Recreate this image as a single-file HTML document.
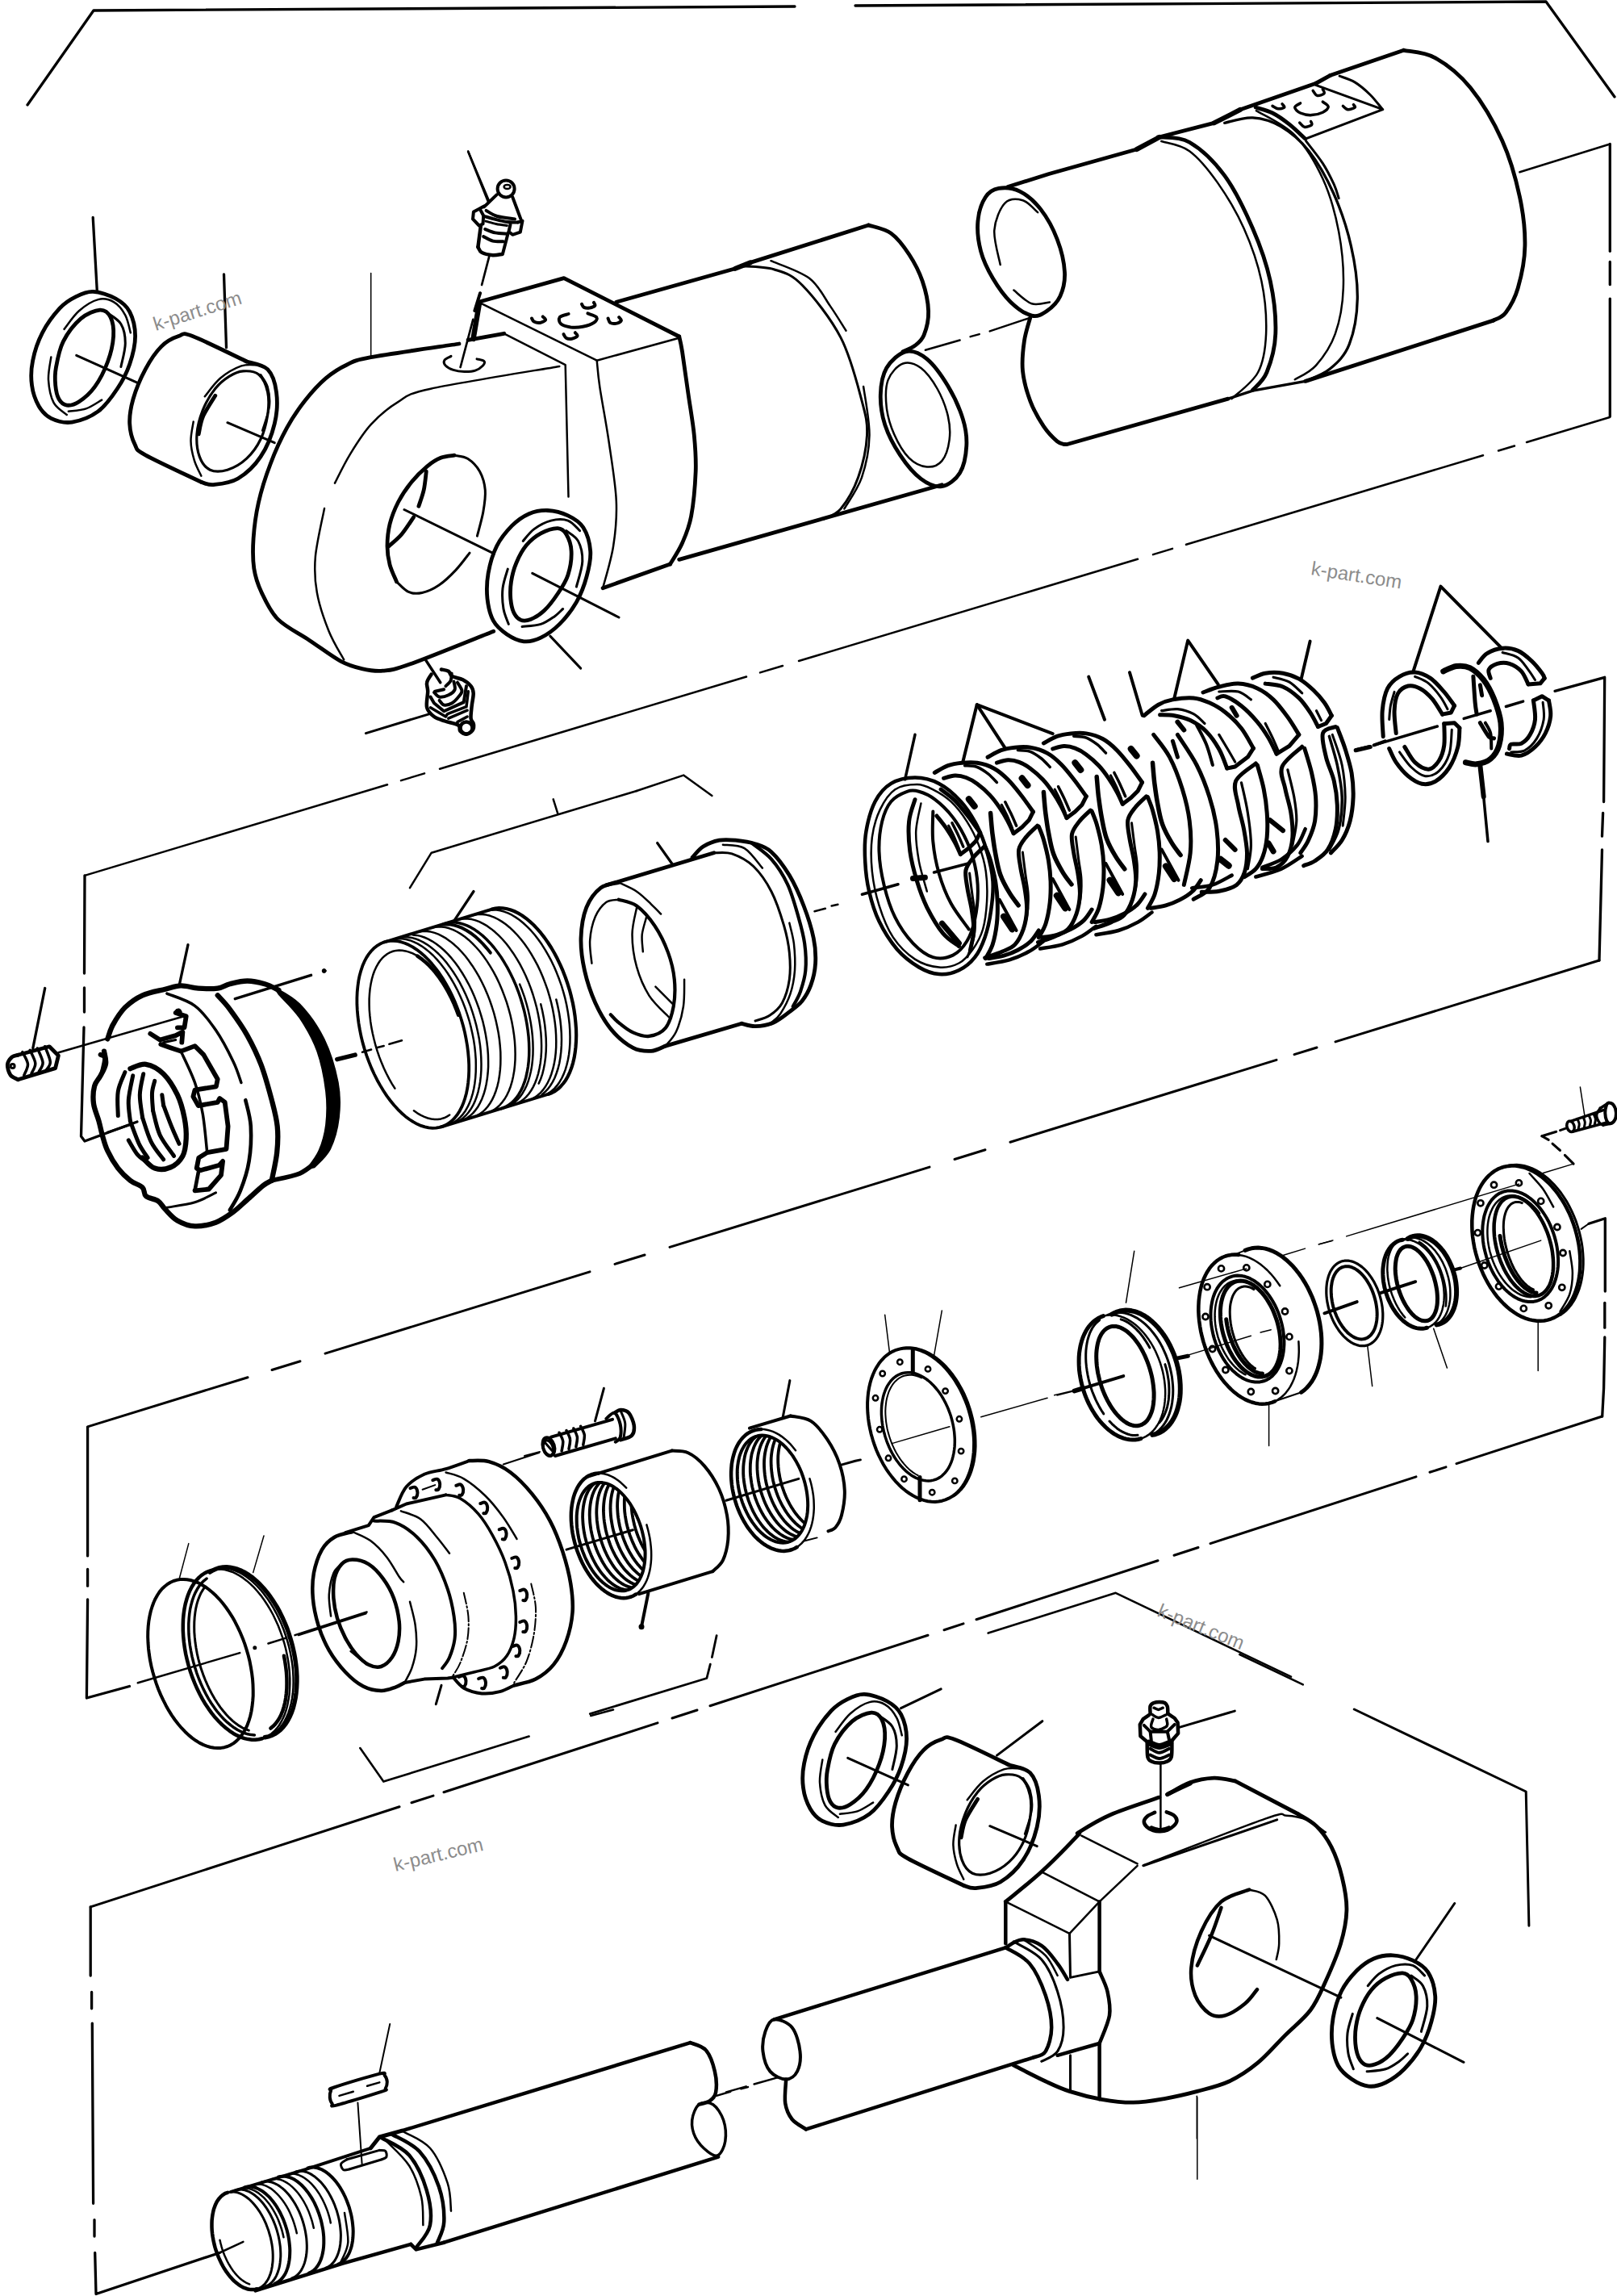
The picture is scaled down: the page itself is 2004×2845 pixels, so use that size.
<!DOCTYPE html>
<html><head><meta charset="utf-8"><title>diagram</title>
<style>html,body{margin:0;padding:0;background:#fff}svg{display:block}text{font-family:"Liberation Sans",sans-serif}</style></head>
<body><svg width="2004" height="2845" viewBox="0 0 2004 2845" fill="none" stroke="#000" stroke-linecap="round" stroke-linejoin="round">
<rect x="0" y="0" width="2004" height="2845" fill="#fff" stroke="none"/>
<path d="M34.0,130.0 L116.0,13.0 L985.0,8.0" stroke-width="3.3" />
<path d="M1060.0,7.0 L1916.0,2.0 L2001.0,120.0" stroke-width="3.3" />
<path d="M1995.3,178.5 L1995.3,311.3" stroke-width="3.3" />
<path d="M1995.3,324.4 L1995.3,352.7" stroke-width="3.3" />
<path d="M1995.3,370.1 L1995.3,515.9" stroke-width="3.3" />
<path d="M1995.3,178.5 L1883.4,213.3" stroke-width="2.5" />
<path d="M115.2,269.3 L120.3,360.6" stroke-width="3.3" />
<path d="M277.5,339.8 L280.5,430.7" stroke-width="3.3" />
<path d="M459.7,338.5 L459.7,443.7" stroke-width="1.5" />
<path d="M580.1,187.4 L606.1,248.9" stroke-width="2.5" />
<text x="193" y="410" transform="rotate(-17.5 193 410)" font-size="24" fill="#8c8c8c" stroke="none">k-part.com</text>
<path d="M580.5,188.4 L604.6,248.9" stroke-width="2.7" />
<circle cx="627.1" cy="233.9" r="10.5" stroke-width="4"/>
<ellipse cx="628.6" cy="231.4" rx="4" ry="2.5" stroke-width="2.5"/>
<path d="M615.5,241.4 L599.9,256.4" stroke-width="4" />
<path d="M635.2,244.1 L645.4,271.4" stroke-width="4" />
<path d="M599.9,255.4 L594.4,258.4 L586.9,262.5 L586.0,271.4 L593.7,279.5 L598.5,277.5 L599.2,267.3 L594.4,258.4" stroke-width="4" />
<path d="M602.6,260.9 C604.9,262.1 610.3,266.2 616.2,268.0 C622.1,269.7 634.3,270.8 638.0,271.4" stroke-width="4" />
<path d="M599.2,267.7 C601.1,268.2 605.9,269.7 610.7,271.0 C615.6,272.2 623.2,274.3 628.4,275.0 C633.7,275.8 639.8,275.4 642.0,275.4" stroke-width="4" />
<path d="M642.0,275.4 L647.5,273.7 L644.8,287.7 L635.2,290.8 L630.5,287.0 L632.5,278.2" stroke-width="4" />
<path d="M595.8,280.2 L592.4,306.1" stroke-width="4.5" />
<path d="M592.4,306.1 C593.2,307.2 594.1,311.2 597.1,312.9 C600.2,314.6 606.6,315.9 610.7,316.3 C614.9,316.6 620.4,315.1 622.3,314.9" stroke-width="4.5" />
<path d="M629.8,288.4 L623.0,314.5" stroke-width="4" />
<path d="M601.2,284.0 C603.3,284.7 609.0,287.4 613.5,288.4 C617.9,289.3 625.4,289.5 627.8,289.7" stroke-width="4" />
<path d="M599.2,293.1 C601.1,294.0 606.7,297.6 610.7,298.6 C614.8,299.6 621.5,299.1 623.7,299.3" stroke-width="4" />
<path d="M601.9,274.1 C604.1,274.6 610.4,276.6 614.8,277.5 C619.3,278.4 626.2,279.2 628.4,279.5" stroke-width="3" />
<path d="M606.3,317.6 L597.1,353.0" stroke-width="2.7" />
<path d="M595.1,363.2 L588.3,385.0" stroke-width="4" />
<path d="M586.3,395.9 L570.6,455.0" stroke-width="2.7" />
<path d="M593.7,374.1 L590.3,385.0" stroke-width="2" />
<path d="M559.0,441.4 C557.7,442.2 552.0,444.3 550.9,446.2 C549.8,448.1 550.4,451.0 552.2,453.0 C554.1,455.0 557.9,457.2 561.8,458.4 C565.6,459.7 570.8,460.4 575.4,460.5 C579.9,460.6 585.1,460.4 589.0,459.1 C592.8,457.9 596.7,454.9 598.5,453.0 C600.3,451.1 601.1,448.9 599.9,447.6 C598.6,446.2 592.5,445.3 591.0,444.8" stroke-width="3" />
<path d="M704.6,389.0 C702.8,389.7 695.3,391.1 693.7,393.1 C692.2,395.2 692.8,399.3 695.1,401.3 C697.4,403.3 702.8,404.8 707.3,405.4 C711.9,405.9 717.6,405.6 722.3,404.7 C727.1,403.8 733.1,401.9 735.9,399.9 C738.8,398.0 740.6,395.1 739.3,393.1 C738.1,391.2 730.2,389.2 728.4,388.4" stroke-width="4" />
<path d="M721.0,376.8 C721.4,377.5 722.1,380.1 723.7,380.9 C725.3,381.7 728.2,381.9 730.5,381.6 C732.7,381.2 736.4,380.0 737.3,378.8 C738.2,377.7 736.1,375.4 735.9,374.8" stroke-width="4" />
<path d="M659.0,394.5 C659.5,395.2 660.1,397.7 661.8,398.6 C663.5,399.5 666.9,400.3 669.3,399.9 C671.6,399.6 675.5,397.8 676.1,396.5 C676.6,395.3 673.2,393.1 672.7,392.4" stroke-width="4" />
<path d="M698.5,414.2 C699.1,415.0 700.2,418.1 701.9,419.0 C703.6,419.9 706.4,420.1 708.7,419.7 C711.0,419.2 714.8,417.5 715.5,416.3 C716.2,415.0 713.2,412.9 712.8,412.2" stroke-width="4" />
<path d="M753.6,394.5 C754.1,395.4 754.5,398.9 756.3,399.9 C758.1,401.0 762.2,401.1 764.5,400.6 C766.8,400.2 769.5,398.5 769.9,397.2 C770.4,396.0 767.7,393.8 767.2,393.1" stroke-width="4" />
<path d="M115.2,361.4 C123.5,361.7 135.8,365.9 143.4,370.0 C151.0,374.2 156.7,378.5 160.7,386.3 C164.7,394.0 167.6,405.8 167.6,416.6 C167.6,427.4 164.4,440.4 160.7,451.2 C157.0,462.0 152.0,471.8 145.5,481.5 C139.0,491.3 131.1,502.7 121.7,509.7 C112.4,516.6 99.0,521.6 89.3,523.1 C79.5,524.5 70.1,521.6 63.3,518.3 C56.4,515.0 52.1,510.0 48.1,503.2 C44.2,496.3 40.7,486.6 39.5,477.2 C38.2,467.8 38.4,457.7 40.6,446.9 C42.7,436.1 46.9,423.1 52.5,412.3 C58.1,401.4 67.3,389.3 74.1,381.9 C81.0,374.6 86.7,371.3 93.6,367.9 C100.4,364.5 106.9,361.0 115.2,361.4Z" stroke-width="4.8" />
<path d="M79.5,407.9 C82.6,404.1 90.9,391.3 97.9,385.2 C105.0,379.1 114.5,372.9 121.7,371.1 C128.9,369.3 135.6,371.1 141.2,374.4 C146.8,377.6 151.9,384.3 155.3,390.6 C158.7,396.9 160.7,408.6 161.8,412.3" stroke-width="2.5" />
<path d="M63.3,442.6 C62.7,447.2 59.5,461.3 60.0,470.7 C60.6,480.1 62.7,491.6 66.5,498.8 C70.3,506.0 80.1,511.5 82.8,514.0" stroke-width="2.5" />
<path d="M84.9,509.7 C88.5,509.1 99.7,508.8 106.6,506.4 C113.4,504.1 122.8,497.4 126.1,495.6" stroke-width="2.5" />
<path d="M123.9,384.1 C130.0,383.8 134.1,387.4 136.9,392.8 C139.7,398.2 141.1,407.4 140.6,416.6 C140.0,425.8 137.5,437.5 133.6,448.0 C129.8,458.4 123.4,471.1 117.4,479.4 C111.5,487.6 103.7,494.0 97.9,497.7 C92.2,501.5 86.9,502.6 82.8,502.1 C78.6,501.5 75.4,498.7 73.0,494.5 C70.7,490.4 69.3,483.7 68.7,477.2 C68.1,470.7 67.7,464.6 69.4,455.5 C71.0,446.5 73.3,433.2 78.4,423.1 C83.6,413.0 92.5,401.4 100.1,394.9 C107.7,388.4 117.8,384.5 123.9,384.1Z" stroke-width="4.8" />
<path d="M132.6,387.4 C135.4,389.7 146.1,395.1 149.9,401.4 C153.7,407.7 155.3,416.4 155.3,425.2 C155.3,434.1 150.8,449.6 149.9,454.5" stroke-width="3" />
<path d="M94.7,440.4 L169.4,473.9" stroke-width="3" />
<path d="M305.7,448.0 C294.5,442.7 252.7,421.8 238.6,416.6 C224.5,411.3 227.8,414.4 221.3,416.6 C214.8,418.7 206.5,422.7 199.7,429.6 C192.8,436.4 185.9,446.9 180.2,457.7 C174.4,468.5 168.3,483.3 165.0,494.5 C161.8,505.7 160.3,515.4 160.7,524.8 C161.1,534.2 163.9,544.3 167.2,550.8 C170.4,557.3 166.5,556.0 180.2,563.8 C193.9,571.5 237.9,591.7 249.4,597.3" stroke-width="4.8" />
<path d="M305.7,448.0 C310.0,449.6 325.6,451.4 331.7,457.7 C337.8,464.0 341.1,474.7 342.5,485.8 C344.0,497.0 343.6,511.5 340.3,524.8 C337.1,538.2 330.6,554.6 323.0,565.9 C315.5,577.3 304.6,587.2 294.9,593.0 C285.2,598.8 272.2,599.8 264.6,600.6 C257.0,601.3 252.0,597.9 249.4,597.3" stroke-width="4.8" />
<path d="M253.8,491.3 C257.0,487.5 265.7,474.8 273.2,468.5 C280.8,462.2 291.6,456.1 299.2,453.4 C306.8,450.7 315.5,452.5 318.7,452.3" stroke-width="2.5" />
<path d="M239.7,522.6 C239.2,526.6 236.3,538.5 236.5,546.5 C236.6,554.4 238.6,563.0 240.8,570.3 C242.9,577.5 248.0,586.5 249.4,589.7" stroke-width="2.5" />
<path d="M301.4,459.9 C307.5,459.5 315.8,459.9 320.9,464.2 C325.9,468.5 329.9,477.5 331.7,485.8 C333.5,494.1 333.1,504.2 331.7,514.0 C330.2,523.7 327.4,535.3 323.0,544.3 C318.7,553.3 312.6,561.8 305.7,568.1 C298.9,574.4 289.5,579.8 281.9,582.2 C274.3,584.5 266.0,584.9 260.3,582.2 C254.5,579.5 250.0,573.3 247.3,565.9 C244.6,558.5 243.3,547.5 244.0,537.8 C244.7,528.1 247.8,516.9 251.6,507.5 C255.4,498.1 261.3,488.4 266.8,481.5 C272.2,474.7 278.3,470.0 284.1,466.4 C289.8,462.8 295.3,460.2 301.4,459.9Z" stroke-width="3.2" />
<path d="M266.8,490.2 C264.2,494.5 255.0,508.2 251.6,516.1 C248.2,524.1 247.1,534.2 246.2,537.8" stroke-width="4.8" />
<path d="M325.2,533.5 C326.6,528.4 332.8,512.2 333.9,503.2 C334.9,494.1 333.5,485.8 331.7,479.4 C329.9,472.9 324.5,466.7 323.0,464.2" stroke-width="2.5" />
<path d="M281.9,523.7 L340.3,548.6" stroke-width="3" />
<path d="M569.0,426.0 C550.8,428.8 482.7,438.4 459.6,442.7 C436.4,447.1 439.1,447.7 429.9,452.0 C420.6,456.3 412.6,461.3 403.9,468.7 C395.2,476.1 386.0,486.3 377.9,496.5 C369.9,506.7 362.8,516.9 355.7,529.9 C348.5,542.9 341.1,559.0 335.3,574.5 C329.4,589.9 323.9,607.2 320.4,622.7 C316.9,638.2 315.0,653.6 314.1,667.2 C313.2,680.8 313.2,693.2 314.8,704.3 C316.5,715.5 319.2,723.5 324.1,734.0 C329.1,744.5 334.6,757.5 344.5,767.4 C354.4,777.3 370.5,784.7 383.5,793.4 C396.5,802.0 411.6,813.5 422.4,819.4 C433.3,825.2 439.8,826.6 448.4,828.6 C457.1,830.6 464.5,832.2 474.4,831.2 C484.3,830.3 484.9,831.2 507.8,823.1 C530.7,814.9 594.4,789.0 611.7,782.2" stroke-width="4.8" />
<path d="M693.3,453.9 C666.7,458.5 567.2,474.3 533.8,481.7 C500.4,489.1 505.3,491.0 492.9,498.4 C480.6,505.8 469.4,515.4 459.6,526.2 C449.7,537.0 441.0,551.3 433.6,563.3 C426.2,575.4 418.1,592.7 415.0,598.6" stroke-width="2.5" />
<path d="M402.0,630.1 C400.2,640.0 392.5,672.2 390.9,689.5 C389.4,706.8 390.0,718.5 392.8,734.0 C395.5,749.5 402.0,768.3 407.6,782.2 C413.2,796.2 423.1,811.6 426.2,817.5" stroke-width="2.5" />
<path d="M563.0,564.2 C565.8,564.9 574.6,565.1 579.9,568.4 C585.1,571.7 591.0,577.7 594.6,584.2 C598.1,590.6 600.6,598.9 601.3,607.3 C602.0,615.7 600.4,625.2 598.8,634.6 C597.1,644.1 592.6,659.2 591.4,664.1" stroke-width="3" />
<path d="M582.0,685.1 C579.2,688.6 571.4,699.5 565.1,706.1 C558.8,712.8 551.1,720.3 544.1,725.0 C537.1,729.8 529.4,733.1 523.1,734.5 C516.8,735.9 511.5,735.7 506.3,733.4 C501.0,731.2 494.0,722.9 491.5,720.8" stroke-width="3" />
<path d="M491.5,720.8 C490.1,717.3 485.1,707.2 483.1,699.8 C481.2,692.4 480.0,685.1 480.0,676.7 C480.0,668.3 480.9,658.4 483.1,649.3 C485.4,640.2 489.1,630.8 493.6,622.0 C498.2,613.2 504.5,604.1 510.5,596.8 C516.4,589.4 523.4,582.8 529.4,577.8 C535.3,572.9 540.6,569.6 546.2,567.3 C551.8,565.1 560.2,564.7 563.0,564.2" stroke-width="4.8" />
<path d="M528.3,584.2 C527.8,588.0 526.8,600.1 525.2,607.3 C523.6,614.5 519.9,623.9 518.9,627.3" stroke-width="4.8" />
<path d="M482.1,676.7 C484.7,674.2 492.8,667.9 497.8,662.0 C502.9,656.0 510.1,644.4 512.6,640.9" stroke-width="4.8" />
<path d="M501.0,631.5 L612.4,686.1" stroke-width="3" />
<path d="M678.7,632.5 C686.7,632.9 696.5,635.3 703.9,638.8 C711.3,642.3 718.2,646.2 722.8,653.5 C727.5,660.9 731.0,672.8 731.7,683.0 C732.4,693.1 729.9,704.0 727.0,714.5 C724.2,725.0 720.0,736.2 714.4,746.1 C708.8,755.9 700.8,766.0 693.4,773.4 C686.0,780.8 677.6,786.6 670.3,790.2 C662.9,793.8 656.2,795.5 649.2,794.8 C642.2,794.1 634.5,790.3 628.2,786.0 C621.9,781.7 615.4,776.5 611.4,769.2 C607.4,761.8 605.1,751.7 604.0,741.9 C603.0,732.0 603.2,721.2 605.1,710.3 C607.0,699.5 610.7,686.5 615.6,676.7 C620.5,666.9 627.9,658.1 634.5,651.4 C641.2,644.8 648.2,639.9 655.5,636.7 C662.9,633.6 670.6,632.2 678.7,632.5Z" stroke-width="4.8" />
<path d="M648.2,670.4 C650.5,667.9 656.1,659.9 661.9,655.6 C667.6,651.4 675.9,646.9 682.9,645.1 C689.9,643.4 698.0,643.0 703.9,645.1 C709.9,647.2 716.2,655.6 718.6,657.7" stroke-width="3" />
<path d="M629.3,705.1 C628.2,709.1 623.8,721.0 623.0,729.2 C622.1,737.5 622.8,747.1 624.0,754.5 C625.2,761.8 629.3,770.2 630.3,773.4" stroke-width="3" />
<path d="M647.1,776.5 C651.0,776.0 663.6,775.5 670.3,773.4 C676.9,771.3 682.5,767.1 687.1,763.9 C691.6,760.8 695.8,756.0 697.6,754.5" stroke-width="3" />
<path d="M691.3,654.6 C696.5,654.8 699.0,657.2 701.8,662.0 C704.6,666.7 707.8,674.6 708.1,683.0 C708.5,691.4 706.7,703.7 703.9,712.4 C701.1,721.2 696.2,728.2 691.3,735.5 C686.4,742.9 680.1,751.2 674.5,756.6 C668.9,761.9 662.6,765.6 657.6,767.5 C652.7,769.4 648.5,769.6 645.0,768.1 C641.5,766.7 638.7,763.1 636.6,758.7 C634.6,754.3 633.4,748.2 632.8,741.9 C632.3,735.5 632.3,728.2 633.5,720.8 C634.6,713.5 636.6,705.2 639.8,697.7 C642.9,690.2 647.3,681.8 652.4,675.6 C657.5,669.5 663.8,664.4 670.3,660.9 C676.7,657.4 686.0,654.4 691.3,654.6Z" stroke-width="4.8" />
<path d="M701.8,657.7 C704.3,659.9 713.2,664.1 716.5,670.4 C719.9,676.7 722.1,686.1 721.8,695.6 C721.4,705.1 715.6,721.9 714.4,727.1" stroke-width="3" />
<path d="M659.8,710.3 L767.0,765.0" stroke-width="3" />
<path d="M681.8,788.1 L719.7,828.1" stroke-width="3" />
<path d="M593.1,374.3 L698.9,344.6 L841.7,417.0" stroke-width="4.8" />
<path d="M593.9,376.2 L586.5,419.9" stroke-width="6.5" />
<path d="M593.1,374.3 L739.7,446.7 L841.7,418.8" stroke-width="2.5" />
<path d="M580.1,421.4 L624.7,413.3" stroke-width="4.8" />
<path d="M624.7,413.3 L700.7,452.2 L704.5,615.5" stroke-width="2.5" />
<path d="M841.7,417.0 C842.4,420.1 843.6,423.8 845.5,435.5 C847.3,447.3 850.4,470.2 852.9,487.5 C855.3,504.8 858.8,523.3 860.3,539.4 C861.8,555.5 862.8,567.3 862.2,584.0 C861.5,600.6 859.4,624.8 856.6,639.6 C853.8,654.5 849.8,663.1 845.5,673.0 C841.1,682.9 833.1,694.7 830.6,699.0" stroke-width="4.8" />
<path d="M830.6,699.0 L747.1,728.7" stroke-width="4.8" />
<path d="M739.7,446.7 C740.3,452.2 740.9,463.4 743.4,480.1 C745.9,496.8 751.1,523.3 754.5,546.8 C757.9,570.3 762.9,599.4 763.8,621.1 C764.7,642.7 762.9,658.8 760.1,676.7 C757.3,694.7 749.3,720.0 747.1,728.7" stroke-width="2.5" />
<path d="M763.8,374.3 L911.3,332.8" stroke-width="4.8" />
<path d="M911.3,332.8 L929.9,325.4" stroke-width="6" />
<path d="M929.9,325.4 L1076.4,279.0" stroke-width="4.8" />
<path d="M1076.4,279.0 C1081.1,280.7 1095.9,283.1 1104.3,289.1 C1112.6,295.1 1120.0,305.1 1126.5,315.0 C1133.0,324.9 1139.2,336.7 1143.2,348.4 C1147.2,360.2 1150.3,374.4 1150.6,385.5 C1151.0,396.7 1147.9,408.1 1145.1,415.2 C1142.3,422.3 1138.3,424.8 1134.0,428.2 C1129.6,431.6 1121.6,434.4 1119.1,435.6" stroke-width="4.8" />
<path d="M916.5,329.7 C923.7,330.4 946.8,330.0 959.7,334.0 C972.7,338.0 980.7,339.4 994.4,353.5 C1008.1,367.5 1029.7,394.6 1042.0,418.4 C1054.3,442.2 1062.6,476.1 1068.0,496.3 C1073.4,516.5 1075.2,523.7 1074.5,539.6 C1073.7,555.5 1069.0,576.4 1063.6,591.6 C1058.2,606.7 1049.2,621.9 1042.0,630.5 C1034.8,639.2 1024.0,641.3 1020.3,643.5" stroke-width="3" />
<path d="M955.4,323.2 C963.3,326.8 990.8,335.4 1003.0,344.8 C1015.3,354.2 1021.4,368.6 1029.0,379.4 C1036.6,390.3 1045.2,404.7 1048.5,409.7" stroke-width="2.5" />
<path d="M1070.1,479.0 C1071.4,489.1 1077.8,520.9 1077.5,539.6 C1077.1,558.4 1073.2,576.4 1068.0,591.6 C1062.8,606.7 1049.9,624.0 1046.3,630.5" stroke-width="2.5" />
<path d="M841.7,693.4 L1167.3,600.7" stroke-width="4.8" />
<path d="M1122.8,435.6 C1131.2,433.8 1140.1,437.8 1148.8,444.9 C1157.5,452.0 1167.3,465.9 1174.8,478.3 C1182.2,490.7 1189.5,506.7 1193.3,519.1 C1197.2,531.5 1198.4,541.4 1197.8,552.5 C1197.2,563.6 1194.7,577.6 1189.6,585.9 C1184.5,594.2 1175.4,601.4 1167.3,602.6 C1159.3,603.8 1150.0,599.8 1141.4,593.3 C1132.7,586.8 1122.8,574.8 1115.4,563.6 C1108.0,552.5 1100.9,538.9 1096.8,526.5 C1092.8,514.2 1091.0,501.2 1091.3,489.4 C1091.6,477.7 1093.4,465.0 1098.7,456.0 C1104.0,447.1 1114.5,437.5 1122.8,435.6Z" stroke-width="4.8" />
<path d="M1119.1,450.5 C1125.9,448.0 1134.3,450.8 1141.4,456.0 C1148.5,461.3 1156.2,472.1 1161.8,482.0 C1167.3,491.9 1172.3,504.9 1174.8,515.4 C1177.2,525.9 1177.9,535.8 1176.6,545.1 C1175.4,554.4 1172.0,565.5 1167.3,571.1 C1162.7,576.6 1155.6,579.1 1148.8,578.5 C1142.0,577.9 1133.3,574.1 1126.5,567.3 C1119.7,560.5 1112.6,548.2 1108.0,537.7 C1103.3,527.1 1099.9,515.4 1098.7,504.3 C1097.5,493.1 1097.2,479.8 1100.6,470.9 C1104.0,461.9 1112.3,452.9 1119.1,450.5Z" stroke-width="2.5" />
<path d="M1146.9,433.8 L1189.6,421.5" stroke-width="2.5" />
<path d="M1202.6,417.1 L1213.7,414.1" stroke-width="2.5" />
<path d="M1226.7,410.4 L1276.8,393.7" stroke-width="2.5" />
<path d="M1237.8,233.4 C1245.0,232.2 1255.2,232.8 1263.8,237.1 C1272.5,241.4 1282.1,249.5 1289.8,259.4 C1297.5,269.3 1305.3,283.5 1310.2,296.5 C1315.2,309.5 1318.9,325.5 1319.5,337.3 C1320.1,349.0 1317.6,358.9 1313.9,367.0 C1310.2,375.0 1303.1,381.5 1297.2,385.5 C1291.3,389.5 1286.1,392.9 1278.7,391.1 C1271.2,389.2 1260.7,382.1 1252.7,374.4 C1244.7,366.7 1236.6,355.2 1230.4,344.7 C1224.2,334.2 1218.7,323.1 1215.6,311.3 C1212.5,299.6 1210.9,285.3 1211.9,274.2 C1212.8,263.1 1216.8,251.3 1221.2,244.5 C1225.5,237.7 1230.7,234.6 1237.8,233.4Z" stroke-width="4.8" />
<path d="M1239.7,328.0 C1238.5,320.9 1231.4,298.0 1232.3,285.3 C1233.2,272.7 1239.4,258.1 1245.3,251.9 C1251.1,245.8 1260.7,246.4 1267.5,248.2 C1274.3,250.1 1283.0,260.6 1286.1,263.1" stroke-width="2.5" />
<path d="M1256.4,359.6 C1260.1,362.3 1271.2,373.8 1278.7,376.3 C1286.1,378.7 1297.2,374.7 1300.9,374.4" stroke-width="2.5" />
<path d="M1276.8,393.7 C1275.6,398.5 1270.9,411.6 1269.4,422.6 C1267.8,433.6 1266.3,447.4 1267.5,459.7 C1268.8,472.1 1272.5,485.4 1276.8,496.8 C1281.1,508.3 1287.9,520.0 1293.5,528.4 C1299.1,536.7 1305.9,543.2 1310.2,546.9 C1314.5,550.6 1317.9,550.0 1319.5,550.6" stroke-width="4.8" />
<path d="M1249.0,231.5 L1300.0,215.5 L1408.8,185.0" stroke-width="4.8" />
<path d="M1408.8,185.0 L1437.1,169.8" stroke-width="6" />
<path d="M1437.1,169.8 L1504.6,152.4" stroke-width="4.8" />
<path d="M1504.6,152.4 L1537.3,135.8" stroke-width="6" />
<path d="M1537.3,135.8 L1630.9,103.2" stroke-width="4.8" />
<path d="M1630.9,103.2 L1648.3,93.6" stroke-width="5" />
<path d="M1648.3,93.6 L1739.7,62.3" stroke-width="4.8" />
<path d="M1739.7,62.3 C1746.3,63.9 1765.1,64.1 1778.9,71.8 C1792.7,79.6 1808.7,91.8 1822.4,108.8 C1836.2,125.9 1851.5,151.7 1861.6,174.1 C1871.8,196.6 1878.7,222.0 1883.4,243.8 C1888.1,265.6 1890.3,285.9 1889.9,304.8 C1889.6,323.6 1885.2,343.2 1881.2,357.0 C1877.2,370.8 1871.1,380.8 1866.0,387.5 C1860.9,394.2 1853.3,395.5 1850.7,397.1" stroke-width="4.8" />
<path d="M1850.7,397.1 L1617.8,472.4" stroke-width="4.8" />
<path d="M1617.8,472.4 L1552.5,484.1 L1522.0,494.1" stroke-width="3.3" />
<path d="M1522.0,494.1 L1321.8,550.7 L1319.5,550.6" stroke-width="4.8" />
<path d="M1435.0,169.8 C1441.5,170.9 1460.4,168.3 1474.1,176.3 C1487.9,184.3 1504.6,199.9 1517.7,217.7 C1530.7,235.5 1543.1,261.2 1552.5,283.0 C1562.0,304.8 1569.6,326.5 1574.3,348.3 C1579.0,370.1 1581.5,394.7 1580.8,413.6 C1580.1,432.5 1574.6,449.9 1569.9,461.5 C1565.2,473.1 1555.4,479.6 1552.5,483.3" stroke-width="4.8" />
<path d="M1439.3,175.0 C1445.1,177.1 1462.5,178.6 1474.1,187.2 C1485.8,195.8 1497.7,210.4 1509.0,226.4 C1520.2,242.4 1532.6,262.7 1541.6,283.0 C1550.7,303.3 1558.8,326.5 1563.4,348.3 C1568.0,370.1 1569.8,394.7 1569.1,413.6 C1568.3,432.5 1566.2,448.1 1559.0,461.5 C1551.9,474.9 1531.8,488.7 1526.4,494.1" stroke-width="2.5" />
<path d="M1517.7,152.4 C1523.5,151.3 1540.9,145.1 1552.5,145.9 C1564.1,146.6 1575.7,149.8 1587.3,156.7 C1599.0,163.6 1611.3,173.4 1622.2,187.2 C1633.1,201.0 1643.9,219.9 1652.7,239.5 C1661.4,259.0 1669.5,283.0 1674.4,304.8 C1679.4,326.5 1682.6,349.8 1682.3,370.1 C1681.9,390.4 1677.9,412.2 1672.2,426.7 C1666.6,441.2 1657.4,449.5 1648.3,457.1 C1639.2,464.8 1622.9,469.8 1617.8,472.4" stroke-width="3.3" />
<path d="M1556.9,137.1 C1564.9,142.2 1591.0,153.5 1604.8,167.6 C1618.5,181.8 1630.5,202.1 1639.6,222.0 C1648.7,242.0 1655.0,264.9 1659.2,287.3 C1663.4,309.8 1665.6,336.0 1664.8,357.0 C1664.1,378.0 1660.5,397.6 1654.8,413.6 C1649.2,429.6 1639.2,443.4 1630.9,452.8 C1622.5,462.2 1609.1,467.3 1604.8,470.2" stroke-width="2.5" />
<path d="M527.9,818.4 L545.8,845.7" stroke-width="3.5" />
<path d="M546.9,829.5 C548.3,829.9 553.5,830.4 555.8,831.7 C558.0,833.1 557.3,836.1 560.2,837.9 C563.2,839.6 569.7,840.3 573.6,842.3 C577.5,844.4 581.4,847.3 583.6,850.1 C585.8,852.9 586.5,854.9 586.7,859.0 C586.9,863.1 585.2,869.4 584.7,874.6 C584.2,879.8 583.2,886.5 583.6,890.2 C584.0,893.9 586.6,894.5 586.9,896.9 C587.3,899.3 587.3,902.5 585.8,904.7 C584.3,906.8 580.6,909.5 578.0,909.7 C575.4,909.9 571.9,907.6 570.2,905.8 C568.6,903.9 571.2,900.6 568.0,898.5 C564.9,896.5 556.3,895.3 551.3,893.5 C546.3,891.8 541.7,890.7 538.0,888.0 C534.2,885.2 530.4,882.0 529.1,876.8 C527.8,871.6 530.2,862.0 530.2,856.8 C530.2,851.6 528.3,849.2 529.1,845.7 C529.8,842.1 533.7,837.3 534.6,835.6" stroke-width="4.5" />
<path d="M539.1,856.8 L550.2,854.3" stroke-width="4" />
<path d="M552.4,850.1 C553.5,849.0 557.3,846.0 558.6,843.4 C559.8,840.8 559.5,836.0 559.7,834.5" stroke-width="4" />
<path d="M538.0,857.9 C539.1,858.8 541.7,862.9 544.6,863.5 C547.6,864.0 552.6,862.7 555.8,861.2 C558.9,859.8 562.4,857.3 563.6,854.6 C564.7,851.8 562.6,846.2 562.4,844.5" stroke-width="4" />
<path d="M544.6,867.9 C545.6,868.8 547.6,872.9 550.2,873.5 C552.8,874.0 557.1,873.1 560.2,871.3 C563.4,869.4 567.1,865.0 569.1,862.4 C571.2,859.8 572.8,858.5 572.5,855.7 C572.1,852.9 567.8,847.3 566.9,845.7" stroke-width="4" />
<path d="M533.5,863.5 L538.0,871.3 L550.2,881.3 L574.7,870.1 L578.0,850.1" stroke-width="4" />
<path d="M533.5,876.8 L552.4,888.0 L554.7,884.6 L578.0,875.7 L580.3,856.8" stroke-width="3.5" />
<path d="M555.8,890.2 L579.1,880.2" stroke-width="3.5" />
<path d="M566.9,894.6 L579.1,888.0" stroke-width="3.5" />
<circle cx="578.0" cy="901.9" r="7.5" stroke-width="4.5"/>
<path d="M453.4,908.6 L532.4,884.6" stroke-width="3" />
<path d="M1995.0,517.0 L1892.0,548.0" stroke-width="2.5" />
<path d="M1877.0,552.5 L1857.0,558.5" stroke-width="2.5" />
<path d="M1838.0,564.2 L1470.0,674.8" stroke-width="2.5" />
<path d="M1453.0,679.9 L1429.0,687.1" stroke-width="2.5" />
<path d="M1410.0,692.8 L990.0,819.0" stroke-width="2.5" />
<path d="M970.0,825.0 L942.0,833.4" stroke-width="2.5" />
<path d="M925.0,838.5 L545.0,952.7" stroke-width="2.5" />
<path d="M526.0,958.4 L497.0,967.1" stroke-width="2.5" />
<path d="M480.0,972.3 L105.0,1084.9" stroke-width="2.5" />
<path d="M1630.6,105.4 L1713.8,135.7 L1617.7,172.1" stroke-width="3" />
<path d="M1660.1,94.2 C1663.3,95.5 1672.8,98.1 1679.1,101.9 C1685.5,105.8 1692.6,112.0 1698.2,117.5 C1703.8,123.0 1710.4,132.0 1712.9,134.8" stroke-width="3" />
<path d="M1556.2,133.1 C1559.7,134.3 1570.0,136.6 1577.0,140.0 C1583.9,143.5 1591.0,148.6 1597.7,153.9 C1604.5,159.2 1614.3,169.0 1617.7,172.1" stroke-width="4.8" />
<path d="M1611.6,127.9 C1610.4,128.8 1604.7,131.1 1604.7,133.1 C1604.7,135.1 1608.1,138.5 1611.6,140.0 C1615.1,141.6 1620.8,142.8 1625.5,142.6 C1630.1,142.5 1635.8,140.9 1639.3,139.2 C1642.8,137.4 1646.2,134.4 1646.2,132.3 C1646.2,130.1 1640.5,127.2 1639.3,126.2" stroke-width="3.5" />
<path d="M1577.0,131.4 C1578.1,132.0 1581.4,134.6 1583.9,134.8 C1586.3,135.1 1590.8,134.1 1591.7,133.1 C1592.6,132.1 1589.5,129.5 1589.1,128.8" stroke-width="3.5" />
<path d="M1627.2,112.3 C1628.1,113.3 1630.1,117.8 1632.4,118.4 C1634.7,119.0 1639.9,117.1 1641.0,115.8 C1642.2,114.5 1639.6,111.5 1639.3,110.6" stroke-width="3.5" />
<path d="M1664.4,131.4 C1665.4,132.1 1668.0,135.4 1670.5,135.7 C1672.9,136.0 1678.0,134.1 1679.1,133.1 C1680.3,132.1 1677.7,130.2 1677.4,129.7" stroke-width="3.5" />
<path d="M1610.7,152.2 C1611.7,153.0 1614.3,156.9 1616.8,157.4 C1619.2,157.8 1624.2,155.9 1625.5,154.8 C1626.8,153.6 1624.7,151.2 1624.6,150.4" stroke-width="3.5" />
<path d="M1618.5,174.7 C1622.0,179.3 1633.5,193.4 1639.3,202.4 C1645.1,211.3 1649.8,221.1 1653.2,228.4 C1656.5,235.6 1658.2,242.8 1659.2,245.7" stroke-width="3" />
<path d="M105.0,1085.0 L104.5,1206.0" stroke-width="3.3" />
<path d="M104.5,1224.0 L104.5,1254.0" stroke-width="3.3" />
<path d="M104.0,1273.0 L100.5,1408.0 L105.0,1414.0 L170.0,1390.0" stroke-width="3.3" />
<path d="M55.7,1224.5 L40.8,1298.7" stroke-width="3.3" />
<path d="M233.0,1170.7 L222.6,1218.9" stroke-width="3.3" />
<path d="M22.3,1307.2 C21.0,1307.7 17.0,1307.9 14.8,1309.8 C12.7,1311.8 9.6,1315.4 9.3,1319.1 C9.0,1322.8 10.8,1329.0 13.0,1332.1 C15.2,1335.2 20.7,1336.7 22.3,1337.7" stroke-width="4.8" />
<path d="M22.3,1307.2 L61.2,1296.8 L72.4,1308.0 L68.6,1323.6 L22.3,1337.7" stroke-width="4.8" />
<circle cx="15.6" cy="1321.0" r="2.5" stroke-width="3"/>
<path d="M27.8,1303.6 C28.9,1306.1 34.2,1313.7 34.5,1318.6 C34.8,1323.4 30.5,1330.2 29.7,1332.6" stroke-width="3.5" />
<path d="M37.1,1301.3 C38.2,1304.0 43.5,1312.8 43.8,1317.6 C44.1,1322.4 39.8,1328.1 39.0,1330.2" stroke-width="3.5" />
<path d="M46.4,1299.0 C47.5,1301.9 52.8,1311.9 53.1,1316.7 C53.4,1321.5 49.0,1326.1 48.2,1327.9" stroke-width="3.5" />
<path d="M55.7,1296.7 C56.8,1299.8 62.0,1310.9 62.3,1315.8 C62.6,1320.6 58.3,1324.0 57.5,1325.6" stroke-width="3.5" />
<path d="M72.4,1304.3 L226.3,1259.7" stroke-width="2.5" />
<path d="M133.3,1287.4 C134.4,1284.5 136.2,1276.6 139.8,1270.1 C143.4,1263.6 148.8,1254.6 154.9,1248.4 C161.1,1242.3 168.3,1237.1 176.6,1233.3 C184.9,1229.5 196.8,1227.7 204.7,1225.7 C212.7,1223.7 217.3,1221.6 224.2,1221.4 C231.1,1221.2 238.3,1224.1 245.8,1224.6 C253.4,1225.2 263.2,1225.5 269.7,1224.6 C276.1,1223.7 278.7,1220.7 284.8,1219.2 C290.9,1217.7 299.2,1215.5 306.5,1215.5 C313.7,1215.5 321.6,1217.3 328.1,1219.2 C334.6,1221.1 342.5,1225.5 345.4,1226.8" stroke-width="6.3" />
<path d="M129.0,1302.6 C129.3,1305.1 131.8,1312.7 131.1,1317.7 C130.4,1322.8 127.0,1328.2 124.6,1332.9 C122.3,1337.5 118.5,1340.1 117.1,1345.8 C115.6,1351.6 115.1,1360.3 116.0,1367.5 C116.9,1374.7 120.7,1382.6 122.5,1389.1 C124.3,1395.6 125.0,1400.3 126.8,1406.5 C128.6,1412.6 130.0,1419.1 133.3,1425.9 C136.5,1432.8 141.6,1441.4 146.3,1447.6 C151.0,1453.7 156.4,1458.8 161.4,1462.7 C166.5,1466.7 173.3,1468.1 176.6,1471.4 C179.8,1474.6 177.7,1479.4 180.9,1482.2 C184.2,1485.0 192.1,1485.6 196.1,1488.3 C200.0,1491.0 200.8,1494.4 204.7,1498.4 C208.7,1502.5 213.7,1509.0 219.9,1512.5 C226.0,1516.0 233.6,1519.1 241.5,1519.4 C249.5,1519.8 259.6,1517.6 267.5,1514.7 C275.4,1511.7 282.6,1506.4 289.1,1501.7 C295.6,1497.0 300.3,1491.9 306.5,1486.5 C312.6,1481.1 320.9,1473.2 325.9,1469.2 C331.0,1465.3 334.9,1463.8 336.8,1462.7" stroke-width="6.3" />
<path d="M269.7,1233.3 C272.2,1236.2 278.7,1242.3 284.8,1250.6 C290.9,1258.9 300.0,1271.5 306.5,1283.1 C312.9,1294.6 318.7,1306.5 323.8,1319.9 C328.8,1333.2 333.4,1350.5 336.8,1363.2 C340.1,1375.8 342.6,1384.8 343.7,1395.6 C344.8,1406.5 344.4,1416.9 343.2,1428.1 C342.1,1439.3 337.8,1457.0 336.8,1462.7" stroke-width="6.3" />
<path d="M206.9,1231.1 C212.7,1233.7 231.4,1238.7 241.5,1246.3 C251.6,1253.9 259.6,1265.0 267.5,1276.6 C275.4,1288.1 283.9,1304.7 289.1,1315.5 C294.4,1326.4 297.3,1337.2 298.9,1341.5" stroke-width="3.5" />
<path d="M304.3,1363.2 C305.4,1368.6 310.1,1383.0 310.8,1395.6 C311.5,1408.3 310.8,1425.6 308.6,1438.9 C306.5,1452.3 301.8,1465.6 297.8,1475.7 C293.8,1485.8 287.0,1495.6 284.8,1499.5" stroke-width="4.6" />
<path d="M336.8,1462.7 C342.5,1461.3 362.0,1458.0 371.4,1454.1 C380.8,1450.1 389.4,1441.4 393.0,1438.9" stroke-width="5.8" />
<path d="M206.9,1496.3 C212.7,1495.2 231.4,1492.8 241.5,1489.8 C251.6,1486.7 263.2,1479.9 267.5,1477.9" stroke-width="3" />
<path d="M338.9,1222.5 C344.3,1226.1 360.9,1233.3 371.4,1244.1 C381.8,1254.9 393.8,1271.2 401.7,1287.4 C409.6,1303.6 415.9,1325.3 419.0,1341.5 C422.1,1357.7 421.7,1371.1 420.1,1384.8 C418.5,1398.5 414.3,1413.5 409.3,1423.8 C404.2,1434.0 393.0,1442.7 389.8,1446.5 L380.0,1448.7 C382.6,1444.9 391.2,1435.1 395.2,1425.9 C399.2,1416.7 402.4,1405.7 403.9,1393.5 C405.3,1381.2 405.7,1367.5 403.9,1352.3 C402.0,1337.2 398.4,1317.7 393.0,1302.6 C387.6,1287.4 379.3,1273.2 371.4,1261.4 C363.4,1249.7 349.7,1237.1 345.4,1232.2Z" stroke-width="1.5" fill="#000"/>
<path d="M217.7,1254.9 L230.7,1259.3 L228.5,1273.3 L219.9,1273.3" stroke-width="5.8" />
<circle cx="221.0" cy="1253.9" r="4" fill="#000"/>
<path d="M186.3,1280.9 L198.2,1288.5 L217.7,1283.1 L226.4,1278.7 L225.3,1291.7" stroke-width="5.8" />
<path d="M199.3,1293.9 L211.2,1298.2 L224.2,1302.6 L241.5,1296.1 L252.3,1306.9 L269.7,1337.2 L267.9,1346.3 L241.5,1350.6 L239.4,1358.8 L245.8,1370.1 L269.7,1365.8 L272.3,1361.0 L278.7,1365.8 L282.6,1395.6 L280.5,1423.8 L256.7,1428.1 L246.3,1434.6 L243.7,1447.6 L248.4,1450.2 L271.8,1443.7 L276.1,1438.9 L274.0,1456.2 L258.8,1473.5 L241.5,1475.3" stroke-width="5.8" />
<path d="M224.2,1302.6 C227.1,1309.0 237.0,1328.5 241.5,1341.5 C246.0,1354.5 248.7,1366.0 251.3,1380.5 C253.8,1394.9 255.8,1420.2 256.7,1428.1" stroke-width="3.5" />
<path d="M246.3,1450.2 L241.5,1475.3" stroke-width="4.6" />
<path d="M202.6,1291.7 L217.7,1288.5" stroke-width="3" />
<path d="M124.6,1306.9 C125.5,1307.6 129.7,1307.6 130.0,1311.2 C130.4,1314.8 127.3,1325.6 126.8,1328.5" stroke-width="5.8" />
<path d="M161.4,1324.2 C164.7,1323.3 174.1,1317.7 180.9,1318.8 C187.8,1319.9 196.1,1324.4 202.6,1330.7 C209.0,1337.0 215.5,1347.6 219.9,1356.7 C224.2,1365.7 226.7,1375.8 228.5,1384.8 C230.3,1393.8 231.1,1402.8 230.7,1410.8 C230.3,1418.7 229.6,1426.5 226.4,1432.4 C223.1,1438.4 217.0,1444.0 211.2,1446.5 C205.4,1449.0 197.5,1449.6 191.7,1447.6 C186.0,1445.6 179.1,1436.8 176.6,1434.6" stroke-width="6.3" />
<path d="M146.3,1382.6 C146.3,1377.6 144.8,1361.4 146.3,1352.3 C147.7,1343.3 153.5,1332.5 154.9,1328.5" stroke-width="5" />
<path d="M161.4,1389.1 C161.1,1384.8 158.7,1372.5 159.3,1363.2 C159.8,1353.8 163.8,1337.9 164.7,1332.9" stroke-width="5" />
<path d="M176.6,1384.8 C176.0,1380.1 173.2,1365.7 173.3,1356.7 C173.5,1347.6 176.9,1335.0 177.7,1330.7" stroke-width="5" />
<path d="M161.4,1389.1 C163.2,1393.8 168.6,1409.7 172.3,1417.3 C175.9,1424.8 181.3,1431.7 183.1,1434.6" stroke-width="5" />
<path d="M176.6,1384.8 C178.4,1389.9 183.1,1406.5 187.4,1415.1 C191.7,1423.8 200.0,1433.1 202.6,1436.8" stroke-width="5" />
<path d="M189.6,1376.1 C189.4,1372.5 188.1,1360.6 188.5,1354.5 C188.8,1348.4 191.2,1341.9 191.7,1339.4" stroke-width="5" />
<path d="M189.6,1376.1 C191.0,1381.2 193.9,1397.1 198.2,1406.5 C202.6,1415.8 212.7,1428.1 215.5,1432.4" stroke-width="5" />
<path d="M202.6,1369.7 L200.8,1356.7" stroke-width="5" />
<path d="M202.6,1369.7 C204.4,1374.3 210.1,1389.9 213.4,1397.8 C216.6,1405.7 220.6,1414.0 222.0,1417.3" stroke-width="5" />
<path d="M159.3,1412.9 C161.1,1415.8 166.5,1425.9 170.1,1430.3 C173.7,1434.6 179.1,1437.5 180.9,1438.9" stroke-width="5" />
<path d="M133.3,1403.2 L161.4,1393.5" stroke-width="3" />
<path d="M291.3,1237.6 L385.5,1208.4" stroke-width="3.5" />
<circle cx="401.7" cy="1203.0" r="2.5" fill="#000"/>
<path d="M417.8,1312.7 L440.1,1307.1" stroke-width="5.5" />
<path d="M449.0,1303.8 L460.1,1300.5" stroke-width="2.5" />
<path d="M466.8,1298.2 L475.7,1296.0" stroke-width="2.5" />
<path d="M482.4,1293.8 L498.0,1289.3" stroke-width="2.5" />
<path d="M571.8,1263.5 L574.1,1271.5 L576.1,1279.6 L577.7,1287.7 L579.1,1295.8 L580.1,1303.8 L580.8,1311.7 L581.2,1319.4 L581.2,1327.0 L580.9,1334.3 L580.2,1341.4 L579.3,1348.2 L578.0,1354.7 L576.3,1360.8 L574.4,1366.5 L572.1,1371.9 L569.6,1376.7 L566.7,1381.2 L563.6,1385.1 L560.3,1388.5 L556.7,1391.4 L552.9,1393.8 L548.9,1395.7 L544.7,1396.9 L540.4,1397.7 L535.9,1397.8 L531.3,1397.4 L526.6,1396.4 L521.8,1394.9 L517.0,1392.8 L512.2,1390.2 L507.3,1387.0 L502.5,1383.4 L497.7,1379.2 L493.0,1374.6 L488.4,1369.5 L483.9,1364.0 L479.5,1358.1 L475.3,1351.8 L471.3,1345.1 L467.4,1338.2 L463.8,1331.0 L460.4,1323.6 L457.3,1315.9 L454.4,1308.1 L451.8,1300.1 L449.5,1292.1 L447.5,1284.0 L445.9,1275.9 L444.5,1267.8 L443.5,1259.8 L442.8,1251.9 L442.4,1244.2 L442.4,1236.6 L442.7,1229.3 L443.4,1222.2 L444.3,1215.4 L445.6,1208.9 L447.3,1202.8 L449.2,1197.1 L451.5,1191.7 L454.0,1186.9 L456.9,1182.4 L460.0,1178.5 L463.3,1175.1 L466.9,1172.2 L470.7,1169.8 L474.7,1167.9 L478.9,1166.7 L483.2,1165.9 L487.7,1165.8 L492.3,1166.2 L497.0,1167.2 L501.8,1168.7 L506.6,1170.8 L511.4,1173.4 L516.3,1176.6 L521.1,1180.2 L525.9,1184.4 L530.6,1189.0 L535.2,1194.1 L539.7,1199.6 L544.1,1205.5 L548.3,1211.8 L552.3,1218.5 L556.2,1225.4 L559.8,1232.6 L563.2,1240.0 L566.3,1247.7 L569.2,1255.5 L571.8,1263.5Z" stroke-width="3.8" />
<path d="M489.4,1348.7 L485.7,1342.8 L482.2,1336.6 L478.9,1330.2 L475.7,1323.5 L472.8,1316.6 L470.1,1309.6 L467.6,1302.4 L465.4,1295.2 L463.5,1287.8 L461.8,1280.5 L460.3,1273.1 L459.2,1265.9 L458.4,1258.7 L457.8,1251.6 L457.6,1244.6 L457.6,1237.9 L458.0,1231.3 L458.6,1225.1 L459.6,1219.1 L460.8,1213.4 L462.3,1208.0 L464.1,1203.0 L466.2,1198.4 L468.5,1194.3 L471.0,1190.5 L473.8,1187.2 L476.8,1184.4 L480.0,1182.0 L483.4,1180.1 L487.0,1178.8 L490.7,1177.9 L494.6,1177.5 L498.6,1177.7 L502.6,1178.4 L506.8,1179.6 L511.0,1181.2 L515.3,1183.4 L519.5,1186.1 L523.8,1189.2 L528.1,1192.8 L532.3,1196.8 L536.4,1201.3 L540.4,1206.1 L544.4,1211.4 L548.2,1216.9" stroke-width="2.5" />
<path d="M517.4,1184.7 L521.9,1187.8 L526.4,1191.4 L530.9,1195.5 L535.3,1200.1 L539.6,1205.1 L543.8,1210.5 L547.8,1216.4 L551.7,1222.6 L555.5,1229.1 L559.0,1235.9 L562.3,1243.0 L565.3,1250.3 L568.1,1257.8" stroke-width="4.5" />
<path d="M557.2,1381.5 L553.8,1383.6 L550.3,1385.3 L546.5,1386.4 L542.6,1387.0 L538.6,1387.0 L534.5,1386.5 L530.2,1385.5 L525.9,1383.9 L521.6,1381.9 L517.2,1379.3 L512.9,1376.2" stroke-width="2.5" />
<path d="M485.4,1164.6 L489.6,1163.6 L494.1,1163.2 L498.6,1163.3 L503.3,1164.0 L508.0,1165.2 L512.8,1167.1 L517.6,1169.4 L522.5,1172.3 L527.3,1175.7 L532.1,1179.6 L536.9,1184.0 L541.5,1188.9 L546.1,1194.2 L550.5,1199.9 L554.8,1206.0 L558.9,1212.5 L562.9,1219.3 L566.6,1226.3 L570.1,1233.7 L573.4,1241.2 L576.4,1249.0 L579.1,1256.8 L581.6,1264.8 L583.7,1272.9 L585.5,1281.0 L587.1,1289.1 L588.3,1297.1 L589.1,1305.1 L589.7,1312.9 L589.8,1320.6 L589.7,1328.0 L589.2,1335.3 L588.4,1342.2 L587.3,1348.8 L585.8,1355.1 L584.0,1361.1 L581.9,1366.6 L579.5,1371.7 L576.8,1376.4 L573.8,1380.6 L570.6,1384.2 L567.1,1387.4 L563.4,1390.1 L559.5,1392.2 L555.4,1393.7" stroke-width="2.5" />
<path d="M492.1,1162.6 L496.3,1161.6 L500.8,1161.1 L505.3,1161.2 L510.0,1161.9 L514.7,1163.2 L519.5,1165.0 L524.3,1167.4 L529.2,1170.3 L534.0,1173.7 L538.8,1177.6 L543.6,1182.0 L548.2,1186.8 L552.8,1192.1 L557.2,1197.9 L561.5,1204.0 L565.6,1210.4 L569.6,1217.2 L573.3,1224.3 L576.8,1231.6 L580.1,1239.2 L583.1,1246.9 L585.8,1254.8 L588.2,1262.8 L590.4,1270.9 L592.2,1279.0 L593.8,1287.1 L595.0,1295.1 L595.8,1303.0 L596.3,1310.9 L596.5,1318.5 L596.4,1326.0 L595.9,1333.2 L595.1,1340.2 L593.9,1346.8 L592.5,1353.1 L590.7,1359.0 L588.6,1364.6 L586.2,1369.7 L583.5,1374.3 L580.5,1378.5 L577.3,1382.2 L573.8,1385.4 L570.1,1388.0 L566.2,1390.1 L562.1,1391.7" stroke-width="2.5" />
<path d="M511.6,1158.5 L516.3,1158.9 L521.0,1159.9 L525.9,1161.5 L530.7,1163.6 L535.6,1166.3 L540.5,1169.5 L545.4,1173.3 L550.3,1177.5 L555.0,1182.2 L559.7,1187.4 L564.2,1193.1 L568.6,1199.1 L572.8,1205.5 L576.9,1212.3 L580.7,1219.3 L584.4,1226.7 L587.7,1234.3 L590.8,1242.1 L593.7,1250.0 L596.2,1258.1 L598.5,1266.2 L600.4,1274.4 L602.0,1282.6 L603.3,1290.7 L604.3,1298.8 L604.9,1306.8 L605.1,1314.5 L605.1,1322.1 L604.6,1329.5 L603.8,1336.6 L602.7,1343.3 L601.3,1349.7 L599.5,1355.8 L597.4,1361.4 L595.0,1366.6 L592.3,1371.4 L589.3,1375.6 L586.1,1379.4 L582.6,1382.6 L578.8,1385.3 L574.9,1387.5 L570.7,1389.1" stroke-width="2.5" />
<path d="M516.0,1155.2 L520.3,1154.2 L524.7,1153.8 L529.2,1153.9 L533.9,1154.6 L538.6,1155.9 L543.4,1157.7 L548.2,1160.1 L553.1,1162.9 L557.9,1166.4 L562.7,1170.3 L567.5,1174.7 L572.1,1179.5 L576.7,1184.8 L581.1,1190.6 L585.4,1196.7 L589.5,1203.1 L593.5,1209.9 L597.2,1217.0 L600.7,1224.3 L604.0,1231.9 L607.0,1239.6 L609.7,1247.5 L612.2,1255.5 L614.3,1263.6 L616.1,1271.7 L617.7,1279.7 L618.9,1287.8 L619.7,1295.7 L620.3,1303.6 L620.4,1311.2 L620.3,1318.7 L619.8,1325.9 L619.0,1332.8 L617.9,1339.5 L616.4,1345.8 L614.6,1351.7 L612.5,1357.3 L610.1,1362.4 L607.4,1367.0 L604.4,1371.2 L601.2,1374.9 L597.7,1378.1 L594.0,1380.7 L590.1,1382.8 L586.0,1384.4" stroke-width="2.5" />
<path d="M534.2,1149.7 L538.4,1148.7 L542.8,1148.3 L547.4,1148.4 L552.0,1149.1 L556.8,1150.3 L561.6,1152.1 L566.4,1154.5 L571.2,1157.4 L576.1,1160.8 L580.9,1164.7 L585.6,1169.1 L590.3,1174.0 L594.9,1179.3 L599.3,1185.0 L603.6,1191.1 L607.7,1197.6 L611.7,1204.3 L615.4,1211.4 L618.9,1218.8 L622.1,1226.3 L625.1,1234.1 L627.9,1241.9 L630.3,1249.9 L632.5,1258.0 L634.3,1266.1 L635.8,1274.2 L637.0,1282.2 L637.9,1290.2 L638.4,1298.0 L638.6,1305.7 L638.5,1313.1 L638.0,1320.3 L637.2,1327.3 L636.0,1333.9 L634.6,1340.2 L632.8,1346.2 L630.7,1351.7 L628.3,1356.8 L625.6,1361.5 L622.6,1365.6 L619.4,1369.3 L615.9,1372.5 L612.2,1375.2 L608.3,1377.3 L604.2,1378.8" stroke-width="2.5" />
<path d="M551.4,1144.4 L555.6,1143.4 L560.1,1143.0 L564.6,1143.1 L569.2,1143.8 L574.0,1145.1 L578.8,1146.9 L583.6,1149.2 L588.5,1152.1 L593.3,1155.5 L598.1,1159.4 L602.8,1163.8 L607.5,1168.7 L612.1,1174.0 L616.5,1179.7 L620.8,1185.8 L624.9,1192.3 L628.9,1199.1 L632.6,1206.2 L636.1,1213.5 L639.4,1221.0 L642.4,1228.8 L645.1,1236.7 L647.5,1244.7 L649.7,1252.7 L651.5,1260.8 L653.0,1268.9 L654.2,1277.0 L655.1,1284.9 L655.6,1292.7 L655.8,1300.4 L655.7,1307.9 L655.2,1315.1 L654.4,1322.0 L653.2,1328.7 L651.8,1335.0 L650.0,1340.9 L647.9,1346.4 L645.5,1351.5 L642.8,1356.2 L639.8,1360.4 L636.6,1364.1 L633.1,1367.2 L629.4,1369.9 L625.5,1372.0 L621.4,1373.6" stroke-width="3.5" />
<path d="M644.1,1219.6 L647.1,1227.3 L649.9,1235.2 L652.3,1243.2 L654.5,1251.3 L656.3,1259.4 L657.8,1267.5 L659.0,1275.5 L659.9,1283.5 L660.4,1291.3 L660.6,1298.9 L660.5,1306.4 L660.0,1313.6 L659.2,1320.6 L658.0,1327.2 L656.5,1333.5 L654.8,1339.4 L652.7,1345.0 L650.2,1350.1 L647.6,1354.7 L644.6,1358.9 L641.4,1362.6 L637.9,1365.8 L634.2,1368.4 L630.3,1370.5 L626.2,1372.1" stroke-width="2.5" />
<path d="M566.7,1139.8 L570.9,1138.8 L575.4,1138.3 L579.9,1138.4 L584.6,1139.1 L589.3,1140.4 L594.1,1142.2 L598.9,1144.6 L603.8,1147.4 L608.6,1150.9 L613.4,1154.8 L618.1,1159.2 L622.8,1164.0 L627.4,1169.3 L631.8,1175.1 L636.1,1181.2 L640.2,1187.6 L644.2,1194.4 L647.9,1201.5 L651.4,1208.8 L654.7,1216.4 L657.7,1224.1 L660.4,1232.0 L662.8,1240.0 L665.0,1248.1 L666.8,1256.2 L668.3,1264.2 L669.5,1272.3 L670.4,1280.2 L670.9,1288.1 L671.1,1295.7 L671.0,1303.2 L670.5,1310.4 L669.7,1317.4 L668.5,1324.0 L667.1,1330.3 L665.3,1336.2 L663.2,1341.8 L660.8,1346.9 L658.1,1351.5 L655.1,1355.7 L651.9,1359.4 L648.4,1362.6 L644.7,1365.2 L640.8,1367.3 L636.7,1368.9" stroke-width="2.5" />
<path d="M584.8,1134.2 L589.1,1133.2 L593.5,1132.8 L598.1,1132.9 L602.7,1133.6 L607.5,1134.8 L612.3,1136.6 L617.1,1139.0 L621.9,1141.9 L626.8,1145.3 L631.6,1149.2 L636.3,1153.6 L641.0,1158.5 L645.5,1163.8 L650.0,1169.5 L654.3,1175.6 L658.4,1182.1 L662.3,1188.8 L666.1,1195.9 L669.6,1203.3 L672.8,1210.8 L675.8,1218.6 L678.6,1226.4 L681.0,1234.4 L683.2,1242.5 L685.0,1250.6 L686.5,1258.7 L687.7,1266.7 L688.6,1274.7 L689.1,1282.5 L689.3,1290.2 L689.2,1297.6 L688.7,1304.8 L687.9,1311.8 L686.7,1318.4 L685.2,1324.7 L683.4,1330.7 L681.3,1336.2 L678.9,1341.3 L676.2,1346.0 L673.3,1350.1 L670.1,1353.8 L666.6,1357.0 L662.9,1359.7 L659.0,1361.8 L654.9,1363.3" stroke-width="2.5" />
<path d="M602.0,1128.9 L606.3,1127.9 L610.7,1127.5 L615.3,1127.6 L619.9,1128.3 L624.7,1129.6 L629.5,1131.4 L634.3,1133.7 L639.1,1136.6 L644.0,1140.0 L648.8,1144.0 L653.5,1148.4 L658.2,1153.2 L662.8,1158.5 L667.2,1164.2 L671.5,1170.3 L675.6,1176.8 L679.5,1183.6 L683.3,1190.7 L686.8,1198.0 L690.0,1205.6 L693.0,1213.3 L695.8,1221.2 L698.2,1229.2 L700.4,1237.2 L702.2,1245.3 L703.7,1253.4 L704.9,1261.5 L705.8,1269.4 L706.3,1277.2 L706.5,1284.9 L706.4,1292.4 L705.9,1299.6 L705.1,1306.5 L703.9,1313.2 L702.4,1319.5 L700.7,1325.4 L698.6,1330.9 L696.2,1336.0 L693.5,1340.7 L690.5,1344.9 L687.3,1348.6 L683.8,1351.7 L680.1,1354.4 L676.2,1356.5 L672.1,1358.1" stroke-width="2.5" />
<path d="M609.7,1126.6 L614.0,1125.6 L618.4,1125.2 L622.9,1125.3 L627.6,1126.0 L632.3,1127.2 L637.1,1129.0 L641.9,1131.4 L646.8,1134.3 L651.6,1137.7 L656.4,1141.6 L661.2,1146.0 L665.8,1150.9 L670.4,1156.2 L674.8,1161.9 L679.1,1168.0 L683.3,1174.5 L687.2,1181.2 L690.9,1188.3 L694.4,1195.7 L697.7,1203.2 L700.7,1211.0 L703.4,1218.8 L705.9,1226.8 L708.0,1234.9 L709.9,1243.0 L711.4,1251.1 L712.6,1259.1 L713.4,1267.1 L714.0,1274.9 L714.2,1282.6 L714.0,1290.0 L713.5,1297.2 L712.7,1304.2 L711.6,1310.8 L710.1,1317.1 L708.3,1323.1 L706.2,1328.6 L703.8,1333.7 L701.1,1338.4 L698.1,1342.5 L694.9,1346.2 L691.5,1349.4 L687.8,1352.1 L683.8,1354.2 L679.8,1355.7" stroke-width="4.2" />
<path d="M549.1,1145.6 L553.7,1145.3 L558.5,1145.6 L563.4,1146.6 L568.3,1148.1 L573.3,1150.2 L578.4,1153.0 L583.4,1156.2 L588.5,1160.1 L593.4,1164.5 L598.3,1169.4 L603.1,1174.8 L607.8,1180.6" stroke-width="4" />
<path d="M689.3,1238.4 L691.3,1246.9 L693.0,1255.3 L694.3,1263.7 L695.2,1272.0 L695.8,1280.1 L696.0,1288.1 L695.8,1295.9 L695.3,1303.4 L694.4,1310.6 L693.2,1317.5 L691.6,1324.0 L689.6,1330.0 L687.4,1335.7 L684.8,1340.9 L681.9,1345.5 L678.7,1349.7 L675.2,1353.3 L671.5,1356.4" stroke-width="2.5" />
<path d="M670.2,1244.3 L672.2,1252.8 L673.9,1261.4 L675.2,1269.9 L676.1,1278.3 L676.7,1286.6 L676.9,1294.7 L676.7,1302.6 L676.1,1310.1 L675.1,1317.4 L673.8,1324.3 L672.2,1330.9 L670.1,1337.0 L667.7,1342.6" stroke-width="2.5" />
<path d="M476.8,1167.2 L609.7,1126.6" stroke-width="3.8" />
<path d="M546.8,1396.4 L679.8,1355.7" stroke-width="3.8" />
<path d="M587.0,1104.5 L562.5,1141.3" stroke-width="3.3" />
<path d="M508.0,1100.1 L534.7,1056.7 L700.0,1006.7 L789.1,980.0" stroke-width="2.5" />
<path d="M766.8,1093.5 C763.1,1094.7 751.2,1095.0 744.5,1100.2 C737.8,1105.4 730.8,1114.3 726.7,1124.7 C722.6,1135.1 720.4,1149.6 720.0,1162.6 C719.7,1175.5 721.5,1189.3 724.5,1202.6 C727.5,1216.0 732.3,1230.5 737.8,1242.7 C743.4,1255.0 750.1,1266.8 757.9,1276.1 C765.7,1285.4 776.4,1294.0 784.6,1298.4 C792.8,1302.7 800.2,1302.7 806.9,1302.4 C813.5,1302.0 821.7,1297.2 824.7,1296.1" stroke-width="4.8" />
<path d="M766.8,1093.5 C770.5,1095.4 782.4,1100.2 789.1,1104.7 C795.7,1109.1 801.9,1115.6 806.9,1120.3 C811.9,1124.9 817.1,1130.5 819.1,1132.5" stroke-width="2.5" />
<path d="M848.1,1213.8 C847.9,1219.3 848.6,1236.4 846.9,1247.2 C845.3,1257.9 841.7,1270.2 838.0,1278.3 C834.3,1286.5 826.9,1293.2 824.7,1296.1" stroke-width="2.5" />
<path d="M766.8,1114.7 C770.5,1116.0 781.6,1117.1 789.1,1122.5 C796.5,1127.9 804.8,1137.3 811.3,1147.0 C817.8,1156.6 823.9,1169.2 828.0,1180.4 C832.1,1191.5 834.7,1202.6 835.8,1213.8 C836.9,1224.9 836.5,1237.1 834.7,1247.2 C832.8,1257.2 829.7,1267.8 824.7,1273.9 C819.7,1280.0 811.3,1283.0 804.6,1283.9 C798.0,1284.8 790.9,1282.2 784.6,1279.4 C778.3,1276.7 771.4,1270.9 766.8,1267.2 C762.2,1263.5 758.4,1258.8 756.8,1257.2" stroke-width="4.2" />
<path d="M733.4,1193.7 C733.0,1188.9 730.4,1174.4 731.2,1164.8 C731.9,1155.1 734.5,1143.6 737.8,1135.8 C741.2,1128.1 746.4,1121.6 751.2,1118.0 C756.0,1114.5 764.2,1115.3 766.8,1114.7" stroke-width="2.5" />
<path d="M789.1,1124.7 C788.1,1130.3 783.5,1145.9 783.5,1158.1 C783.5,1170.4 785.5,1185.6 789.1,1198.2 C792.6,1210.8 798.0,1223.4 804.6,1233.8 C811.3,1244.2 825.0,1256.1 829.1,1260.5" stroke-width="2.5" />
<path d="M801.3,1135.8 C800.4,1139.6 796.5,1150.9 795.7,1158.1 C795.0,1165.3 796.7,1175.7 796.8,1179.3" stroke-width="2.5" />
<path d="M812.4,1222.7 L833.6,1243.8" stroke-width="2.5" />
<path d="M751.2,1096.9 L884.8,1056.8" stroke-width="4.8" />
<path d="M824.7,1296.1 L919.3,1268.3" stroke-width="4.8" />
<path d="M858.1,1062.4 C860.3,1060.1 865.9,1052.5 871.4,1049.0 C877.0,1045.5 884.8,1042.5 891.5,1041.2 C898.1,1039.9 904.1,1040.5 911.5,1041.2 C918.9,1042.0 928.6,1043.3 936.0,1045.7 C943.4,1048.1 949.0,1049.2 956.0,1055.7 C963.1,1062.2 971.6,1073.5 978.3,1084.6 C985.0,1095.8 991.1,1109.5 996.1,1122.5 C1001.1,1135.5 1005.9,1150.7 1008.3,1162.6 C1010.8,1174.4 1011.1,1184.1 1010.6,1193.7 C1010.0,1203.4 1007.8,1212.7 1005.0,1220.4 C1002.2,1228.2 998.3,1234.9 993.9,1240.5 C989.4,1246.0 984.2,1249.4 978.3,1253.8 C972.4,1258.3 965.3,1264.2 958.3,1267.2 C951.2,1270.2 942.5,1271.5 936.0,1271.7 C929.5,1271.8 922.1,1268.9 919.3,1268.3" stroke-width="4.8" />
<path d="M884.8,1056.8 C888.5,1057.0 898.9,1055.1 907.1,1057.9 C915.2,1060.7 925.6,1065.7 933.8,1073.5 C941.9,1081.3 949.7,1092.4 956.0,1104.7 C962.3,1116.9 967.9,1134.4 971.6,1147.0 C975.3,1159.6 977.2,1169.2 978.3,1180.4 C979.4,1191.5 979.8,1203.4 978.3,1213.8 C976.8,1224.2 973.5,1235.3 969.4,1242.7 C965.3,1250.1 959.4,1254.6 953.8,1258.3 C948.2,1262.0 939.0,1263.9 936.0,1265.0" stroke-width="3" />
<path d="M895.9,1046.8 C900.4,1047.5 914.5,1046.4 922.6,1051.2 C930.8,1056.1 941.2,1071.7 944.9,1075.7" stroke-width="2.5" />
<path d="M931.5,1044.6 C935.6,1047.9 948.6,1056.1 956.0,1064.6 C963.5,1073.1 970.5,1083.9 976.1,1095.8 C981.6,1107.6 985.9,1123.6 989.4,1135.8 C992.9,1148.1 995.7,1158.1 997.2,1169.2 C998.7,1180.4 999.3,1192.6 998.3,1202.6 C997.4,1212.7 994.2,1221.9 991.7,1229.4 C989.1,1236.8 984.2,1244.2 982.7,1247.2" stroke-width="4.2" />
<path d="M978.3,1143.6 C979.2,1147.9 982.7,1159.4 983.9,1169.2 C985.0,1179.1 985.7,1192.2 985.0,1202.6 C984.2,1213.0 982.4,1222.7 979.4,1231.6 C976.4,1240.5 971.1,1250.1 967.2,1256.1 C963.3,1262.0 957.9,1265.3 956.0,1267.2" stroke-width="2.5" />
<path d="M814.7,1044.6 L833.6,1071.3" stroke-width="3.3" />
<path d="M1009.5,1129.2 L1022.8,1125.8" stroke-width="2.5" />
<path d="M1030.6,1122.5 L1038.4,1120.7" stroke-width="2.5" />
<path d="M789.0,980.0 L847.1,960.6 L882.4,986.0" stroke-width="2.5" />
<path d="M685.7,990.4 L691.3,1008.1" stroke-width="2.5" />
<path d="M1134.0,963.5 C1124.1,963.5 1112.6,965.9 1104.3,970.9 C1096.1,975.8 1089.7,983.3 1084.5,993.2 C1079.4,1003.1 1075.5,1017.9 1073.4,1030.3 C1071.3,1042.6 1071.5,1055.0 1072.2,1067.4 C1072.8,1079.7 1074.2,1092.1 1077.1,1104.5 C1080.0,1116.8 1083.7,1129.6 1089.5,1141.6 C1095.2,1153.5 1103.5,1166.7 1111.7,1176.2 C1120.0,1185.7 1130.3,1193.3 1138.9,1198.5 C1147.6,1203.6 1155.4,1206.5 1163.7,1207.1 C1171.9,1207.8 1181.0,1205.7 1188.4,1202.2 C1195.8,1198.7 1202.9,1192.9 1208.2,1186.1 C1213.6,1179.3 1217.3,1170.9 1220.6,1161.4 C1223.9,1151.9 1226.4,1140.8 1228.0,1129.2 C1229.7,1117.7 1231.3,1104.5 1230.5,1092.1 C1229.7,1079.7 1226.4,1066.5 1223.1,1055.0 C1219.8,1043.5 1216.0,1033.2 1210.7,1022.8 C1205.3,1012.5 1198.7,1001.8 1190.9,993.2 C1183.1,984.5 1173.2,975.8 1163.7,970.9 C1154.2,965.9 1143.9,963.5 1134.0,963.5Z" stroke-width="4.5" />
<path d="M1136.5,972.1 C1128.6,972.1 1116.9,973.2 1109.3,978.3 C1101.6,983.5 1095.5,993.2 1090.7,1003.1 C1086.0,1012.9 1082.5,1024.9 1080.8,1037.7 C1079.2,1050.5 1079.4,1065.7 1080.8,1079.7 C1082.3,1093.8 1085.1,1108.2 1089.5,1121.8 C1093.8,1135.4 1099.4,1150.2 1106.8,1161.4 C1114.2,1172.5 1124.5,1182.4 1134.0,1188.6 C1143.5,1194.8 1154.6,1197.7 1163.7,1198.5 C1172.8,1199.3 1181.4,1197.2 1188.4,1193.5 C1195.4,1189.8 1200.8,1183.2 1205.7,1176.2 C1210.7,1169.2 1215.2,1161.4 1218.1,1151.5 C1221.0,1141.6 1222.4,1128.8 1223.1,1116.8 C1223.7,1104.9 1223.5,1091.3 1221.8,1079.7 C1220.2,1068.2 1217.1,1057.9 1213.2,1047.6 C1209.2,1037.3 1204.1,1027.0 1198.3,1017.9 C1192.5,1008.8 1185.5,999.8 1178.5,993.2 C1171.5,986.6 1163.3,981.8 1156.3,978.3 C1149.3,974.8 1144.3,972.1 1136.5,972.1Z" stroke-width="2.5" />
<path d="M1124.1,980.8 C1118.3,982.9 1109.5,987.0 1104.3,993.2 C1099.2,999.3 1095.7,1007.6 1093.2,1017.9 C1090.7,1028.2 1089.1,1041.8 1089.5,1055.0 C1089.9,1068.2 1092.4,1083.5 1095.7,1097.1 C1099.0,1110.7 1103.3,1124.7 1109.3,1136.6 C1115.2,1148.6 1123.7,1160.5 1131.5,1168.8 C1139.4,1177.0 1148.0,1183.6 1156.3,1186.1 C1164.5,1188.6 1174.0,1186.9 1181.0,1183.6 C1188.0,1180.3 1193.8,1173.7 1198.3,1166.3 C1202.9,1158.9 1205.9,1149.4 1208.2,1139.1 C1210.5,1128.8 1211.9,1115.6 1211.9,1104.5 C1211.9,1093.3 1210.5,1082.6 1208.2,1072.3 C1205.9,1062.0 1202.9,1052.5 1198.3,1042.6 C1193.8,1032.7 1187.6,1021.6 1181.0,1012.9 C1174.4,1004.3 1165.7,996.0 1158.7,990.7 C1151.7,985.3 1144.7,982.4 1138.9,980.8 C1133.2,979.1 1129.9,978.7 1124.1,980.8Z" stroke-width="4" />
<path d="M1134.0,990.7 C1132.8,995.2 1127.6,1007.2 1126.6,1017.9 C1125.5,1028.6 1126.2,1042.6 1127.8,1055.0 C1129.5,1067.4 1133.0,1080.6 1136.5,1092.1 C1140.0,1103.7 1143.5,1113.5 1148.8,1124.3 C1154.2,1135.0 1162.0,1148.4 1168.6,1156.4 C1175.2,1164.5 1185.1,1169.8 1188.4,1172.5" stroke-width="5" />
<path d="M1141.4,995.6 C1140.4,1001.4 1135.7,1018.3 1135.2,1030.3 C1134.8,1042.2 1136.7,1055.0 1138.9,1067.4 C1141.2,1079.7 1147.2,1098.3 1148.8,1104.5" stroke-width="2.5" />
<path d="M1156.3,1005.5 C1156.3,1011.7 1155.0,1029.9 1156.3,1042.6 C1157.5,1055.4 1160.0,1069.4 1163.7,1082.2 C1167.4,1095.0 1172.3,1107.8 1178.5,1119.3 C1184.7,1130.9 1197.1,1146.1 1200.8,1151.5" stroke-width="4" />
<path d="M1068.4,1108.2 L1113.0,1095.8" stroke-width="3.5" />
<path d="M1157.5,1081.0 L1200.8,1069.8" stroke-width="3.5" />
<path d="M1167.4,1144.1 L1188.4,1168.8" stroke-width="7" />
<path d="M1131.5,1088.4 L1146.4,1087.2" stroke-width="7" />
<path d="M1134.0,910.3 L1121.6,965.9" stroke-width="3.5" />
<path d="M1193.4,943.7 L1210.7,873.2 L1304.7,909.1" stroke-width="4" />
<path d="M1210.7,873.2 L1245.3,926.4" stroke-width="4" />
<path d="M1349.2,838.6 L1369.0,891.7" stroke-width="4" />
<path d="M1400.0,833.2 L1415.8,886.7" stroke-width="4" />
<path d="M1455.4,864.9 L1472.2,793.6 L1509.8,848.1" stroke-width="4" />
<path d="M1623.6,794.6 L1612.7,841.1" stroke-width="4" />
<path d="M1680.0,929.2 L1696.8,925.2" stroke-width="4" />
<path d="M1702.8,923.3 L1716.6,918.3" stroke-width="4" />
<path d="M1166.1,978.1 C1169.0,980.4 1177.7,986.2 1183.4,992.0 C1189.2,997.7 1195.6,1006.1 1200.8,1012.7 C1205.9,1019.4 1212.3,1028.6 1214.6,1031.8" stroke-width="5" />
<path d="M1214.6,1031.8 L1209.4,1042.2 L1200.8,1050.8 L1190.4,1058.6" stroke-width="5" />
<path d="M1190.4,1058.6 C1189.2,1056.2 1186.3,1049.2 1183.4,1043.9 C1180.6,1038.6 1176.8,1032.1 1173.0,1026.6 C1169.3,1021.1 1162.9,1013.6 1160.9,1011.0" stroke-width="5" />
<path d="M1180.0,1019.7 C1181.1,1022.0 1184.6,1028.6 1186.9,1033.5 C1189.2,1038.4 1192.7,1046.5 1193.8,1049.1" stroke-width="3.5" />
<path d="M1175.6,1023.1 C1176.8,1025.4 1180.4,1032.2 1182.6,1037.0 C1184.7,1041.7 1187.6,1049.2 1188.6,1051.7" stroke-width="3" />
<path d="M1219.8,1049.1 C1217.5,1051.4 1209.8,1058.0 1205.9,1063.0 C1202.1,1067.9 1198.1,1072.2 1196.9,1078.5 C1195.8,1084.9 1197.8,1093.0 1199.0,1101.0 C1200.2,1109.1 1202.9,1118.4 1204.2,1127.0 C1205.5,1135.7 1207.1,1144.6 1206.8,1153.0 C1206.5,1161.4 1203.2,1173.2 1202.5,1177.2" stroke-width="5" />
<path d="M1221.5,1050.0 C1222.5,1052.7 1225.6,1059.3 1227.6,1066.4 C1229.6,1073.5 1232.2,1083.7 1233.7,1092.4 C1235.1,1101.0 1236.0,1109.7 1236.3,1118.4 C1236.5,1127.0 1236.4,1135.7 1235.4,1144.3 C1234.4,1153.0 1232.5,1163.1 1230.2,1170.3 C1227.9,1177.5 1223.0,1184.7 1221.5,1187.6" stroke-width="5" />
<path d="M1201.6,1082.0 C1202.2,1086.6 1203.9,1100.8 1205.1,1109.7 C1206.2,1118.7 1208.3,1127.0 1208.5,1135.7 C1208.8,1144.3 1208.4,1153.3 1206.8,1161.7 C1205.2,1170.0 1200.3,1181.9 1199.0,1185.9" stroke-width="3" />
<path d="M1227.6,1007.5 C1228.0,1011.6 1228.8,1023.4 1229.8,1031.8 C1230.9,1040.2 1232.0,1049.1 1233.7,1057.8 C1235.3,1066.4 1236.8,1075.7 1239.7,1083.7 C1242.6,1091.8 1247.2,1099.9 1251.0,1106.2 C1254.7,1112.6 1260.3,1119.2 1262.2,1121.8" stroke-width="5.5" />
<path d="M1225.0,1187.6 C1228.2,1187.1 1238.0,1185.9 1244.0,1184.2 C1250.1,1182.4 1255.9,1180.1 1261.4,1177.2 C1266.8,1174.4 1272.6,1170.9 1276.9,1166.8 C1281.3,1162.8 1285.6,1155.3 1287.3,1153.0" stroke-width="5" />
<path d="M1244.0,1135.7 L1254.4,1151.3" stroke-width="8" />
<path d="M1200.8,990.2 L1207.7,998.9" stroke-width="8" />
<path d="M1238.8,1114.9 L1259.6,1153.0" stroke-width="4" />
<path d="M1285.6,1023.2 C1283.3,1025.5 1275.6,1032.1 1271.7,1037.1 C1267.9,1042.0 1263.9,1046.3 1262.7,1052.6 C1261.6,1059.0 1263.6,1067.1 1264.8,1075.1 C1266.0,1083.2 1268.7,1092.5 1270.0,1101.1 C1271.3,1109.8 1272.9,1118.7 1272.6,1127.1 C1272.3,1135.5 1270.7,1144.1 1268.3,1151.3 C1265.8,1158.6 1262.2,1165.8 1257.9,1170.4 C1253.6,1175.0 1248.5,1176.3 1242.3,1179.0 C1236.1,1181.8 1224.3,1185.5 1220.7,1186.8" stroke-width="5" />
<path d="M1287.3,1024.1 C1288.3,1026.8 1291.4,1033.4 1293.4,1040.5 C1295.4,1047.6 1298.0,1057.8 1299.5,1066.5 C1300.9,1075.1 1301.8,1083.8 1302.1,1092.5 C1302.3,1101.1 1302.2,1109.8 1301.2,1118.4 C1300.2,1127.1 1298.3,1137.2 1296.0,1144.4 C1293.7,1151.6 1288.8,1158.8 1287.3,1161.7" stroke-width="5" />
<path d="M1267.4,1056.1 C1268.0,1060.7 1269.7,1074.9 1270.9,1083.8 C1272.0,1092.8 1274.1,1101.1 1274.3,1109.8 C1274.6,1118.4 1274.2,1127.4 1272.6,1135.8 C1271.0,1144.1 1266.1,1156.0 1264.8,1160.0" stroke-width="3" />
<path d="M1293.4,981.6 C1293.8,985.7 1294.6,997.5 1295.6,1005.9 C1296.7,1014.3 1297.8,1023.2 1299.5,1031.9 C1301.1,1040.5 1302.6,1049.8 1305.5,1057.8 C1308.4,1065.9 1313.0,1074.0 1316.8,1080.3 C1320.5,1086.7 1326.1,1093.3 1328.0,1095.9" stroke-width="5.5" />
<path d="M1290.8,1161.7 C1294.0,1161.2 1303.8,1160.0 1309.8,1158.3 C1315.9,1156.5 1321.7,1154.2 1327.2,1151.3 C1332.6,1148.5 1338.4,1145.0 1342.7,1140.9 C1347.1,1136.9 1351.4,1129.4 1353.1,1127.1" stroke-width="5" />
<path d="M1223.3,1194.6 C1227.9,1193.8 1242.3,1192.0 1251.0,1189.4 C1259.6,1186.8 1268.3,1182.8 1275.2,1179.0 C1282.1,1175.3 1289.6,1168.9 1292.5,1166.9" stroke-width="4.5" />
<path d="M1309.8,1109.8 L1320.2,1125.4" stroke-width="8" />
<path d="M1266.6,964.3 L1273.5,973.0" stroke-width="8" />
<path d="M1304.6,1089.0 L1325.4,1127.1" stroke-width="4" />
<path d="M1351.4,1004.1 C1349.1,1006.4 1341.4,1013.0 1337.5,1018.0 C1333.7,1022.9 1329.7,1027.2 1328.5,1033.5 C1327.4,1039.9 1329.4,1048.0 1330.6,1056.0 C1331.8,1064.1 1334.5,1073.4 1335.8,1082.0 C1337.1,1090.7 1338.7,1099.6 1338.4,1108.0 C1338.1,1116.4 1336.5,1125.0 1334.1,1132.2 C1331.6,1139.5 1328.0,1146.7 1323.7,1151.3 C1319.4,1155.9 1314.3,1157.2 1308.1,1159.9 C1301.9,1162.7 1290.1,1166.4 1286.5,1167.7" stroke-width="5" />
<path d="M1353.1,1005.0 C1354.1,1007.7 1357.2,1014.3 1359.2,1021.4 C1361.2,1028.5 1363.8,1038.7 1365.3,1047.4 C1366.7,1056.0 1367.6,1064.7 1367.9,1073.4 C1368.1,1082.0 1368.0,1090.7 1367.0,1099.3 C1366.0,1108.0 1364.1,1118.1 1361.8,1125.3 C1359.5,1132.5 1354.6,1139.7 1353.1,1142.6" stroke-width="5" />
<path d="M1333.2,1037.0 C1333.8,1041.6 1335.5,1055.8 1336.7,1064.7 C1337.8,1073.7 1339.9,1082.0 1340.1,1090.7 C1340.4,1099.3 1340.0,1108.3 1338.4,1116.7 C1336.8,1125.0 1331.9,1136.9 1330.6,1140.9" stroke-width="3" />
<path d="M1359.2,962.5 C1359.6,966.6 1360.4,978.4 1361.4,986.8 C1362.5,995.2 1363.6,1004.1 1365.3,1012.8 C1366.9,1021.4 1368.4,1030.7 1371.3,1038.7 C1374.2,1046.8 1378.8,1054.9 1382.6,1061.2 C1386.3,1067.6 1391.9,1074.2 1393.8,1076.8" stroke-width="5.5" />
<path d="M1356.6,1142.6 C1359.8,1142.1 1369.6,1140.9 1375.6,1139.2 C1381.7,1137.4 1387.5,1135.1 1393.0,1132.2 C1398.4,1129.4 1404.2,1125.9 1408.5,1121.8 C1412.9,1117.8 1417.2,1110.3 1418.9,1108.0" stroke-width="5" />
<path d="M1289.1,1175.5 C1293.7,1174.7 1308.1,1172.9 1316.8,1170.3 C1325.4,1167.7 1334.1,1163.7 1341.0,1159.9 C1347.9,1156.2 1355.4,1149.8 1358.3,1147.8" stroke-width="4.5" />
<path d="M1375.6,1090.7 L1386.0,1106.3" stroke-width="8" />
<path d="M1332.4,945.2 L1339.3,953.9" stroke-width="8" />
<path d="M1370.4,1069.9 L1391.2,1108.0" stroke-width="4" />
<path d="M1420.7,986.8 C1418.4,989.1 1410.7,995.7 1406.8,1000.7 C1403.0,1005.6 1399.0,1009.9 1397.8,1016.2 C1396.7,1022.6 1398.7,1030.7 1399.9,1038.7 C1401.1,1046.8 1403.8,1056.1 1405.1,1064.7 C1406.4,1073.4 1408.0,1082.3 1407.7,1090.7 C1407.4,1099.1 1405.8,1107.7 1403.4,1114.9 C1400.9,1122.2 1397.3,1129.4 1393.0,1134.0 C1388.7,1138.6 1383.6,1139.9 1377.4,1142.6 C1371.2,1145.4 1359.4,1149.1 1355.8,1150.4" stroke-width="5" />
<path d="M1422.4,987.7 C1423.4,990.4 1426.5,997.0 1428.5,1004.1 C1430.5,1011.2 1433.1,1021.4 1434.6,1030.1 C1436.0,1038.7 1436.9,1047.4 1437.2,1056.1 C1437.4,1064.7 1437.3,1073.4 1436.3,1082.0 C1435.3,1090.7 1433.4,1100.8 1431.1,1108.0 C1428.8,1115.2 1423.9,1122.4 1422.4,1125.3" stroke-width="5" />
<path d="M1402.5,1019.7 C1403.1,1024.3 1404.8,1038.5 1406.0,1047.4 C1407.1,1056.4 1409.2,1064.7 1409.4,1073.4 C1409.7,1082.0 1409.3,1091.0 1407.7,1099.4 C1406.1,1107.7 1401.2,1119.6 1399.9,1123.6" stroke-width="3" />
<path d="M1428.5,945.2 C1428.9,949.3 1429.7,961.1 1430.7,969.5 C1431.8,977.9 1432.9,986.8 1434.6,995.5 C1436.2,1004.1 1437.7,1013.4 1440.6,1021.4 C1443.5,1029.5 1448.1,1037.6 1451.9,1043.9 C1455.6,1050.3 1461.2,1056.9 1463.1,1059.5" stroke-width="5.5" />
<path d="M1425.9,1125.3 C1429.1,1124.8 1438.9,1123.6 1444.9,1121.9 C1451.0,1120.1 1456.8,1117.8 1462.3,1114.9 C1467.7,1112.1 1473.5,1108.6 1477.8,1104.5 C1482.2,1100.5 1486.5,1093.0 1488.2,1090.7" stroke-width="5" />
<path d="M1358.4,1158.2 C1363.0,1157.4 1377.4,1155.6 1386.1,1153.0 C1394.7,1150.4 1403.4,1146.4 1410.3,1142.6 C1417.2,1138.9 1424.7,1132.5 1427.6,1130.5" stroke-width="4.5" />
<path d="M1444.9,1073.4 L1455.3,1089.0" stroke-width="8" />
<path d="M1401.7,927.9 L1408.6,936.6" stroke-width="8" />
<path d="M1439.7,1052.6 L1460.5,1090.7" stroke-width="4" />
<path d="M1158.3,957.4 C1161.1,956.0 1169.1,950.8 1174.8,948.7 C1180.4,946.7 1186.0,945.9 1192.1,945.3 C1198.2,944.7 1204.5,944.1 1211.1,945.3 C1217.8,946.4 1225.6,948.7 1231.9,952.2 C1238.3,955.7 1243.5,960.3 1249.2,966.1 C1255.0,971.8 1261.4,980.2 1266.6,986.8 C1271.7,993.5 1278.1,1002.7 1280.4,1005.9" stroke-width="5" />
<path d="M1280.4,1005.9 L1275.2,1016.3 L1266.6,1024.9 L1256.2,1032.7" stroke-width="5" />
<path d="M1256.2,1032.7 C1255.0,1030.3 1252.1,1023.3 1249.2,1018.0 C1246.4,1012.7 1242.6,1006.2 1238.8,1000.7 C1235.1,995.2 1231.3,990.0 1226.7,985.1 C1222.1,980.2 1216.0,974.9 1211.1,971.3 C1206.2,967.6 1201.9,965.2 1197.3,963.5 C1192.7,961.7 1188.1,960.7 1183.4,960.9 C1178.8,961.0 1171.9,963.7 1169.6,964.3" stroke-width="5" />
<path d="M1195.6,948.7 C1198.2,949.0 1206.2,948.7 1211.1,950.5 C1216.0,952.2 1221.0,956.0 1225.0,959.1 C1229.0,962.3 1233.7,967.8 1235.4,969.5" stroke-width="3.5" />
<path d="M1245.8,993.8 C1246.9,996.1 1250.4,1002.7 1252.7,1007.6 C1255.0,1012.5 1258.5,1020.6 1259.6,1023.2" stroke-width="3.5" />
<path d="M1241.4,997.2 C1242.6,999.5 1246.2,1006.3 1248.4,1011.1 C1250.5,1015.8 1253.4,1023.3 1254.4,1025.8" stroke-width="3" />
<path d="M1224.1,938.3 C1226.9,936.9 1234.9,931.7 1240.6,929.6 C1246.2,927.6 1251.8,926.8 1257.9,926.2 C1264.0,925.6 1270.3,925.0 1276.9,926.2 C1283.6,927.3 1291.4,929.6 1297.7,933.1 C1304.1,936.6 1309.3,941.2 1315.0,947.0 C1320.8,952.7 1327.2,961.1 1332.4,967.7 C1337.5,974.4 1343.9,983.6 1346.2,986.8" stroke-width="5" />
<path d="M1346.2,986.8 L1341.0,997.2 L1332.4,1005.8 L1322.0,1013.6" stroke-width="5" />
<path d="M1322.0,1013.6 C1320.8,1011.2 1317.9,1004.2 1315.0,998.9 C1312.2,993.6 1308.4,987.1 1304.6,981.6 C1300.9,976.1 1297.1,970.9 1292.5,966.0 C1287.9,961.1 1281.8,955.8 1276.9,952.2 C1272.0,948.5 1267.7,946.1 1263.1,944.4 C1258.5,942.6 1253.9,941.6 1249.2,941.8 C1244.6,941.9 1237.7,944.6 1235.4,945.2" stroke-width="5" />
<path d="M1261.4,929.6 C1264.0,929.9 1272.0,929.6 1276.9,931.4 C1281.8,933.1 1286.8,936.9 1290.8,940.0 C1294.8,943.2 1299.5,948.7 1301.2,950.4" stroke-width="3.5" />
<path d="M1311.6,974.7 C1312.7,977.0 1316.2,983.6 1318.5,988.5 C1320.8,993.4 1324.3,1001.5 1325.4,1004.1" stroke-width="3.5" />
<path d="M1307.2,978.1 C1308.4,980.4 1312.0,987.2 1314.2,992.0 C1316.3,996.7 1319.2,1004.2 1320.2,1006.7" stroke-width="3" />
<path d="M1293.4,921.0 C1296.2,919.6 1304.2,914.4 1309.9,912.3 C1315.5,910.3 1321.1,909.5 1327.2,908.9 C1333.3,908.3 1339.6,907.7 1346.2,908.9 C1352.9,910.0 1360.7,912.3 1367.0,915.8 C1373.4,919.3 1378.6,923.9 1384.3,929.7 C1390.1,935.4 1396.5,943.8 1401.7,950.4 C1406.8,957.1 1413.2,966.3 1415.5,969.5" stroke-width="5" />
<path d="M1415.5,969.5 L1410.3,979.9 L1401.7,988.5 L1391.3,996.3" stroke-width="5" />
<path d="M1391.3,996.3 C1390.1,993.9 1387.2,986.9 1384.3,981.6 C1381.5,976.3 1377.7,969.8 1373.9,964.3 C1370.2,958.8 1366.4,953.6 1361.8,948.7 C1357.2,943.8 1351.1,938.5 1346.2,934.9 C1341.3,931.2 1337.0,928.8 1332.4,927.1 C1327.8,925.3 1323.2,924.3 1318.5,924.5 C1313.9,924.6 1307.0,927.3 1304.7,927.9" stroke-width="5" />
<path d="M1330.7,912.3 C1333.3,912.6 1341.3,912.3 1346.2,914.1 C1351.1,915.8 1356.1,919.6 1360.1,922.7 C1364.1,925.9 1368.8,931.4 1370.5,933.1" stroke-width="3.5" />
<path d="M1380.9,957.4 C1382.0,959.7 1385.5,966.3 1387.8,971.2 C1390.1,976.1 1393.6,984.2 1394.7,986.8" stroke-width="3.5" />
<path d="M1376.5,960.8 C1377.7,963.1 1381.3,969.9 1383.5,974.7 C1385.6,979.4 1388.5,986.9 1389.5,989.4" stroke-width="3" />
<path d="M1417.8,886.7 C1420.8,884.4 1429.7,876.5 1435.6,873.2 C1441.6,869.9 1446.2,868.2 1453.4,866.9 C1460.7,865.5 1471.6,864.2 1479.2,864.9 C1486.7,865.5 1492.4,867.9 1498.9,870.8 C1505.5,873.8 1512.1,877.4 1518.7,882.7 C1525.3,888.0 1532.8,895.1 1538.5,902.5 C1544.3,909.9 1550.9,923.1 1553.4,927.2" stroke-width="5" />
<path d="M1553.4,927.2 L1546.4,938.1 L1530.6,950.0 L1520.7,952.0" stroke-width="5" />
<path d="M1520.7,952.0 C1519.1,948.0 1515.1,935.8 1510.8,928.2 C1506.5,920.6 1500.9,912.4 1495.0,906.4 C1489.1,900.5 1481.8,895.9 1475.2,892.6 C1468.6,889.3 1461.7,887.8 1455.4,886.7 C1449.1,885.5 1440.6,885.8 1437.6,885.7" stroke-width="5" />
<path d="M1439.6,880.7 C1442.9,880.4 1452.8,878.1 1459.4,878.7 C1466.0,879.4 1473.6,881.7 1479.2,884.7 C1484.8,887.6 1490.7,894.6 1493.0,896.5" stroke-width="3.2" />
<path d="M1510.8,910.4 C1512.8,913.7 1519.4,924.6 1522.7,930.2 C1526.0,935.8 1529.3,941.7 1530.6,944.0" stroke-width="3.2" />
<path d="M1491.0,858.0 C1494.3,856.8 1503.6,852.8 1510.8,851.0 C1518.1,849.2 1526.7,846.7 1534.6,847.1 C1542.5,847.4 1551.1,849.7 1558.3,853.0 C1565.6,856.3 1571.8,860.9 1578.1,866.9 C1584.4,872.8 1590.6,881.4 1595.9,888.6 C1601.2,895.9 1607.5,906.8 1609.8,910.4" stroke-width="5" />
<path d="M1609.8,910.4 L1597.9,924.3 L1582.1,934.1" stroke-width="5" />
<path d="M1582.1,934.1 C1580.4,930.9 1576.1,921.0 1572.2,914.4 C1568.2,907.8 1563.9,901.2 1558.3,894.6 C1552.7,888.0 1545.1,880.1 1538.5,874.8 C1531.9,869.5 1523.7,864.6 1518.7,862.9 C1513.8,861.3 1510.5,864.6 1508.8,864.9" stroke-width="5" />
<path d="M1510.8,857.0 C1514.8,857.0 1528.0,855.3 1534.6,857.0 C1541.2,858.6 1547.8,865.2 1550.4,866.9" stroke-width="3.2" />
<path d="M1568.2,896.5 C1569.9,899.8 1575.5,910.7 1578.1,916.3 C1580.7,921.9 1583.1,927.9 1584.0,930.2" stroke-width="3.2" />
<path d="M1552.4,840.1 C1555.0,839.2 1561.9,835.2 1568.2,834.2 C1574.5,833.2 1583.1,833.1 1590.0,834.2 C1596.9,835.4 1603.5,837.7 1609.8,841.1 C1616.0,844.6 1622.3,850.0 1627.6,855.0 C1632.9,859.9 1637.6,865.5 1641.4,870.8 C1645.2,876.1 1648.9,884.0 1650.3,886.7" stroke-width="5" />
<path d="M1650.3,886.7 L1643.4,896.5 L1633.5,900.5" stroke-width="5" />
<path d="M1633.5,900.5 C1631.9,897.5 1627.6,888.6 1623.6,882.7 C1619.7,876.8 1615.4,870.2 1609.8,864.9 C1604.2,859.6 1596.9,854.0 1590.0,851.0 C1583.1,848.1 1571.8,847.7 1568.2,847.1" stroke-width="5" />
<path d="M1578.1,839.2 C1581.4,840.1 1592.0,841.8 1597.9,845.1 C1603.8,848.4 1611.1,856.6 1613.7,858.9" stroke-width="3.2" />
<path d="M1631.5,880.7 L1637.5,892.6" stroke-width="3.2" />
<path d="M1556.3,946.0 C1552.2,949.7 1535.2,959.2 1531.6,967.8 C1528.0,976.4 1532.9,987.6 1534.6,997.5 C1536.2,1007.4 1539.7,1017.3 1541.5,1027.2 C1543.3,1037.1 1545.3,1047.9 1545.5,1056.8 C1545.6,1065.8 1544.6,1074.0 1542.5,1080.6 C1540.3,1087.2 1537.9,1092.5 1532.6,1096.4 C1527.3,1100.4 1518.1,1102.9 1510.8,1104.3 C1503.6,1105.8 1492.7,1105.2 1489.1,1105.3" stroke-width="5" />
<path d="M1558.3,948.0 C1559.6,952.9 1564.3,967.8 1566.2,977.7 C1568.2,987.6 1569.5,997.5 1570.2,1007.4 C1570.9,1017.3 1571.0,1028.2 1570.2,1037.1 C1569.4,1046.0 1567.6,1054.2 1565.2,1060.8 C1562.9,1067.4 1560.1,1072.3 1556.3,1076.6 C1552.5,1080.9 1544.8,1084.9 1542.5,1086.5" stroke-width="5" />
<path d="M1538.5,969.8 C1539.8,976.0 1544.5,994.5 1546.4,1007.4 C1548.4,1020.2 1550.4,1035.4 1550.4,1047.0 C1550.4,1058.5 1547.1,1071.7 1546.4,1076.6" stroke-width="3.2" />
<path d="M1613.7,925.2 C1609.6,929.4 1592.5,941.2 1589.0,950.0 C1585.5,958.7 1591.1,968.1 1592.9,977.7 C1594.8,987.3 1598.4,997.5 1599.9,1007.4 C1601.4,1017.3 1602.5,1028.2 1601.9,1037.1 C1601.2,1046.0 1599.2,1054.5 1595.9,1060.8 C1592.6,1067.1 1587.3,1072.0 1582.1,1074.7 C1576.8,1077.3 1567.2,1076.3 1564.3,1076.6" stroke-width="5" />
<path d="M1616.7,927.2 C1618.2,932.3 1623.3,947.8 1625.6,957.9 C1627.9,968.0 1629.9,977.7 1630.6,987.6 C1631.2,997.5 1631.0,1008.4 1629.6,1017.3 C1628.1,1026.2 1624.6,1034.4 1621.6,1041.0 C1618.7,1047.6 1613.4,1054.2 1611.8,1056.8" stroke-width="5" />
<path d="M1595.9,953.9 C1597.2,959.5 1602.0,977.0 1603.8,987.6 C1605.6,998.1 1607.1,1007.4 1606.8,1017.3 C1606.5,1027.2 1602.7,1042.0 1601.9,1047.0" stroke-width="3.2" />
<path d="M1655.3,900.5 C1652.6,901.8 1641.4,902.2 1639.5,908.4 C1637.5,914.7 1641.1,928.2 1643.4,938.1 C1645.7,948.0 1651.0,957.9 1653.3,967.8 C1655.6,977.7 1656.9,987.6 1657.3,997.5 C1657.6,1007.4 1657.3,1017.9 1655.3,1027.2 C1653.3,1036.4 1649.7,1046.3 1645.4,1052.9 C1641.1,1059.5 1634.5,1063.4 1629.6,1066.7 C1624.6,1070.0 1618.0,1071.7 1615.7,1072.7" stroke-width="5" />
<path d="M1657.3,901.5 C1658.9,905.9 1664.2,918.8 1667.2,928.2 C1670.1,937.6 1673.4,948.0 1675.1,957.9 C1676.7,967.8 1677.4,977.7 1677.1,987.6 C1676.7,997.5 1675.4,1008.4 1673.1,1017.3 C1670.8,1026.2 1667.2,1034.4 1663.2,1041.0 C1659.2,1047.6 1651.7,1054.2 1649.4,1056.8" stroke-width="5" />
<path d="M1647.4,912.4 C1649.0,918.3 1654.6,935.5 1657.3,948.0 C1659.9,960.5 1662.9,974.4 1663.2,987.6 C1663.5,1000.8 1661.9,1016.3 1659.2,1027.2 C1656.6,1038.0 1649.4,1048.6 1647.4,1052.9" stroke-width="3.5" />
<path d="M1651.3,910.4 C1653.3,916.7 1660.6,935.1 1663.2,948.0 C1665.8,960.9 1667.0,975.0 1667.2,987.6 C1667.3,1000.1 1664.7,1017.3 1664.2,1023.2" stroke-width="3" />
<path d="M1459.4,910.4 C1463.3,916.7 1476.5,935.1 1483.1,948.0 C1489.7,960.9 1494.8,974.4 1498.9,987.6 C1503.1,1000.8 1506.2,1014.0 1507.9,1027.2 C1509.5,1040.4 1510.3,1054.5 1508.8,1066.7 C1507.4,1078.9 1503.9,1092.5 1498.9,1100.4 C1494.0,1108.3 1482.5,1111.9 1479.2,1114.2" stroke-width="5" />
<path d="M1429.7,910.4 C1433.0,915.0 1443.5,926.9 1449.5,938.1 C1455.4,949.3 1461.2,964.5 1465.3,977.7 C1469.4,990.9 1472.6,1004.1 1474.2,1017.3 C1475.9,1030.5 1476.4,1043.7 1475.2,1056.8 C1474.0,1070.0 1468.6,1089.8 1467.3,1096.4" stroke-width="5" />
<path d="M1483.1,898.5 C1485.1,902.5 1491.7,914.0 1495.0,922.3 C1498.3,930.5 1501.6,943.7 1502.9,948.0" stroke-width="4" />
<path d="M1453.4,918.3 L1459.4,938.1" stroke-width="5" />
<path d="M1564.3,1074.7 C1568.2,1073.0 1580.7,1069.4 1588.0,1064.8 C1595.3,1060.1 1602.8,1053.2 1607.8,1047.0 C1612.7,1040.7 1616.0,1030.5 1617.7,1027.2" stroke-width="4.5" />
<path d="M1556.3,1086.5 C1561.6,1084.9 1578.4,1080.9 1588.0,1076.6 C1597.6,1072.3 1609.4,1063.4 1613.7,1060.8" stroke-width="4.5" />
<path d="M1477.2,1100.4 C1481.5,1099.7 1494.7,1099.1 1502.9,1096.4 C1511.2,1093.8 1522.7,1086.5 1526.7,1084.6" stroke-width="4.5" />
<path d="M1574.1,1016.3 L1590.0,1029.1" stroke-width="6" />
<path d="M1518.7,1041.0 L1530.6,1052.9" stroke-width="6" />
<path d="M1512.8,1064.8 L1522.7,1072.7" stroke-width="8" />
<path d="M1572.2,1045.0 L1578.1,1054.9" stroke-width="7" />
<path d="M1526.7,876.8 L1532.6,886.7" stroke-width="6" />
<path d="M1459.4,894.6 L1467.3,904.5" stroke-width="6" />
<path d="M1714.2,912.7 C1714.1,907.4 1712.3,890.8 1713.2,880.8 C1714.1,870.9 1716.0,860.3 1719.6,853.2 C1723.1,846.1 1728.8,841.6 1734.5,838.3 C1740.1,834.9 1747.2,832.6 1753.6,833.0 C1760.0,833.3 1766.7,836.3 1772.8,840.4 C1778.8,844.5 1784.8,851.8 1789.8,857.4 C1794.7,863.1 1800.4,871.6 1802.5,874.4" stroke-width="5" />
<path d="M1802.5,874.4 L1798.3,883.0 L1787.6,885.1" stroke-width="5" />
<path d="M1787.6,885.1 C1785.5,881.9 1779.5,871.3 1774.9,865.9 C1770.3,860.6 1765.0,855.8 1760.0,853.2 C1755.0,850.5 1749.7,848.9 1745.1,850.0 C1740.5,851.0 1735.2,854.4 1732.3,859.6 C1729.5,864.7 1728.4,872.7 1728.1,880.8 C1727.7,889.0 1729.8,903.9 1730.2,908.5" stroke-width="5" />
<path d="M1753.6,838.3 C1756.4,839.7 1765.3,842.5 1770.6,846.8 C1775.9,851.0 1781.6,858.5 1785.5,863.8 C1789.4,869.1 1792.6,876.2 1794.0,878.7" stroke-width="3" />
<path d="M1721.7,891.5 C1722.0,888.6 1722.3,880.1 1723.4,874.4 C1724.5,868.8 1727.3,860.3 1728.1,857.4" stroke-width="3" />
<path d="M1721.7,927.6 C1723.1,930.5 1726.3,939.0 1730.2,944.7 C1734.1,950.3 1739.8,957.2 1745.1,961.7 C1750.4,966.1 1756.4,970.2 1762.1,971.2 C1767.8,972.3 1773.5,971.4 1779.1,968.1 C1784.8,964.7 1791.5,958.1 1796.2,951.0 C1800.8,943.9 1804.7,933.7 1806.8,925.5 C1808.9,917.3 1808.6,906.0 1808.9,902.1" stroke-width="5" />
<path d="M1808.9,902.1 L1802.5,895.7 L1789.8,896.8" stroke-width="5" />
<path d="M1789.8,896.8 C1789.8,901.2 1790.8,915.8 1789.8,923.4 C1788.7,931.0 1786.6,937.6 1783.4,942.5 C1780.2,947.5 1775.6,952.8 1770.6,953.2 C1765.7,953.5 1758.6,949.3 1753.6,944.7 C1748.6,940.0 1743.0,928.7 1740.8,925.5" stroke-width="5" />
<path d="M1734.5,931.9 C1736.9,935.1 1744.0,946.1 1749.4,951.0 C1754.7,956.0 1760.7,961.0 1766.4,961.7 C1772.0,962.4 1778.4,959.9 1783.4,955.3 C1788.4,950.7 1793.5,942.5 1796.2,934.0 C1798.8,925.5 1798.8,909.2 1799.3,904.2" stroke-width="3" />
<path d="M1788.7,831.9 C1791.4,830.8 1799.2,826.2 1804.7,825.5 C1810.2,824.8 1816.0,824.8 1821.7,827.6 C1827.4,830.5 1833.7,836.2 1838.7,842.5 C1843.7,848.9 1847.9,857.1 1851.5,865.9 C1855.0,874.8 1858.9,886.1 1860.0,895.7 C1861.0,905.3 1860.0,915.9 1857.8,923.4 C1855.7,930.8 1851.8,936.5 1847.2,940.4 C1842.6,944.3 1835.3,946.1 1830.2,946.8 C1825.1,947.5 1818.7,945.0 1816.4,944.7" stroke-width="7" />
<path d="M1825.9,838.3 C1826.3,843.6 1827.4,862.4 1828.1,870.2 C1828.8,878.0 1829.8,882.6 1830.2,885.1" stroke-width="5" />
<path d="M1834.4,848.9 L1836.6,861.7" stroke-width="5" />
<path d="M1834.4,895.7 C1836.2,898.6 1842.2,909.5 1845.1,912.7 C1847.9,915.9 1850.4,914.5 1851.5,914.9" stroke-width="5" />
<path d="M1840.8,895.7 C1841.9,897.8 1846.0,903.2 1847.2,908.5 C1848.5,913.8 1848.1,924.4 1848.3,927.6" stroke-width="4" />
<path d="M1832.3,821.3 C1834.1,819.3 1838.0,812.6 1843.0,809.6 C1847.9,806.5 1855.7,803.7 1862.1,803.2 C1868.5,802.6 1875.2,803.7 1881.2,806.4 C1887.3,809.0 1893.3,814.5 1898.3,819.1 C1903.2,823.7 1908.4,830.5 1911.0,834.0 C1913.7,837.6 1913.7,839.3 1914.2,840.4" stroke-width="5" />
<path d="M1914.2,840.4 L1908.9,846.8 L1894.0,847.9" stroke-width="5" />
<path d="M1894.0,847.9 C1892.6,845.2 1889.4,836.2 1885.5,831.9 C1881.6,827.6 1875.6,823.9 1870.6,822.3 C1865.6,820.7 1860.0,821.1 1855.7,822.3 C1851.5,823.6 1846.5,826.8 1845.1,829.8 C1843.7,832.8 1846.9,838.6 1847.2,840.4" stroke-width="5" />
<path d="M1862.1,808.5 C1865.3,809.6 1875.9,811.3 1881.2,814.9 C1886.6,818.4 1890.5,825.2 1894.0,829.8 C1897.6,834.4 1901.1,840.4 1902.5,842.5" stroke-width="3" />
<path d="M1867.4,934.0 C1870.4,934.4 1879.7,937.6 1885.5,936.1 C1891.4,934.7 1897.6,930.1 1902.5,925.5 C1907.5,920.9 1912.1,914.9 1915.3,908.5 C1918.5,902.1 1921.0,893.9 1921.7,887.2 C1922.4,880.5 1919.9,871.3 1919.5,868.1" stroke-width="5" />
<path d="M1919.5,868.1 L1911.0,862.7 L1900.4,868.1" stroke-width="5" />
<path d="M1900.4,868.1 C1900.8,872.0 1903.2,884.4 1902.5,891.5 C1901.8,898.6 1899.0,905.6 1896.1,910.6 C1893.3,915.6 1889.4,919.3 1885.5,921.2 C1881.6,923.2 1875.2,921.2 1872.7,922.3 C1870.3,923.4 1871.0,926.7 1870.6,927.6" stroke-width="5" />
<path d="M1872.7,931.9 C1875.6,931.5 1884.4,932.6 1889.8,929.8 C1895.1,926.9 1900.8,921.2 1904.7,914.9 C1908.6,908.5 1911.9,898.9 1913.2,891.5 C1914.4,884.0 1912.3,873.7 1912.1,870.2" stroke-width="3" />
<path d="M1751.5,831.9 L1785.5,726.6 L1862.1,804.2" stroke-width="4" />
<path d="M1834.4,948.9 L1838.7,987.2" stroke-width="6" />
<path d="M1838.7,987.2 L1844.0,1042.5" stroke-width="3.5" />
<path d="M1680.2,929.8 L1698.3,925.5" stroke-width="5" />
<path d="M1702.5,923.4 L1781.3,900.0" stroke-width="3.5" />
<path d="M1814.2,890.4 L1847.2,880.8" stroke-width="3.5" />
<path d="M1866.4,875.5 L1887.6,869.1" stroke-width="3.5" />
<path d="M1927.0,856.4 L1988.7,839.3 L1987.6,993.6" stroke-width="3.3" />
<path d="M1986.6,1007.4 L1985.5,1036.1" stroke-width="3.3" />
<text x="1624" y="712" transform="rotate(9 1624 712)" font-size="24" fill="#8c8c8c" stroke="none">k-part.com</text>
<path d="M1413.9,1782.6 L1410.4,1783.5 L1406.9,1784.0 L1403.3,1784.1 L1399.6,1783.8 L1395.9,1783.1 L1392.2,1782.1 L1388.5,1780.7 L1384.7,1778.9 L1381.0,1776.8 L1377.4,1774.4 L1373.8,1771.6 L1370.3,1768.5 L1366.9,1765.1 L1363.6,1761.4 L1360.4,1757.5 L1357.4,1753.3 L1354.6,1748.8 L1351.9,1744.2 L1349.4,1739.4 L1347.1,1734.4 L1345.0,1729.3 L1343.2,1724.1 L1341.6,1718.8 L1340.2,1713.4 L1339.1,1708.0 L1338.2,1702.6 L1337.5,1697.3 L1337.2,1691.9 L1337.1,1686.7 L1337.2,1681.5 L1337.6,1676.4 L1338.3,1671.6 L1339.2,1666.8 L1340.4,1662.3 L1341.8,1658.0 L1343.5,1653.9 L1345.4,1650.1 L1347.5,1646.5 L1349.8,1643.3 L1352.3,1640.4 L1355.0,1637.7 L1357.9,1635.5 L1360.9,1633.5 L1364.1,1631.9 L1367.4,1630.7" stroke-width="5" />
<path d="M1367.4,1630.7 L1370.8,1629.9 L1374.3,1629.4 L1377.9,1629.3 L1381.6,1629.6 L1385.3,1630.3 L1389.0,1631.3 L1392.8,1632.7 L1396.5,1634.4 L1400.2,1636.6 L1403.9,1639.0 L1407.5,1641.8 L1411.0,1644.9 L1414.4,1648.3 L1417.7,1652.0 L1420.8,1655.9 L1423.8,1660.1 L1426.7,1664.5 L1429.4,1669.2 L1431.9,1674.0 L1434.1,1679.0 L1436.2,1684.1 L1438.1,1689.3 L1439.7,1694.6 L1441.1,1699.9 L1442.2,1705.3 L1443.1,1710.7 L1443.7,1716.1 L1444.1,1721.5 L1444.2,1726.7 L1444.0,1731.9 L1443.6,1736.9 L1443.0,1741.8 L1442.0,1746.5 L1440.9,1751.1 L1439.4,1755.4 L1437.8,1759.5 L1435.9,1763.3 L1433.8,1766.8 L1431.5,1770.1 L1429.0,1773.0 L1426.3,1775.6 L1423.4,1777.9 L1420.3,1779.9 L1417.2,1781.4 L1413.9,1782.6" stroke-width="2.5" />
<path d="M1378.0,1628.7 L1381.2,1627.0 L1384.5,1625.6 L1387.9,1624.5 L1391.4,1623.9 L1395.1,1623.6 L1398.8,1623.7 L1402.5,1624.3 L1406.3,1625.2 L1410.1,1626.4 L1413.9,1628.1 L1417.7,1630.1 L1421.4,1632.5 L1425.0,1635.2 L1428.6,1638.3 L1432.1,1641.7 L1435.5,1645.3 L1438.7,1649.3 L1441.8,1653.5 L1444.8,1657.9 L1447.5,1662.6 L1450.1,1667.5 L1452.4,1672.5 L1454.6,1677.6 L1456.5,1682.9 L1458.2,1688.3 L1459.6,1693.7 L1460.8,1699.2 L1461.7,1704.7 L1462.3,1710.2 L1462.7,1715.6 L1462.8,1720.9 L1462.7,1726.2 L1462.3,1731.3 L1461.6,1736.3 L1460.6,1741.1 L1459.4,1745.7 L1458.0,1750.0 L1456.3,1754.1 L1454.3,1758.0 L1452.2,1761.5 L1449.8,1764.8 L1447.2,1767.7 L1444.4,1770.4 L1441.5,1772.6 L1438.4,1774.5 L1435.1,1776.0 L1431.7,1777.2 L1428.2,1777.9" stroke-width="6" />
<path d="M1372.8,1629.4 L1376.1,1628.1 L1379.5,1627.1 L1383.0,1626.6 L1386.6,1626.4 L1390.3,1626.6 L1393.9,1627.1 L1397.7,1628.1 L1401.4,1629.4 L1405.1,1631.1 L1408.9,1633.1 L1412.5,1635.4 L1416.1,1638.1 L1419.7,1641.2 L1423.1,1644.5 L1426.4,1648.1 L1429.6,1652.0 L1432.7,1656.1 L1435.6,1660.5 L1438.3,1665.1 L1440.8,1669.8 L1443.1,1674.8 L1445.3,1679.9 L1447.2,1685.0 L1448.9,1690.3 L1450.3,1695.7 L1451.5,1701.1 L1452.5,1706.5 L1453.1,1711.9 L1453.6,1717.2 L1453.8,1722.5 L1453.7,1727.7 L1453.3,1732.8 L1452.7,1737.7 L1451.9,1742.5 L1450.7,1747.0 L1449.4,1751.4 L1447.8,1755.5 L1446.0,1759.4 L1443.9,1763.0 L1441.6,1766.4 L1439.2,1769.4 L1436.5,1772.1 L1433.7,1774.5 L1430.7,1776.5 L1427.5,1778.1" stroke-width="3" />
<path d="M1443.9,1690.6 L1445.3,1695.5 L1446.5,1700.5 L1447.4,1705.5 L1448.2,1710.4 L1448.7,1715.4 L1448.9,1720.3 L1448.9,1725.0 L1448.7,1729.7 L1448.3,1734.2 L1447.6,1738.6 L1446.7,1742.8 L1445.6,1746.8 L1444.2,1750.5 L1442.7,1754.0 L1440.9,1757.3 L1438.9,1760.3 L1436.8,1762.9" stroke-width="3" />
<path d="M1424.9,1695.8 L1426.1,1700.0 L1427.2,1704.3 L1428.1,1708.6 L1428.8,1712.9 L1429.4,1717.2 L1429.8,1721.4 L1430.1,1725.5 L1430.1,1729.5 L1430.0,1733.4 L1429.7,1737.1 L1429.3,1740.7 L1428.7,1744.2 L1427.9,1747.4 L1426.9,1750.4 L1425.8,1753.2 L1424.5,1755.8 L1423.1,1758.1 L1421.6,1760.2 L1419.9,1762.0 L1418.1,1763.5 L1416.1,1764.7 L1414.1,1765.7 L1412.0,1766.3 L1409.8,1766.7 L1407.5,1766.7 L1405.1,1766.5 L1402.7,1765.9 L1400.3,1765.1 L1397.8,1764.0 L1395.3,1762.5 L1392.8,1760.8 L1390.4,1758.9 L1387.9,1756.6 L1385.5,1754.1 L1383.1,1751.4 L1380.7,1748.4 L1378.5,1745.3 L1376.3,1741.9 L1374.2,1738.4 L1372.2,1734.7 L1370.3,1730.8 L1368.5,1726.9 L1366.8,1722.8 L1365.3,1718.6 L1364.0,1714.4 L1362.7,1710.1 L1361.7,1705.8 L1360.7,1701.5 L1360.0,1697.2 L1359.4,1693.0 L1359.0,1688.8 L1358.8,1684.7 L1358.7,1680.6 L1358.8,1676.8 L1359.1,1673.0 L1359.6,1669.4 L1360.2,1666.0 L1361.0,1662.7 L1361.9,1659.7 L1363.0,1656.9 L1364.3,1654.3 L1365.7,1652.0 L1367.3,1649.9 L1369.0,1648.1 L1370.8,1646.6 L1372.7,1645.4 L1374.7,1644.4 L1376.8,1643.8 L1379.1,1643.4 L1381.3,1643.4 L1383.7,1643.6 L1386.1,1644.2 L1388.5,1645.0 L1391.0,1646.2 L1393.5,1647.6 L1396.0,1649.3 L1398.5,1651.3 L1400.9,1653.5 L1403.4,1656.0 L1405.8,1658.7 L1408.1,1661.7 L1410.4,1664.9 L1412.6,1668.2 L1414.7,1671.8 L1416.7,1675.5 L1418.6,1679.3 L1420.3,1683.3 L1422.0,1687.4 L1423.5,1691.5 L1424.9,1695.8Z" stroke-width="5" />
<path d="M1367.8,1751.9 L1365.1,1747.7 L1362.5,1743.4 L1360.1,1738.8 L1357.8,1734.1 L1355.7,1729.2 L1353.7,1724.3 L1352.0,1719.2 L1350.4,1714.0 L1349.1,1708.8 L1348.0,1703.6 L1347.1,1698.4 L1346.4,1693.2 L1345.9,1688.1 L1345.7,1683.0 L1345.7,1678.1 L1345.9,1673.3 L1346.4,1668.7 L1347.1,1664.2 L1348.0,1660.0 L1349.2,1656.0 L1350.5,1652.2 L1352.1,1648.7 L1353.8,1645.5 L1355.8,1642.6 L1357.9,1640.0 L1360.2,1637.8 L1362.6,1635.8" stroke-width="3" />
<path d="M1410.0,1778.3 L1407.0,1778.5 L1403.9,1778.4 L1400.7,1777.9 L1397.5,1777.0 L1394.2,1775.7 L1391.0,1774.1 L1387.7,1772.2 L1384.4,1769.9 L1381.2,1767.2 L1378.1,1764.3 L1375.0,1761.0" stroke-width="3" />
<path d="M1389.2,1634.8 L1392.3,1635.9 L1395.5,1637.4 L1398.7,1639.3 L1401.9,1641.5 L1405.0,1644.1 L1408.1,1646.9 L1411.1,1650.1 L1414.1,1653.6 L1417.0,1657.3 L1419.7,1661.3 L1422.4,1665.6 L1424.9,1670.0" stroke-width="3" />
<path d="M1405.7,1550.3 L1395.5,1614.2" stroke-width="1.5" />
<path d="M1310.0,1728.9 L1331.6,1723.5" stroke-width="1.5" />
<path d="M1331.6,1723.5 L1342.5,1720.2" stroke-width="6" />
<path d="M1342.5,1720.2 L1392.3,1705.1" stroke-width="4" />
<path d="M1457.2,1683.4 L1472.3,1680.2" stroke-width="5" />
<path d="M1472.3,1679.1 L1550.3,1655.3" stroke-width="1.5" />
<path d="M1562.2,1651.0 L1575.2,1647.7" stroke-width="1.5" />
<path d="M1580.1,1736.3 L1576.3,1737.8 L1572.4,1738.9 L1568.4,1739.5 L1564.2,1739.7 L1560.0,1739.4 L1555.7,1738.7 L1551.4,1737.5 L1547.1,1735.9 L1542.7,1733.9 L1538.4,1731.4 L1534.1,1728.6 L1529.9,1725.3 L1525.8,1721.6 L1521.8,1717.6 L1517.9,1713.3 L1514.2,1708.6 L1510.6,1703.6 L1507.2,1698.4 L1504.0,1692.9 L1501.0,1687.1 L1498.2,1681.2 L1495.7,1675.1 L1493.4,1668.9 L1491.4,1662.6 L1489.7,1656.2 L1488.2,1649.7 L1487.1,1643.3 L1486.2,1636.8 L1485.6,1630.5 L1485.3,1624.2 L1485.4,1618.0 L1485.7,1611.9 L1486.4,1606.0 L1487.3,1600.3 L1488.5,1594.9 L1490.0,1589.7 L1491.8,1584.8 L1493.9,1580.2 L1496.2,1575.9 L1498.8,1571.9 L1501.6,1568.4 L1504.7,1565.2 L1507.9,1562.4 L1511.4,1560.0 L1515.0,1558.0 L1518.8,1556.5 L1522.7,1555.4 L1526.7,1554.8 L1530.9,1554.6 L1535.1,1554.9" stroke-width="4.5" />
<path d="M1535.1,1554.9 L1539.6,1555.7 L1544.1,1556.9 L1548.6,1558.6 L1553.1,1560.8 L1557.6,1563.5 L1562.0,1566.5 L1566.4,1570.1 L1570.7,1574.0 L1574.8,1578.3 L1578.8,1583.0 L1582.6,1588.0 L1586.3,1593.3" stroke-width="2.5" />
<path d="M1609.4,1662.3 L1609.7,1668.7 L1609.8,1675.0 L1609.5,1681.2 L1608.9,1687.2 L1608.0,1693.0 L1606.8,1698.6 L1605.3,1703.9 L1603.5,1709.0 L1601.4,1713.7 L1599.1,1718.1 L1596.5,1722.1 L1593.6,1725.8 L1590.6,1729.0 L1587.3,1731.9 L1583.8,1734.3 L1580.1,1736.3" stroke-width="2.5" />
<path d="M1543.1,1549.4 L1547.0,1547.9 L1551.0,1546.8 L1555.1,1546.2 L1559.3,1546.0 L1563.6,1546.4 L1568.0,1547.1 L1572.4,1548.4 L1576.8,1550.1 L1581.2,1552.2 L1585.6,1554.8 L1589.9,1557.8 L1594.2,1561.2 L1598.3,1565.0 L1602.4,1569.1 L1606.3,1573.7 L1610.1,1578.5 L1613.7,1583.6 L1617.1,1589.1 L1620.3,1594.7 L1623.2,1600.6 L1626.0,1606.7 L1628.4,1613.0 L1630.6,1619.3 L1632.6,1625.8 L1634.2,1632.3 L1635.6,1638.9 L1636.6,1645.5 L1637.4,1652.0 L1637.8,1658.5 L1637.9,1664.8 L1637.7,1671.1 L1637.2,1677.1 L1636.4,1683.0 L1635.2,1688.7 L1633.8,1694.1 L1632.1,1699.2 L1630.1,1704.0 L1627.8,1708.5 L1625.3,1712.6 L1622.5,1716.3 L1619.4,1719.7 L1616.2,1722.7 L1612.7,1725.2" stroke-width="5" />
<path d="M1529.8,1554.6 L1543.1,1549.4" stroke-width="2" />
<path d="M1580.1,1736.3 L1612.7,1725.2" stroke-width="2" />
<path d="M1586.8,1634.1 L1588.1,1638.7 L1589.2,1643.3 L1590.1,1647.9 L1590.7,1652.5 L1591.1,1657.0 L1591.4,1661.6 L1591.4,1666.0 L1591.1,1670.4 L1590.7,1674.6 L1590.0,1678.7 L1589.1,1682.7 L1588.0,1686.4 L1586.7,1690.0 L1585.2,1693.4 L1583.5,1696.5 L1581.7,1699.4 L1579.6,1702.0 L1577.4,1704.4 L1575.1,1706.5 L1572.6,1708.3 L1569.9,1709.8 L1567.2,1711.0 L1564.3,1711.8 L1561.4,1712.4 L1558.3,1712.6 L1555.3,1712.5 L1552.1,1712.1 L1549.0,1711.4 L1545.8,1710.4 L1542.6,1709.0 L1539.5,1707.4 L1536.4,1705.4 L1533.3,1703.2 L1530.3,1700.6 L1527.3,1697.9 L1524.5,1694.8 L1521.7,1691.6 L1519.1,1688.1 L1516.6,1684.4 L1514.3,1680.5 L1512.1,1676.5 L1510.0,1672.3 L1508.2,1668.0 L1506.5,1663.6 L1505.0,1659.1 L1503.7,1654.6 L1502.7,1650.0 L1501.8,1645.4 L1501.1,1640.8 L1500.7,1636.2 L1500.5,1631.7 L1500.5,1627.2 L1500.7,1622.9 L1501.2,1618.6 L1501.9,1614.5 L1502.7,1610.6 L1503.8,1606.8 L1505.1,1603.2 L1506.6,1599.9 L1508.3,1596.7 L1510.2,1593.8 L1512.2,1591.2 L1514.4,1588.8 L1516.8,1586.8 L1519.3,1585.0 L1521.9,1583.5 L1524.7,1582.3 L1527.6,1581.4 L1530.5,1580.8 L1533.5,1580.6 L1536.6,1580.7 L1539.7,1581.1 L1542.9,1581.8 L1546.1,1582.9 L1549.2,1584.2 L1552.4,1585.9 L1555.5,1587.8 L1558.6,1590.1 L1561.6,1592.6 L1564.5,1595.4 L1567.4,1598.4 L1570.1,1601.7 L1572.7,1605.1 L1575.2,1608.8 L1577.6,1612.7 L1579.8,1616.7 L1581.8,1620.9 L1583.7,1625.2 L1585.4,1629.6 L1586.8,1634.1Z" stroke-width="4" />
<path d="M1543.5,1703.3 L1540.7,1701.8 L1537.9,1699.9 L1535.1,1697.9 L1532.4,1695.5 L1529.7,1692.9 L1527.2,1690.1 L1524.7,1687.1 L1522.3,1683.9 L1520.1,1680.4 L1518.0,1676.9 L1516.0,1673.1 L1514.1,1669.3 L1512.5,1665.3 L1511.0,1661.2 L1509.6,1657.1 L1508.5,1652.9 L1507.5,1648.7 L1506.7,1644.4 L1506.1,1640.2 L1505.7,1636.0 L1505.6,1631.9 L1505.6,1627.8 L1505.8,1623.8 L1506.2,1620.0 L1506.8,1616.2 L1507.6,1612.7 L1508.6,1609.2 L1509.8,1606.0 L1511.1,1603.0 L1512.7,1600.2 L1514.4,1597.6 L1516.2,1595.3 L1518.2,1593.2 L1520.4,1591.4 L1522.6,1589.9 L1525.0,1588.6 L1527.5,1587.7 L1530.1,1587.0 L1532.7,1586.6 L1535.5,1586.5 L1538.2,1586.7 L1541.0,1587.3 L1543.9,1588.1 L1546.7,1589.2 L1549.6,1590.6 L1552.4,1592.2 L1555.2,1594.2 L1557.9,1596.4 L1560.6,1598.8 L1563.2,1601.5 L1565.8,1604.4 L1568.2,1607.5" stroke-width="2.5" />
<path d="M1582.5,1636.6 L1583.6,1640.7 L1584.6,1644.9 L1585.5,1649.0 L1586.1,1653.2 L1586.6,1657.3 L1586.9,1661.3 L1587.1,1665.3 L1587.0,1669.2 L1586.8,1673.0 L1586.3,1676.7 L1585.7,1680.2 L1585.0,1683.5 L1584.0,1686.7 L1582.9,1689.7 L1581.6,1692.4 L1580.2,1695.0 L1578.6,1697.3 L1576.9,1699.3 L1575.0,1701.1 L1573.1,1702.7 L1571.0,1703.9 L1568.8,1704.9 L1566.5,1705.6 L1564.1,1706.0 L1561.7,1706.1 L1559.2,1706.0 L1556.7,1705.5 L1554.1,1704.8 L1551.5,1703.7 L1548.9,1702.4 L1546.3,1700.9 L1543.7,1699.0 L1541.1,1696.9 L1538.6,1694.6 L1536.2,1692.0 L1533.8,1689.2 L1531.5,1686.2 L1529.2,1683.0 L1527.1,1679.6 L1525.1,1676.1 L1523.2,1672.4 L1521.4,1668.6 L1519.8,1664.7 L1518.3,1660.7 L1517.0,1656.6 L1515.8,1652.5 L1514.8,1648.4 L1514.0,1644.2 L1513.3,1640.1 L1512.8,1636.0 L1512.5,1631.9 L1512.4,1627.9 L1512.4,1624.0 L1512.7,1620.2 L1513.1,1616.6 L1513.7,1613.1 L1514.5,1609.7 L1515.4,1606.5 L1516.5,1603.6 L1517.8,1600.8 L1519.2,1598.3 L1520.8,1596.0 L1522.5,1593.9 L1524.4,1592.1 L1526.4,1590.6 L1528.5,1589.3 L1530.6,1588.3 L1532.9,1587.6 L1535.3,1587.2 L1537.7,1587.1 L1540.2,1587.3 L1542.8,1587.7 L1545.4,1588.5 L1547.9,1589.5 L1550.6,1590.8 L1553.2,1592.4 L1555.7,1594.2 L1558.3,1596.3 L1560.8,1598.7 L1563.3,1601.2 L1565.7,1604.0 L1568.0,1607.0 L1570.2,1610.2 L1572.3,1613.6 L1574.4,1617.1 L1576.3,1620.8 L1578.0,1624.6 L1579.6,1628.5 L1581.1,1632.5 L1582.5,1636.6Z" stroke-width="5" />
<path d="M1564.5,1702.1 L1562.3,1701.9 L1560.0,1701.4 L1557.7,1700.7 L1555.4,1699.7 L1553.0,1698.4 L1550.7,1696.8 L1548.4,1695.0 L1546.0,1693.0 L1543.8,1690.8 L1541.5,1688.3 L1539.4,1685.6 L1537.2,1682.7 L1535.2,1679.6 L1533.2,1676.4 L1531.4,1673.0 L1529.6,1669.5 L1528.0,1665.9 L1526.5,1662.1 L1525.1,1658.3 L1523.8,1654.5 L1522.7,1650.6 L1521.7,1646.6 L1520.9,1642.7 L1520.2,1638.7 L1519.7,1634.8" stroke-width="5" />
<path d="M1555.5,1695.6 L1553.3,1694.2 L1551.2,1692.5 L1549.1,1690.6 L1547.0,1688.5 L1545.0,1686.1 L1543.0,1683.6 L1541.0,1680.9 L1539.2,1678.1 L1537.4,1675.0 L1535.7,1671.9 L1534.1,1668.6 L1532.5,1665.2 L1531.1,1661.7 L1529.8,1658.2 L1528.7,1654.6 L1527.6,1650.9 L1526.7,1647.3 L1525.9,1643.6 L1525.3,1640.0 L1524.8,1636.3 L1524.5,1632.8 L1524.3,1629.3 L1524.2,1625.8 L1524.3,1622.5 L1524.5,1619.3 L1524.9,1616.2 L1525.5,1613.3 L1526.2,1610.6 L1527.0,1608.0 L1527.9,1605.6 L1529.0,1603.4 L1530.2,1601.4 L1531.6,1599.6 L1533.0,1598.1 L1534.5,1596.8 L1536.2,1595.8 L1537.9,1595.0 L1539.7,1594.4 L1541.6,1594.1 L1543.6,1594.0 L1545.6,1594.3 L1547.7,1594.7 L1549.7,1595.4 L1551.9,1596.4 L1554.0,1597.6" stroke-width="3" />
<circle cx="1513.5" cy="1571.9" r="3.6" stroke-width="2.6" fill="none"/>
<circle cx="1544.8" cy="1570.9" r="3.6" stroke-width="2.6" fill="none"/>
<circle cx="1570.8" cy="1591.4" r="3.6" stroke-width="2.6" fill="none"/>
<circle cx="1592.5" cy="1625.0" r="3.6" stroke-width="2.6" fill="none"/>
<circle cx="1597.9" cy="1656.4" r="3.6" stroke-width="2.6" fill="none"/>
<circle cx="1597.9" cy="1698.6" r="3.6" stroke-width="2.6" fill="none"/>
<circle cx="1580.6" cy="1723.5" r="3.6" stroke-width="2.6" fill="none"/>
<circle cx="1550.3" cy="1724.5" r="3.6" stroke-width="2.6" fill="none"/>
<circle cx="1518.9" cy="1697.5" r="3.6" stroke-width="2.6" fill="none"/>
<circle cx="1502.6" cy="1671.5" r="3.6" stroke-width="2.6" fill="none"/>
<circle cx="1494.0" cy="1631.5" r="3.6" stroke-width="2.6" fill="none"/>
<circle cx="1496.1" cy="1594.7" r="3.6" stroke-width="2.6" fill="none"/>
<path d="M1461.5,1595.8 L1544.8,1571.9" stroke-width="1.5" />
<path d="M1589.2,1555.7 L1617.4,1547.1" stroke-width="1.5" />
<path d="M1634.7,1541.6 L1652.0,1536.9" stroke-width="1.5" />
<path d="M1572.6,1739.7 L1572.6,1791.6" stroke-width="1.5" />
<path d="M1710.0,1605.3 L1711.0,1609.0 L1711.9,1612.7 L1712.6,1616.3 L1713.2,1620.0 L1713.5,1623.7 L1713.8,1627.3 L1713.8,1630.9 L1713.7,1634.3 L1713.4,1637.7 L1712.9,1641.0 L1712.3,1644.1 L1711.5,1647.1 L1710.5,1650.0 L1709.4,1652.6 L1708.1,1655.1 L1706.7,1657.4 L1705.2,1659.5 L1703.5,1661.4 L1701.7,1663.0 L1699.8,1664.4 L1697.8,1665.6 L1695.7,1666.5 L1693.6,1667.2 L1691.3,1667.6 L1689.0,1667.7 L1686.6,1667.6 L1684.2,1667.3 L1681.8,1666.6 L1679.4,1665.8 L1676.9,1664.7 L1674.5,1663.3 L1672.1,1661.7 L1669.7,1659.9 L1667.4,1657.8 L1665.1,1655.6 L1662.9,1653.1 L1660.7,1650.5 L1658.7,1647.7 L1656.7,1644.7 L1654.9,1641.6 L1653.1,1638.4 L1651.5,1635.0 L1650.1,1631.6 L1648.7,1628.0 L1647.6,1624.4 L1646.5,1620.8 L1645.7,1617.1 L1644.9,1613.4 L1644.4,1609.7 L1644.0,1606.1 L1643.8,1602.5 L1643.8,1598.9 L1643.9,1595.4 L1644.2,1592.1 L1644.6,1588.8 L1645.3,1585.6 L1646.1,1582.6 L1647.0,1579.8 L1648.1,1577.1 L1649.4,1574.6 L1650.8,1572.4 L1652.3,1570.3 L1654.0,1568.4 L1655.8,1566.8 L1657.7,1565.4 L1659.7,1564.2 L1661.8,1563.3 L1664.0,1562.6 L1666.2,1562.2 L1668.5,1562.0 L1670.9,1562.1 L1673.3,1562.5 L1675.7,1563.1 L1678.2,1564.0 L1680.6,1565.1 L1683.1,1566.5 L1685.5,1568.1 L1687.9,1569.9 L1690.2,1571.9 L1692.5,1574.2 L1694.7,1576.6 L1696.8,1579.2 L1698.9,1582.1 L1700.8,1585.0 L1702.7,1588.1 L1704.4,1591.4 L1706.0,1594.7 L1707.5,1598.2 L1708.8,1601.7 L1710.0,1605.3Z" stroke-width="3.2" />
<path d="M1703.2,1606.6 L1704.1,1609.7 L1704.9,1612.9 L1705.5,1616.0 L1706.0,1619.2 L1706.4,1622.3 L1706.6,1625.4 L1706.7,1628.4 L1706.6,1631.4 L1706.4,1634.2 L1706.1,1637.0 L1705.6,1639.7 L1705.0,1642.2 L1704.3,1644.6 L1703.5,1646.9 L1702.5,1649.0 L1701.4,1650.9 L1700.2,1652.6 L1698.9,1654.2 L1697.4,1655.6 L1695.9,1656.7 L1694.3,1657.7 L1692.6,1658.5 L1690.9,1659.0 L1689.1,1659.3 L1687.2,1659.4 L1685.3,1659.3 L1683.4,1658.9 L1681.4,1658.4 L1679.4,1657.6 L1677.4,1656.6 L1675.4,1655.4 L1673.5,1654.0 L1671.5,1652.5 L1669.6,1650.7 L1667.7,1648.7 L1665.9,1646.6 L1664.1,1644.3 L1662.5,1641.9 L1660.8,1639.4 L1659.3,1636.7 L1657.9,1633.9 L1656.5,1631.0 L1655.3,1628.1 L1654.1,1625.0 L1653.1,1621.9 L1652.2,1618.8 L1651.5,1615.7 L1650.9,1612.5 L1650.4,1609.4 L1650.0,1606.3 L1649.8,1603.2 L1649.7,1600.2 L1649.7,1597.2 L1649.9,1594.3 L1650.3,1591.6 L1650.7,1588.9 L1651.3,1586.4 L1652.0,1584.0 L1652.9,1581.7 L1653.9,1579.6 L1655.0,1577.7 L1656.2,1575.9 L1657.5,1574.4 L1658.9,1573.0 L1660.4,1571.8 L1662.0,1570.9 L1663.7,1570.1 L1665.5,1569.6 L1667.3,1569.3 L1669.1,1569.2 L1671.1,1569.3 L1673.0,1569.6 L1675.0,1570.2 L1676.9,1571.0 L1678.9,1571.9 L1680.9,1573.1 L1682.9,1574.5 L1684.8,1576.1 L1686.8,1577.9 L1688.6,1579.8 L1690.5,1582.0 L1692.2,1584.2 L1693.9,1586.6 L1695.5,1589.2 L1697.1,1591.9 L1698.5,1594.7 L1699.9,1597.6 L1701.1,1600.5 L1702.2,1603.5 L1703.2,1606.6Z" stroke-width="4" />
<path d="M1694.8,1667.7 L1700.7,1717.6" stroke-width="1.5" />
<path d="M1641.4,1627.3 L1681.7,1613.1" stroke-width="4" />
<path d="M1710.2,1602.4 L1754.2,1588.2" stroke-width="4" />
<path d="M1800.5,1573.9 L1810.0,1571.5" stroke-width="4" />
<path d="M1810.0,1571.5 L1909.7,1537.1" stroke-width="1.5" />
<path d="M1768.4,1645.3 L1765.9,1645.9 L1763.4,1646.3 L1760.9,1646.3 L1758.3,1646.1 L1755.6,1645.6 L1752.9,1644.9 L1750.3,1643.9 L1747.6,1642.6 L1745.0,1641.1 L1742.4,1639.3 L1739.8,1637.3 L1737.3,1635.0 L1734.9,1632.6 L1732.5,1629.9 L1730.3,1627.1 L1728.2,1624.0 L1726.1,1620.8 L1724.2,1617.5 L1722.5,1614.0 L1720.8,1610.4 L1719.4,1606.8 L1718.1,1603.0 L1716.9,1599.2 L1715.9,1595.4 L1715.2,1591.5 L1714.5,1587.6 L1714.1,1583.8 L1713.9,1579.9 L1713.8,1576.2 L1713.9,1572.5 L1714.3,1568.9 L1714.8,1565.4 L1715.4,1562.0 L1716.3,1558.8 L1717.3,1555.8 L1718.5,1552.9 L1719.9,1550.2 L1721.4,1547.7 L1723.1,1545.4 L1724.9,1543.3 L1726.9,1541.5 L1729.0,1539.9 L1731.1,1538.6 L1733.4,1537.5 L1735.8,1536.7 L1738.3,1536.2" stroke-width="5" />
<path d="M1738.3,1536.2 L1740.8,1535.9 L1743.4,1536.0 L1746.1,1536.3 L1748.8,1536.8 L1751.5,1537.7 L1754.2,1538.8 L1756.8,1540.1 L1759.5,1541.8 L1762.1,1543.7 L1764.7,1545.8 L1767.2,1548.1 L1769.6,1550.7 L1772.0,1553.5 L1774.2,1556.4 L1776.3,1559.6 L1778.3,1562.9 L1780.2,1566.3 L1781.9,1569.9 L1783.5,1573.5 L1784.9,1577.3 L1786.1,1581.1 L1787.2,1585.0 L1788.1,1588.9 L1788.8,1592.8 L1789.3,1596.7 L1789.6,1600.6 L1789.8,1604.5 L1789.7,1608.2 L1789.5,1611.9 L1789.1,1615.5 L1788.4,1618.9 L1787.6,1622.3 L1786.7,1625.4 L1785.5,1628.4 L1784.2,1631.2 L1782.7,1633.8 L1781.0,1636.2 L1779.2,1638.3 L1777.3,1640.2 L1775.2,1641.9 L1773.0,1643.3 L1770.8,1644.5 L1768.4,1645.3" stroke-width="2.5" />
<path d="M1744.8,1534.9 L1747.1,1533.6 L1749.4,1532.6 L1751.8,1531.9 L1754.3,1531.4 L1756.9,1531.2 L1759.5,1531.3 L1762.2,1531.7 L1764.9,1532.4 L1767.6,1533.3 L1770.3,1534.5 L1772.9,1535.9 L1775.6,1537.6 L1778.2,1539.6 L1780.7,1541.8 L1783.2,1544.2 L1785.6,1546.8 L1787.9,1549.6 L1790.1,1552.6 L1792.2,1555.8 L1794.1,1559.1 L1796.0,1562.6 L1797.6,1566.2 L1799.2,1569.9 L1800.5,1573.6 L1801.7,1577.5 L1802.8,1581.4 L1803.6,1585.3 L1804.3,1589.2 L1804.7,1593.1 L1805.0,1597.0 L1805.1,1600.8 L1805.0,1604.5 L1804.7,1608.2 L1804.2,1611.7 L1803.6,1615.1 L1802.7,1618.4 L1801.7,1621.5 L1800.5,1624.4 L1799.1,1627.2 L1797.6,1629.7 L1795.9,1632.0 L1794.1,1634.1 L1792.1,1636.0 L1790.0,1637.6 L1787.8,1638.9 L1785.5,1640.0 L1783.1,1640.8 L1780.6,1641.4" stroke-width="6" />
<path d="M1740.0,1535.7 L1742.3,1534.8 L1744.7,1534.1 L1747.2,1533.7 L1749.7,1533.6 L1752.3,1533.7 L1754.9,1534.1 L1757.6,1534.8 L1760.2,1535.7 L1762.9,1536.9 L1765.5,1538.4 L1768.1,1540.1 L1770.6,1542.0 L1773.2,1544.2 L1775.6,1546.6 L1778.0,1549.1 L1780.2,1551.9 L1782.4,1554.9 L1784.4,1558.0 L1786.4,1561.3 L1788.2,1564.7 L1789.8,1568.2 L1791.4,1571.8 L1792.7,1575.5 L1793.9,1579.3 L1795.0,1583.1 L1795.8,1586.9 L1796.5,1590.8 L1797.0,1594.6 L1797.3,1598.5 L1797.4,1602.2 L1797.4,1605.9 L1797.2,1609.6 L1796.7,1613.1 L1796.1,1616.5 L1795.3,1619.7 L1794.4,1622.9 L1793.3,1625.8 L1792.0,1628.6 L1790.5,1631.1 L1788.9,1633.5 L1787.2,1635.7 L1785.3,1637.6 L1783.3,1639.3 L1781.2,1640.7 L1778.9,1641.9" stroke-width="2.5" />
<path d="M1777.4,1583.8 L1778.3,1587.0 L1779.1,1590.2 L1779.8,1593.5 L1780.4,1596.7 L1780.9,1599.9 L1781.2,1603.0 L1781.4,1606.1 L1781.5,1609.1 L1781.4,1612.0 L1781.3,1614.8 L1781.0,1617.5 L1780.5,1620.1 L1780.0,1622.5 L1779.3,1624.8 L1778.5,1626.8 L1777.6,1628.8 L1776.6,1630.5 L1775.5,1632.0 L1774.3,1633.4 L1773.0,1634.5 L1771.6,1635.4 L1770.1,1636.1 L1768.6,1636.6 L1767.0,1636.8 L1765.3,1636.8 L1763.6,1636.6 L1761.9,1636.2 L1760.1,1635.5 L1758.3,1634.7 L1756.5,1633.6 L1754.6,1632.3 L1752.8,1630.8 L1751.0,1629.1 L1749.2,1627.2 L1747.5,1625.2 L1745.8,1622.9 L1744.1,1620.5 L1742.5,1618.0 L1740.9,1615.3 L1739.4,1612.5 L1738.0,1609.6 L1736.7,1606.7 L1735.5,1603.6 L1734.3,1600.5 L1733.3,1597.3 L1732.4,1594.1 L1731.6,1590.8 L1730.9,1587.6 L1730.3,1584.4 L1729.9,1581.2 L1729.5,1578.1 L1729.3,1575.0 L1729.2,1572.0 L1729.3,1569.1 L1729.5,1566.3 L1729.8,1563.6 L1730.2,1561.0 L1730.7,1558.6 L1731.4,1556.3 L1732.2,1554.2 L1733.1,1552.3 L1734.1,1550.6 L1735.2,1549.0 L1736.4,1547.7 L1737.7,1546.6 L1739.1,1545.7 L1740.6,1545.0 L1742.1,1544.5 L1743.7,1544.3 L1745.4,1544.2 L1747.1,1544.5 L1748.9,1544.9 L1750.6,1545.5 L1752.4,1546.4 L1754.3,1547.5 L1756.1,1548.8 L1757.9,1550.3 L1759.7,1552.0 L1761.5,1553.9 L1763.2,1555.9 L1765.0,1558.2 L1766.6,1560.5 L1768.3,1563.1 L1769.8,1565.7 L1771.3,1568.5 L1772.7,1571.4 L1774.0,1574.4 L1775.2,1577.5 L1776.4,1580.6 L1777.4,1583.8Z" stroke-width="5" />
<path d="M1741.3,1632.5 L1739.1,1629.9 L1737.0,1627.1 L1734.9,1624.1 L1733.0,1621.0 L1731.1,1617.7 L1729.4,1614.3 L1727.8,1610.7 L1726.3,1607.1 L1724.9,1603.4 L1723.7,1599.6 L1722.6,1595.8 L1721.6,1592.0 L1720.9,1588.1 L1720.2,1584.3 L1719.8,1580.5 L1719.5,1576.7 L1719.3,1573.0 L1719.4,1569.4 L1719.6,1565.9 L1719.9,1562.5 L1720.4,1559.3 L1721.1,1556.2 L1722.0,1553.2 L1723.0,1550.5 L1724.1,1547.9 L1725.4,1545.6 L1726.8,1543.5 L1728.4,1541.6 L1730.0,1539.9 L1731.8,1538.5 L1733.7,1537.4 L1735.7,1536.5 L1737.8,1535.8 L1739.9,1535.5 L1742.1,1535.4" stroke-width="2.5" />
<path d="M1758.8,1538.9 L1761.2,1540.3 L1763.5,1542.1 L1765.9,1544.0 L1768.2,1546.2 L1770.4,1548.6 L1772.6,1551.2 L1774.7,1554.0 L1776.8,1557.0 L1778.7,1560.1 L1780.6,1563.4 L1782.3,1566.8 L1784.0,1570.3 L1785.5,1574.0 L1786.8,1577.7 L1788.1,1581.5 L1789.2,1585.3 L1790.1,1589.1 L1790.9,1593.0 L1791.5,1596.8 L1792.0,1600.6 L1792.3,1604.4 L1792.4,1608.1 L1792.4,1611.7 L1792.2,1615.2 L1791.8,1618.6" stroke-width="2.5" />
<path d="M1776.7,1646.3 L1793.4,1695.0" stroke-width="1.5" />
<path d="M1951.9,1522.2 L1953.7,1528.8 L1955.3,1535.5 L1956.6,1542.2 L1957.5,1548.9 L1958.1,1555.5 L1958.4,1562.1 L1958.3,1568.6 L1958.0,1575.0 L1957.3,1581.2 L1956.3,1587.1 L1954.9,1592.9 L1953.3,1598.4 L1951.3,1603.6 L1949.1,1608.6 L1946.6,1613.1 L1943.8,1617.4 L1940.8,1621.2 L1937.5,1624.7 L1934.0,1627.8 L1930.3,1630.4 L1926.3,1632.6 L1922.3,1634.3 L1918.0,1635.6 L1913.7,1636.5 L1909.2,1636.8 L1904.7,1636.7 L1900.0,1636.1 L1895.4,1635.1 L1890.7,1633.6 L1886.0,1631.7 L1881.4,1629.3 L1876.8,1626.4 L1872.2,1623.2 L1867.8,1619.5 L1863.5,1615.5 L1859.3,1611.1 L1855.2,1606.4 L1851.4,1601.3 L1847.7,1596.0 L1844.3,1590.3 L1841.1,1584.5 L1838.1,1578.4 L1835.4,1572.1 L1832.9,1565.7 L1830.8,1559.2 L1828.9,1552.6 L1827.3,1545.9 L1826.1,1539.2 L1825.1,1532.5 L1824.5,1525.8 L1824.3,1519.2 L1824.3,1512.7 L1824.7,1506.4 L1825.4,1500.2 L1826.4,1494.2 L1827.7,1488.4 L1829.3,1482.9 L1831.3,1477.7 L1833.5,1472.8 L1836.0,1468.2 L1838.8,1464.0 L1841.9,1460.1 L1845.2,1456.6 L1848.7,1453.6 L1852.4,1450.9 L1856.3,1448.7 L1860.4,1447.0 L1864.6,1445.7 L1869.0,1444.9 L1873.4,1444.5 L1878.0,1444.6 L1882.6,1445.2 L1887.3,1446.2 L1891.9,1447.7 L1896.6,1449.7 L1901.3,1452.1 L1905.9,1454.9 L1910.4,1458.1 L1914.8,1461.8 L1919.2,1465.8 L1923.4,1470.2 L1927.4,1475.0 L1931.2,1480.0 L1934.9,1485.4 L1938.4,1491.0 L1941.6,1496.9 L1944.6,1502.9 L1947.3,1509.2 L1949.7,1515.6 L1951.9,1522.2Z" stroke-width="4.5" />
<path d="M1866.3,1445.1 L1870.6,1444.0 L1875.1,1443.5 L1879.7,1443.3 L1884.3,1443.7 L1889.0,1444.5 L1893.8,1445.9 L1898.5,1447.6 L1903.2,1449.9 L1907.9,1452.6 L1912.5,1455.7 L1917.0,1459.2 L1921.5,1463.2 L1925.8,1467.5 L1929.9,1472.2 L1933.9,1477.2 L1937.6,1482.5 L1941.2,1488.1 L1944.5,1494.0 L1947.6,1500.1 L1950.4,1506.4 L1953.0,1512.8 L1955.2,1519.4 L1957.2,1526.1 L1958.8,1532.9 L1960.2,1539.7 L1961.2,1546.4 L1961.8,1553.2 L1962.2,1559.9 L1962.2,1566.5 L1961.9,1572.9 L1961.2,1579.2 L1960.2,1585.3 L1958.9,1591.1 L1957.3,1596.7 L1955.3,1602.0 L1953.1,1607.0 L1950.6,1611.7 L1947.8,1616.0 L1944.7,1619.9 L1941.4,1623.5 L1937.8,1626.6 L1934.1,1629.2" stroke-width="3" />
<path d="M1926.3,1531.4 L1927.6,1536.1 L1928.8,1540.9 L1929.7,1545.7 L1930.4,1550.5 L1930.8,1555.3 L1931.1,1560.0 L1931.1,1564.6 L1930.9,1569.2 L1930.4,1573.6 L1929.7,1577.9 L1928.8,1582.0 L1927.7,1585.9 L1926.4,1589.6 L1924.9,1593.1 L1923.2,1596.4 L1921.2,1599.4 L1919.1,1602.1 L1916.9,1604.6 L1914.4,1606.8 L1911.9,1608.6 L1909.2,1610.2 L1906.3,1611.4 L1903.4,1612.3 L1900.4,1612.9 L1897.3,1613.1 L1894.1,1613.0 L1890.9,1612.6 L1887.6,1611.8 L1884.3,1610.7 L1881.1,1609.3 L1877.8,1607.5 L1874.6,1605.5 L1871.4,1603.1 L1868.3,1600.5 L1865.2,1597.6 L1862.3,1594.4 L1859.5,1591.0 L1856.7,1587.4 L1854.2,1583.5 L1851.7,1579.5 L1849.4,1575.2 L1847.3,1570.9 L1845.4,1566.4 L1843.6,1561.8 L1842.1,1557.1 L1840.8,1552.3 L1839.6,1547.6 L1838.7,1542.8 L1838.0,1538.0 L1837.6,1533.2 L1837.3,1528.5 L1837.3,1523.8 L1837.5,1519.3 L1838.0,1514.9 L1838.7,1510.6 L1839.5,1506.5 L1840.7,1502.6 L1842.0,1498.8 L1843.5,1495.3 L1845.2,1492.1 L1847.1,1489.1 L1849.2,1486.3 L1851.5,1483.9 L1853.9,1481.7 L1856.5,1479.8 L1859.2,1478.3 L1862.1,1477.1 L1865.0,1476.2 L1868.0,1475.6 L1871.1,1475.4 L1874.3,1475.5 L1877.5,1475.9 L1880.8,1476.7 L1884.1,1477.8 L1887.3,1479.2 L1890.6,1480.9 L1893.8,1483.0 L1897.0,1485.3 L1900.1,1488.0 L1903.1,1490.9 L1906.1,1494.1 L1908.9,1497.5 L1911.6,1501.1 L1914.2,1505.0 L1916.7,1509.0 L1919.0,1513.2 L1921.1,1517.6 L1923.0,1522.1 L1924.7,1526.7 L1926.3,1531.4Z" stroke-width="4" />
<path d="M1897.4,1607.2 L1894.5,1607.1 L1891.6,1606.6 L1888.7,1605.9 L1885.7,1604.8 L1882.8,1603.5 L1879.9,1601.8 L1877.0,1599.9 L1874.1,1597.7 L1871.3,1595.2 L1868.5,1592.5 L1865.9,1589.6 L1863.3,1586.4 L1860.9,1583.0 L1858.5,1579.4 L1856.3,1575.6 L1854.3,1571.7 L1852.4,1567.7 L1850.6,1563.5 L1849.0,1559.2 L1847.7,1554.9 L1846.4,1550.5 L1845.4,1546.1 L1844.6,1541.6 L1844.0,1537.2 L1843.6,1532.8 L1843.4,1528.5 L1843.4,1524.2 L1843.6,1520.1 L1844.0,1516.1 L1844.6,1512.2 L1845.4,1508.4 L1846.5,1504.9 L1847.7,1501.5 L1849.1,1498.4 L1850.6,1495.4 L1852.4,1492.8 L1854.3,1490.3 L1856.4,1488.2 L1858.6,1486.3 L1860.9,1484.7 L1863.4,1483.4 L1865.9,1482.4 L1868.6,1481.7 L1871.3,1481.4 L1874.1,1481.3 L1877.0,1481.5 L1879.9,1482.1 L1882.8,1482.9 L1885.8,1484.1 L1888.7,1485.6 L1891.7,1487.3 L1894.6,1489.4 L1897.4,1491.7 L1900.2,1494.3 L1902.9,1497.1 L1905.5,1500.1 L1908.0,1503.4" stroke-width="2.5" />
<path d="M1920.1,1534.5 L1921.3,1538.8 L1922.4,1543.1 L1923.3,1547.4 L1924.0,1551.7 L1924.5,1556.0 L1924.9,1560.2 L1925.1,1564.3 L1925.1,1568.3 L1925.0,1572.2 L1924.6,1576.0 L1924.1,1579.6 L1923.4,1583.1 L1922.6,1586.3 L1921.6,1589.4 L1920.4,1592.2 L1919.0,1594.8 L1917.5,1597.1 L1915.9,1599.2 L1914.1,1601.0 L1912.2,1602.6 L1910.2,1603.9 L1908.1,1604.8 L1905.9,1605.5 L1903.6,1605.9 L1901.2,1606.0 L1898.8,1605.7 L1896.3,1605.2 L1893.7,1604.4 L1891.2,1603.3 L1888.6,1601.9 L1886.1,1600.2 L1883.5,1598.3 L1881.0,1596.0 L1878.5,1593.6 L1876.0,1590.9 L1873.6,1587.9 L1871.3,1584.8 L1869.1,1581.4 L1866.9,1577.9 L1864.9,1574.2 L1863.0,1570.4 L1861.2,1566.4 L1859.5,1562.3 L1858.0,1558.2 L1856.6,1553.9 L1855.4,1549.7 L1854.3,1545.4 L1853.4,1541.0 L1852.7,1536.8 L1852.1,1532.5 L1851.8,1528.3 L1851.6,1524.2 L1851.6,1520.1 L1851.7,1516.2 L1852.1,1512.5 L1852.6,1508.9 L1853.3,1505.4 L1854.1,1502.2 L1855.1,1499.1 L1856.3,1496.3 L1857.7,1493.7 L1859.2,1491.3 L1860.8,1489.2 L1862.6,1487.4 L1864.5,1485.9 L1866.5,1484.6 L1868.6,1483.6 L1870.8,1483.0 L1873.1,1482.6 L1875.5,1482.5 L1877.9,1482.7 L1880.4,1483.2 L1883.0,1484.1 L1885.5,1485.2 L1888.1,1486.6 L1890.6,1488.3 L1893.2,1490.2 L1895.7,1492.4 L1898.2,1494.9 L1900.7,1497.6 L1903.1,1500.5 L1905.4,1503.7 L1907.6,1507.0 L1909.8,1510.6 L1911.8,1514.3 L1913.7,1518.1 L1915.5,1522.1 L1917.2,1526.1 L1918.7,1530.3 L1920.1,1534.5Z" stroke-width="4.5" />
<path d="M1904.0,1601.9 L1901.8,1601.7 L1899.6,1601.1 L1897.4,1600.3 L1895.1,1599.2 L1892.8,1597.8 L1890.5,1596.2 L1888.2,1594.3 L1885.9,1592.1 L1883.6,1589.7 L1881.4,1587.1 L1879.2,1584.3 L1877.1,1581.3 L1875.0,1578.0 L1873.1,1574.7 L1871.2,1571.1 L1869.4,1567.5 L1867.7,1563.7 L1866.2,1559.8 L1864.7,1555.8 L1863.4,1551.8 L1862.3,1547.7 L1861.2,1543.6 L1860.4,1539.5 L1859.6,1535.4 L1859.0,1531.4" stroke-width="5" />
<path d="M1900.4,1597.9 L1898.3,1596.9 L1896.2,1595.8 L1894.2,1594.3 L1892.1,1592.6 L1890.0,1590.7 L1887.9,1588.6 L1885.8,1586.2 L1883.8,1583.7 L1881.9,1580.9 L1880.0,1578.0 L1878.1,1574.9 L1876.3,1571.7 L1874.7,1568.3 L1873.1,1564.8 L1871.6,1561.2 L1870.2,1557.5 L1868.9,1553.8 L1867.7,1550.0 L1866.7,1546.2 L1865.8,1542.3 L1865.0,1538.5 L1864.4,1534.7 L1863.9,1531.0 L1863.6,1527.3 L1863.4,1523.7 L1863.3,1520.2 L1863.4,1516.8 L1863.6,1513.6 L1864.0,1510.5 L1864.5,1507.6 L1865.2,1504.8 L1866.0,1502.3 L1866.9,1499.9 L1868.0,1497.8 L1869.2,1495.8 L1870.5,1494.2 L1871.9,1492.7 L1873.4,1491.5 L1875.0,1490.6 L1876.8,1489.9 L1878.5,1489.5 L1880.4,1489.4 L1882.3,1489.5 L1884.3,1489.9 L1886.3,1490.6" stroke-width="3" />
<circle cx="1851.5" cy="1468.2" r="3.6" stroke-width="2.6" fill="none"/>
<circle cx="1882.4" cy="1465.9" r="3.6" stroke-width="2.6" fill="none"/>
<circle cx="1909.7" cy="1488.4" r="3.6" stroke-width="2.6" fill="none"/>
<circle cx="1929.9" cy="1520.5" r="3.6" stroke-width="2.6" fill="none"/>
<circle cx="1937.0" cy="1552.5" r="3.6" stroke-width="2.6" fill="none"/>
<circle cx="1935.8" cy="1595.3" r="3.6" stroke-width="2.6" fill="none"/>
<circle cx="1919.2" cy="1617.8" r="3.6" stroke-width="2.6" fill="none"/>
<circle cx="1888.3" cy="1621.4" r="3.6" stroke-width="2.6" fill="none"/>
<circle cx="1857.5" cy="1594.1" r="3.6" stroke-width="2.6" fill="none"/>
<circle cx="1839.7" cy="1568.0" r="3.6" stroke-width="2.6" fill="none"/>
<circle cx="1831.4" cy="1527.6" r="3.6" stroke-width="2.6" fill="none"/>
<circle cx="1834.9" cy="1490.8" r="3.6" stroke-width="2.6" fill="none"/>
<path d="M1895.5,1454.0 C1898.2,1457.2 1907.1,1466.1 1912.1,1473.0 C1917.0,1479.9 1923.0,1491.8 1925.2,1495.5" stroke-width="2.5" />
<path d="M1945.3,1550.2 C1945.9,1554.7 1948.9,1568.6 1948.9,1577.5 C1948.9,1586.4 1947.9,1595.7 1945.3,1603.6 C1942.8,1611.5 1935.4,1621.4 1933.5,1625.0" stroke-width="2.5" />
<path d="M1906.2,1636.8 L1906.2,1698.6" stroke-width="1.5" />
<path d="M1634.2,1541.9 L1650.9,1537.6" stroke-width="1.5" />
<path d="M1668.7,1531.9 L1882.4,1467.1" stroke-width="1.5" />
<path d="M1910.9,1454.0 L1950.1,1442.1" stroke-width="1.5" />
<path d="M1950.1,1442.1 L1939.4,1431.4" stroke-width="3" />
<path d="M1933.5,1425.5 L1924.0,1417.2" stroke-width="3" />
<path d="M1919.2,1412.4 L1910.9,1407.7" stroke-width="3" />
<path d="M1910.9,1407.7 L1928.7,1402.2" stroke-width="3" />
<path d="M1933.5,1400.6 L1940.6,1398.2" stroke-width="3" />
<path d="M1946.5,1389.4 L1986.9,1375.6" stroke-width="3.5" />
<path d="M1948.9,1402.2 L1990.5,1391.1" stroke-width="3.5" />
<ellipse cx="1946.5" cy="1395.8" rx="4.5" ry="6.8" transform="rotate(-17 1946.5 1395.8)" stroke-width="3.5"/>
<path d="M1983.3,1373.2 C1982.5,1374.6 1978.8,1378.6 1978.6,1381.6 C1978.4,1384.5 1980.8,1389.0 1982.2,1391.1 C1983.5,1393.2 1986.1,1393.6 1986.9,1394.1" stroke-width="3.5" />
<path d="M1983.3,1373.2 L1993.3,1366.6" stroke-width="3.5" />
<path d="M1986.9,1394.1 L1995.7,1392.2" stroke-width="3.5" />
<path d="M1993.3,1366.6 C1994.8,1366.3 1997.9,1367.1 1999.5,1369.0 C2001.1,1370.9 2002.5,1374.9 2002.8,1378.0 C2003.1,1381.1 2002.6,1385.1 2001.4,1387.5 C2000.2,1389.9 1997.4,1392.0 1995.7,1392.2 C1994.0,1392.4 1992.2,1390.9 1991.2,1388.7 C1990.1,1386.5 1989.4,1382.2 1989.3,1379.2 C1989.2,1376.2 1989.8,1373.0 1990.5,1370.9 C1991.1,1368.8 1991.8,1366.9 1993.3,1366.6Z" stroke-width="4" />
<path d="M1954.8,1386.3 C1955.2,1387.4 1957.0,1390.6 1957.2,1392.7 C1957.4,1394.9 1956.2,1398.1 1956.0,1399.2" stroke-width="3" />
<path d="M1962.0,1384.2 C1962.4,1385.2 1964.1,1388.4 1964.3,1390.6 C1964.5,1392.8 1963.4,1396.1 1963.2,1397.2" stroke-width="3" />
<path d="M1969.1,1382.0 C1969.5,1383.1 1971.3,1386.3 1971.5,1388.4 C1971.7,1390.6 1970.5,1394.1 1970.3,1395.2" stroke-width="3" />
<path d="M1975.0,1380.3 C1975.4,1381.3 1977.2,1384.5 1977.4,1386.7 C1977.6,1388.9 1976.4,1392.4 1976.2,1393.5" stroke-width="3" />
<path d="M1958.4,1347.1 L1964.3,1385.1" stroke-width="1.5" />
<path d="M1959.6,1522.9 L1969.1,1516.2" stroke-width="2" />
<path d="M1969.1,1516.2 L1989.3,1509.8 L1989.3,1600.0" stroke-width="3.3" />
<path d="M1988.8,1614.3 L1988.8,1645.2" stroke-width="3.3" />
<path d="M1988.8,1657.0 L1987.6,1720.0 L1985.7,1755.0" stroke-width="3.3" />
<path d="M1985.7,1755.0 L1805.0,1813.6" stroke-width="3" />
<path d="M1792.0,1817.9 L1772.0,1824.3" stroke-width="3" />
<path d="M1755.0,1829.9 L1500.0,1912.6" stroke-width="3" />
<path d="M1485.0,1917.5 L1455.0,1927.2" stroke-width="3" />
<path d="M1435.0,1933.7 L1210.0,2006.7" stroke-width="3" />
<path d="M1194.0,2011.9 L1170.0,2019.7" stroke-width="3" />
<path d="M1150.0,2026.2 L880.0,2113.8" stroke-width="3" />
<path d="M864.0,2119.0 L833.0,2129.0" stroke-width="3" />
<path d="M815.0,2134.9 L550.0,2220.8" stroke-width="3" />
<path d="M537.0,2225.1 L510.0,2233.8" stroke-width="3" />
<path d="M495.0,2238.7 L112.2,2362.9" stroke-width="3" />
<path d="M1982.0,1190.0 L1655.0,1290.9" stroke-width="3" />
<path d="M1632.0,1298.0 L1604.0,1306.6" stroke-width="3" />
<path d="M1582.0,1313.4 L1252.0,1415.2" stroke-width="3" />
<path d="M1221.0,1424.8 L1183.0,1436.5" stroke-width="3" />
<path d="M1152.0,1446.1 L830.0,1545.4" stroke-width="3" />
<path d="M799.0,1555.0 L762.0,1566.4" stroke-width="3" />
<path d="M731.0,1575.9 L403.0,1677.1" stroke-width="3" />
<path d="M372.0,1686.7 L337.0,1697.5" stroke-width="3" />
<path d="M307.0,1706.7 L108.6,1767.9" stroke-width="3" />
<path d="M1985.5,1053.0 L1982.0,1190.0" stroke-width="3.3" />
<path d="M788.1,1975.5 L785.3,1977.2 L782.3,1978.5 L779.2,1979.4 L776.1,1980.0 L772.8,1980.2 L769.5,1980.0 L766.1,1979.4 L762.6,1978.5 L759.2,1977.2 L755.7,1975.5 L752.3,1973.5 L748.8,1971.1 L745.4,1968.4 L742.1,1965.4 L738.8,1962.1 L735.7,1958.5 L732.6,1954.6 L729.7,1950.5 L726.9,1946.1 L724.2,1941.5 L721.7,1936.7 L719.4,1931.8 L717.3,1926.7 L715.3,1921.5 L713.6,1916.3 L712.1,1910.9 L710.8,1905.5 L709.7,1900.1 L708.9,1894.8 L708.3,1889.4 L707.9,1884.1 L707.8,1878.9 L707.9,1873.9 L708.3,1868.9 L708.9,1864.2 L709.8,1859.6 L710.8,1855.2 L712.1,1851.1 L713.7,1847.2 L715.4,1843.6 L717.3,1840.3 L719.5,1837.3 L721.8,1834.6 L724.3,1832.2 L727.0,1830.2 L729.8,1828.5 L732.7,1827.2 L735.8,1826.3 L738.9,1825.7 L742.2,1825.5" stroke-width="4.5" />
<path d="M742.2,1825.5 L745.5,1825.7 L748.9,1826.3 L752.4,1827.2 L755.8,1828.5 L759.3,1830.2 L762.8,1832.2 L766.2,1834.6 L769.6,1837.3 L772.9,1840.3 L776.2,1843.6" stroke-width="2.5" />
<path d="M801.4,1889.4 L802.9,1894.8 L804.2,1900.2 L805.3,1905.5 L806.1,1910.9 L806.7,1916.3 L807.1,1921.6 L807.2,1926.7 L807.1,1931.8 L806.7,1936.8 L806.1,1941.5 L805.3,1946.1 L804.2,1950.5 L802.9,1954.6 L801.4,1958.5 L799.6,1962.1 L797.7,1965.4 L795.5,1968.4 L793.2,1971.1 L790.7,1973.5 L788.1,1975.5" stroke-width="2.5" />
<path d="M727.0,1830.2 L832.6,1797.6" stroke-width="4" />
<path d="M832.6,1797.6 C835.9,1798.0 846.1,1797.0 852.8,1800.2 C859.6,1803.3 866.8,1809.2 873.1,1816.6 C879.5,1824.0 886.2,1834.4 890.9,1844.5 C895.5,1854.7 899.1,1866.9 901.0,1877.5 C902.9,1888.1 903.1,1898.6 902.3,1907.9 C901.4,1917.2 899.1,1926.7 895.9,1933.3 C892.8,1939.8 885.4,1944.9 883.3,1947.2" stroke-width="4" />
<path d="M792.0,1975.1 L883.3,1947.2" stroke-width="4" />
<path d="M794.5,1892.7 L795.8,1897.3 L796.9,1902.0 L797.9,1906.7 L798.6,1911.4 L799.1,1916.0 L799.5,1920.6 L799.6,1925.1 L799.5,1929.5 L799.2,1933.8 L798.7,1937.9 L798.0,1941.9 L797.2,1945.7 L796.1,1949.3 L794.8,1952.6 L793.3,1955.7 L791.7,1958.6 L789.9,1961.2 L787.9,1963.6 L785.8,1965.6 L783.5,1967.3 L781.2,1968.8 L778.7,1969.9 L776.1,1970.7 L773.4,1971.2 L770.6,1971.3 L767.7,1971.1 L764.8,1970.6 L761.9,1969.8 L759.0,1968.6 L756.0,1967.2 L753.0,1965.4 L750.1,1963.3 L747.2,1961.0 L744.3,1958.3 L741.5,1955.4 L738.8,1952.3 L736.2,1948.9 L733.7,1945.3 L731.3,1941.5 L729.0,1937.5 L726.8,1933.3 L724.8,1929.0 L723.0,1924.6 L721.3,1920.1 L719.8,1915.5 L718.5,1910.9 L717.3,1906.2 L716.4,1901.5 L715.7,1896.8 L715.1,1892.2 L714.8,1887.6 L714.7,1883.1 L714.7,1878.7 L715.0,1874.4 L715.5,1870.3 L716.2,1866.3 L717.1,1862.5 L718.2,1859.0 L719.5,1855.6 L720.9,1852.5 L722.6,1849.6 L724.4,1847.0 L726.3,1844.7 L728.5,1842.6 L730.7,1840.9 L733.1,1839.5 L735.6,1838.3 L738.2,1837.5 L740.9,1837.1 L743.7,1836.9 L746.5,1837.1 L749.4,1837.6 L752.3,1838.4 L755.3,1839.6 L758.3,1841.1 L761.2,1842.8 L764.2,1844.9 L767.1,1847.3 L769.9,1849.9 L772.7,1852.8 L775.4,1856.0 L778.1,1859.3 L780.6,1862.9 L783.0,1866.8 L785.3,1870.7 L787.4,1874.9 L789.4,1879.2 L791.3,1883.6 L793.0,1888.1 L794.5,1892.7Z" stroke-width="4" />
<clipPath id="cl1"><path d="M794.5,1892.7 L796.4,1899.7 L797.9,1906.7 L798.9,1913.7 L799.5,1920.6 L799.6,1927.3 L799.2,1933.8 L798.4,1939.9 L797.2,1945.7 L795.5,1951.0 L793.3,1955.7 L790.8,1960.0 L787.9,1963.6 L784.7,1966.5 L781.2,1968.8 L777.4,1970.3 L773.4,1971.2 L769.2,1971.3 L764.8,1970.6 L760.4,1969.2 L756.0,1967.2 L751.6,1964.4 L747.2,1961.0 L742.9,1956.9 L738.8,1952.3 L734.9,1947.1 L731.3,1941.5 L727.9,1935.4 L724.8,1929.0 L722.1,1922.4 L719.8,1915.5 L717.9,1908.5 L716.4,1901.5 L715.4,1894.5 L714.8,1887.6 L714.7,1880.9 L715.0,1874.4 L715.8,1868.3 L717.1,1862.5 L718.8,1857.3 L720.9,1852.5 L723.4,1848.3 L726.3,1844.7 L729.6,1841.7 L733.1,1839.5 L736.9,1837.9 L740.9,1837.1 L745.1,1837.0 L749.4,1837.6 L753.8,1839.0 L758.3,1841.1 L762.7,1843.8 L767.1,1847.3 L771.3,1851.3 L775.4,1856.0 L779.3,1861.1 L783.0,1866.8 L786.4,1872.8 L789.4,1879.2 L792.1,1885.8 L794.5,1892.7Z"/></clipPath>
<path d="M782.1,1970.1 L779.3,1970.3 L776.4,1970.1 L773.5,1969.7 L770.5,1968.9 L767.5,1967.7 L764.5,1966.3 L761.5,1964.5 L758.5,1962.4 L755.6,1960.0 L752.6,1957.3 L749.8,1954.3 L747.0,1951.1 L744.3,1947.6 L741.7,1943.9 L739.2,1940.0 L736.9,1935.8 L734.7,1931.6 L732.6,1927.1 L730.7,1922.6 L729.0,1917.9 L727.4,1913.2 L726.1,1908.4 L724.9,1903.6 L723.9,1898.7 L723.2,1893.9 L722.6,1889.1 L722.3,1884.4 L722.1,1879.8 L722.2,1875.2 L722.5,1870.9 L723.0,1866.6 L723.7,1862.6 L724.6,1858.7 L725.7,1855.0 L727.0,1851.6 L728.5,1848.4 L730.2,1845.5 L732.0,1842.9 L734.0,1840.6 L736.2,1838.6 L738.5,1836.9 L741.0,1835.5" stroke-width="3.8" clip-path="url(#cl1)"/>
<path d="M790.7,1967.4 L787.9,1967.6 L785.0,1967.5 L782.1,1967.0 L779.1,1966.2 L776.1,1965.1 L773.1,1963.6 L770.1,1961.8 L767.1,1959.7 L764.2,1957.3 L761.2,1954.6 L758.4,1951.7 L755.6,1948.4 L752.9,1945.0 L750.3,1941.2 L747.8,1937.3 L745.5,1933.2 L743.3,1928.9 L741.2,1924.5 L739.3,1920.0 L737.6,1915.3 L736.0,1910.6 L734.7,1905.8 L733.5,1900.9 L732.5,1896.1 L731.8,1891.3 L731.2,1886.5 L730.9,1881.8 L730.7,1877.1 L730.8,1872.6 L731.1,1868.2 L731.6,1864.0 L732.3,1859.9 L733.2,1856.1 L734.3,1852.4 L735.6,1849.0 L737.1,1845.8 L738.8,1842.9 L740.6,1840.3 L742.6,1838.0 L744.8,1835.9 L747.1,1834.2 L749.6,1832.9" stroke-width="3.8" clip-path="url(#cl1)"/>
<path d="M799.3,1964.8 L796.5,1965.0 L793.6,1964.9 L790.7,1964.4 L787.7,1963.6 L784.8,1962.5 L781.7,1961.0 L778.7,1959.2 L775.7,1957.1 L772.8,1954.7 L769.9,1952.0 L767.0,1949.0 L764.2,1945.8 L761.5,1942.3 L758.9,1938.6 L756.5,1934.7 L754.1,1930.6 L751.9,1926.3 L749.8,1921.9 L747.9,1917.3 L746.2,1912.7 L744.7,1907.9 L743.3,1903.1 L742.1,1898.3 L741.1,1893.5 L740.4,1888.6 L739.8,1883.9 L739.5,1879.1 L739.3,1874.5 L739.4,1870.0 L739.7,1865.6 L740.2,1861.4 L740.9,1857.3 L741.8,1853.4 L742.9,1849.8 L744.2,1846.4 L745.7,1843.2 L747.4,1840.3 L749.2,1837.7 L751.3,1835.3 L753.4,1833.3 L755.7,1831.6 L758.2,1830.2" stroke-width="3.8" clip-path="url(#cl1)"/>
<path d="M807.9,1962.2 L805.1,1962.4 L802.3,1962.2 L799.3,1961.8 L796.4,1961.0 L793.4,1959.8 L790.3,1958.4 L787.3,1956.6 L784.3,1954.5 L781.4,1952.1 L778.5,1949.4 L775.6,1946.4 L772.8,1943.2 L770.1,1939.7 L767.5,1936.0 L765.1,1932.1 L762.7,1928.0 L760.5,1923.7 L758.4,1919.2 L756.5,1914.7 L754.8,1910.0 L753.3,1905.3 L751.9,1900.5 L750.7,1895.7 L749.8,1890.8 L749.0,1886.0 L748.4,1881.2 L748.1,1876.5 L747.9,1871.9 L748.0,1867.3 L748.3,1863.0 L748.8,1858.7 L749.5,1854.7 L750.4,1850.8 L751.5,1847.1 L752.8,1843.7 L754.3,1840.6 L756.0,1837.7 L757.8,1835.0 L759.9,1832.7 L762.0,1830.7 L764.3,1829.0 L766.8,1827.6" stroke-width="3.8" clip-path="url(#cl1)"/>
<path d="M816.5,1959.5 L813.7,1959.7 L810.9,1959.6 L807.9,1959.2 L805.0,1958.3 L802.0,1957.2 L799.0,1955.7 L795.9,1953.9 L792.9,1951.8 L790.0,1949.4 L787.1,1946.7 L784.2,1943.8 L781.4,1940.5 L778.7,1937.1 L776.1,1933.3 L773.7,1929.4 L771.3,1925.3 L769.1,1921.0 L767.0,1916.6 L765.1,1912.1 L763.4,1907.4 L761.9,1902.7 L760.5,1897.9 L759.3,1893.0 L758.4,1888.2 L757.6,1883.4 L757.0,1878.6 L756.7,1873.9 L756.5,1869.2 L756.6,1864.7 L756.9,1860.3 L757.4,1856.1 L758.1,1852.0 L759.0,1848.2 L760.1,1844.5 L761.4,1841.1 L762.9,1837.9 L764.6,1835.0 L766.5,1832.4 L768.5,1830.1 L770.6,1828.1 L772.9,1826.3 L775.4,1825.0" stroke-width="3.8" clip-path="url(#cl1)"/>
<path d="M825.1,1956.9 L822.3,1957.1 L819.5,1957.0 L816.5,1956.5 L813.6,1955.7 L810.6,1954.6 L807.6,1953.1 L804.5,1951.3 L801.6,1949.2 L798.6,1946.8 L795.7,1944.1 L792.8,1941.1 L790.0,1937.9 L787.3,1934.4 L784.7,1930.7 L782.3,1926.8 L779.9,1922.7 L777.7,1918.4 L775.7,1914.0 L773.8,1909.4 L772.0,1904.8 L770.5,1900.0 L769.1,1895.2 L767.9,1890.4 L767.0,1885.6 L766.2,1880.7 L765.6,1876.0 L765.3,1871.2 L765.1,1866.6 L765.2,1862.1 L765.5,1857.7 L766.0,1853.5 L766.7,1849.4 L767.6,1845.5 L768.7,1841.9 L770.0,1838.5 L771.5,1835.3 L773.2,1832.4 L775.1,1829.8 L777.1,1827.4 L779.2,1825.4 L781.5,1823.7 L784.0,1822.3" stroke-width="3.8" clip-path="url(#cl1)"/>
<path d="M833.7,1954.3 L830.9,1954.5 L828.1,1954.4 L825.1,1953.9 L822.2,1953.1 L819.2,1951.9 L816.2,1950.5 L813.2,1948.7 L810.2,1946.6 L807.2,1944.2 L804.3,1941.5 L801.4,1938.5 L798.6,1935.3 L795.9,1931.8 L793.4,1928.1 L790.9,1924.2 L788.5,1920.1 L786.3,1915.8 L784.3,1911.4 L782.4,1906.8 L780.6,1902.1 L779.1,1897.4 L777.7,1892.6 L776.5,1887.8 L775.6,1882.9 L774.8,1878.1 L774.2,1873.3 L773.9,1868.6 L773.8,1864.0 L773.8,1859.5 L774.1,1855.1 L774.6,1850.8 L775.3,1846.8 L776.2,1842.9 L777.3,1839.2 L778.7,1835.8 L780.1,1832.7 L781.8,1829.8 L783.7,1827.1 L785.7,1824.8 L787.8,1822.8 L790.2,1821.1 L792.6,1819.7" stroke-width="3.8" clip-path="url(#cl1)"/>
<path d="M842.3,1951.6 L839.5,1951.8 L836.7,1951.7 L833.8,1951.3 L830.8,1950.5 L827.8,1949.3 L824.8,1947.8 L821.8,1946.1 L818.8,1944.0 L815.8,1941.5 L812.9,1938.9 L810.0,1935.9 L807.2,1932.6 L804.6,1929.2 L802.0,1925.5 L799.5,1921.5 L797.1,1917.4 L794.9,1913.1 L792.9,1908.7 L791.0,1904.2 L789.2,1899.5 L787.7,1894.8 L786.3,1890.0 L785.2,1885.1 L784.2,1880.3 L783.4,1875.5 L782.9,1870.7 L782.5,1866.0 L782.4,1861.3 L782.4,1856.8 L782.7,1852.4 L783.2,1848.2 L783.9,1844.1 L784.8,1840.3 L786.0,1836.6 L787.3,1833.2 L788.8,1830.0 L790.4,1827.1 L792.3,1824.5 L794.3,1822.2 L796.5,1820.2 L798.8,1818.4 L801.2,1817.1" stroke-width="3.8" clip-path="url(#cl1)"/>
<path d="M702.0,1920.1 L784.4,1895.7" stroke-width="3" />
<path d="M803.4,1973.8 L795.0,2015.7" stroke-width="4" />
<circle cx="795.0" cy="2015.7" r="2" stroke-width="3" fill="#000"/>
<path d="M987.7,1917.0 L984.8,1918.7 L981.7,1920.0 L978.5,1921.0 L975.2,1921.6 L971.7,1921.9 L968.3,1921.7 L964.7,1921.3 L961.2,1920.4 L957.6,1919.2 L954.0,1917.6 L950.5,1915.7 L946.9,1913.5 L943.4,1910.9 L940.0,1908.0 L936.7,1904.9 L933.5,1901.4 L930.4,1897.6 L927.4,1893.7 L924.6,1889.4 L921.9,1885.0 L919.4,1880.4 L917.1,1875.6 L915.0,1870.7 L913.1,1865.7 L911.4,1860.5 L909.9,1855.3 L908.7,1850.1 L907.7,1844.8 L906.9,1839.5 L906.4,1834.3 L906.1,1829.2 L906.1,1824.1 L906.4,1819.1 L906.8,1814.3 L907.6,1809.6 L908.6,1805.1 L909.8,1800.8 L911.2,1796.7 L912.9,1792.9 L914.8,1789.3 L916.9,1786.0 L919.2,1783.0 L921.7,1780.3 L924.3,1777.9 L927.1,1775.9 L930.1,1774.2 L933.2,1772.9 L936.4,1771.9 L939.7,1771.3 L943.1,1771.0" stroke-width="4.5" />
<path d="M943.1,1771.0 L946.7,1771.1 L950.4,1771.7 L954.1,1772.6 L957.9,1773.9 L961.6,1775.6 L965.3,1777.6 L969.0,1780.1 L972.6,1782.9 L976.1,1786.0 L979.5,1789.4 L982.8,1793.2 L986.0,1797.2" stroke-width="2.5" />
<path d="M1003.5,1832.3 L1005.0,1837.5 L1006.2,1842.8 L1007.2,1848.1 L1008.0,1853.3 L1008.5,1858.5 L1008.7,1863.7 L1008.8,1868.8 L1008.5,1873.8 L1008.0,1878.6 L1007.3,1883.3 L1006.3,1887.8 L1005.1,1892.1 L1003.7,1896.2 L1002.0,1900.0 L1000.1,1903.6 L998.0,1906.9 L995.7,1909.9 L993.2,1912.6 L990.6,1914.9 L987.7,1917.0" stroke-width="2.5" />
<path d="M928.9,1769.7 L979.6,1754.5" stroke-width="4" />
<path d="M979.6,1754.5 C983.8,1755.6 997.4,1756.0 1005.0,1760.9 C1012.6,1765.7 1019.3,1774.8 1025.3,1783.7 C1031.2,1792.5 1036.9,1803.5 1040.5,1814.1 C1044.1,1824.7 1046.4,1836.5 1046.8,1847.1 C1047.2,1857.6 1044.9,1869.9 1043.0,1877.5 C1041.1,1885.1 1038.2,1889.4 1035.4,1892.7 C1032.7,1896.0 1028.0,1896.5 1026.5,1897.3" stroke-width="4" />
<path d="M997.4,1909.2 L1012.6,1905.4" stroke-width="2" />
<path d="M996.3,1833.3 L997.6,1837.9 L998.7,1842.5 L999.6,1847.1 L1000.3,1851.8 L1000.8,1856.4 L1001.1,1860.9 L1001.2,1865.4 L1001.0,1869.8 L1000.7,1874.0 L1000.1,1878.1 L999.3,1882.1 L998.3,1885.9 L997.2,1889.4 L995.8,1892.8 L994.2,1895.9 L992.5,1898.8 L990.6,1901.4 L988.5,1903.8 L986.3,1905.8 L983.9,1907.6 L981.4,1909.0 L978.8,1910.2 L976.1,1911.0 L973.3,1911.5 L970.4,1911.7 L967.5,1911.6 L964.5,1911.1 L961.4,1910.3 L958.4,1909.2 L955.3,1907.8 L952.3,1906.1 L949.3,1904.1 L946.3,1901.8 L943.4,1899.2 L940.5,1896.4 L937.7,1893.3 L935.1,1889.9 L932.5,1886.4 L930.1,1882.7 L927.7,1878.7 L925.6,1874.6 L923.6,1870.4 L921.7,1866.0 L920.0,1861.6 L918.5,1857.0 L917.2,1852.5 L916.1,1847.8 L915.2,1843.2 L914.5,1838.5 L914.0,1833.9 L913.8,1829.4 L913.7,1824.9 L913.8,1820.5 L914.2,1816.3 L914.8,1812.2 L915.6,1808.2 L916.5,1804.4 L917.7,1800.9 L919.1,1797.5 L920.7,1794.4 L922.4,1791.5 L924.3,1788.9 L926.4,1786.6 L928.6,1784.5 L931.0,1782.7 L933.5,1781.3 L936.1,1780.1 L938.8,1779.3 L941.6,1778.8 L944.5,1778.6 L947.4,1778.7 L950.4,1779.2 L953.4,1780.0 L956.5,1781.1 L959.5,1782.5 L962.6,1784.2 L965.6,1786.2 L968.6,1788.5 L971.5,1791.1 L974.4,1794.0 L977.1,1797.0 L979.8,1800.4 L982.4,1803.9 L984.8,1807.7 L987.1,1811.6 L989.3,1815.7 L991.3,1819.9 L993.2,1824.3 L994.8,1828.7 L996.3,1833.3Z" stroke-width="4" />
<clipPath id="cl2"><path d="M996.3,1833.3 L998.2,1840.2 L999.6,1847.1 L1000.6,1854.1 L1001.1,1860.9 L1001.1,1867.6 L1000.7,1874.0 L999.7,1880.1 L998.3,1885.9 L996.5,1891.2 L994.2,1895.9 L991.5,1900.2 L988.5,1903.8 L985.1,1906.7 L981.4,1909.0 L977.5,1910.6 L973.3,1911.5 L968.9,1911.7 L964.5,1911.1 L959.9,1909.8 L955.3,1907.8 L950.8,1905.1 L946.3,1901.8 L941.9,1897.8 L937.7,1893.3 L933.8,1888.2 L930.1,1882.7 L926.6,1876.7 L923.6,1870.4 L920.9,1863.8 L918.5,1857.0 L916.7,1850.1 L915.2,1843.2 L914.3,1836.2 L913.8,1829.4 L913.7,1822.7 L914.2,1816.3 L915.1,1810.2 L916.5,1804.4 L918.4,1799.2 L920.7,1794.4 L923.3,1790.2 L926.4,1786.6 L929.8,1783.6 L933.5,1781.3 L937.4,1779.7 L941.6,1778.8 L945.9,1778.6 L950.4,1779.2 L955.0,1780.5 L959.5,1782.5 L964.1,1785.2 L968.6,1788.5 L972.9,1792.5 L977.1,1797.0 L981.1,1802.1 L984.8,1807.7 L988.2,1813.6 L991.3,1819.9 L994.0,1826.5 L996.3,1833.3Z"/></clipPath>
<path d="M982.0,1910.4 L979.1,1910.7 L976.2,1910.6 L973.1,1910.2 L970.1,1909.4 L967.0,1908.3 L963.9,1906.9 L960.8,1905.2 L957.7,1903.1 L954.7,1900.8 L951.7,1898.1 L948.8,1895.2 L945.9,1892.1 L943.2,1888.6 L940.6,1885.0 L938.0,1881.1 L935.7,1877.1 L933.4,1872.9 L931.4,1868.5 L929.5,1864.0 L927.7,1859.4 L926.2,1854.7 L924.9,1850.0 L923.7,1845.2 L922.8,1840.4 L922.0,1835.6 L921.5,1830.9 L921.2,1826.2 L921.2,1821.6 L921.3,1817.1 L921.7,1812.7 L922.3,1808.5 L923.0,1804.5 L924.0,1800.6 L925.3,1797.0 L926.7,1793.5 L928.3,1790.4 L930.0,1787.5 L932.0,1784.8 L934.1,1782.5 L936.4,1780.5 L938.8,1778.7 L941.4,1777.3" stroke-width="3.8" clip-path="url(#cl2)"/>
<path d="M990.6,1907.8 L987.7,1908.0 L984.8,1907.9 L981.7,1907.5 L978.7,1906.8 L975.6,1905.7 L972.5,1904.3 L969.4,1902.5 L966.3,1900.5 L963.3,1898.1 L960.3,1895.5 L957.4,1892.6 L954.5,1889.4 L951.8,1886.0 L949.2,1882.4 L946.6,1878.5 L944.3,1874.5 L942.0,1870.2 L940.0,1865.9 L938.1,1861.4 L936.3,1856.8 L934.8,1852.1 L933.5,1847.3 L932.3,1842.6 L931.4,1837.8 L930.7,1833.0 L930.1,1828.2 L929.8,1823.6 L929.8,1819.0 L929.9,1814.5 L930.3,1810.1 L930.9,1805.9 L931.6,1801.8 L932.7,1798.0 L933.9,1794.3 L935.3,1790.9 L936.9,1787.7 L938.6,1784.8 L940.6,1782.2 L942.7,1779.9 L945.0,1777.8 L947.4,1776.1 L950.0,1774.7" stroke-width="3.8" clip-path="url(#cl2)"/>
<path d="M999.3,1905.1 L996.4,1905.4 L993.4,1905.3 L990.4,1904.9 L987.3,1904.1 L984.2,1903.0 L981.1,1901.6 L978.0,1899.9 L974.9,1897.9 L971.9,1895.5 L968.9,1892.9 L966.0,1890.0 L963.1,1886.8 L960.4,1883.4 L957.8,1879.7 L955.3,1875.9 L952.9,1871.8 L950.7,1867.6 L948.6,1863.2 L946.7,1858.7 L945.0,1854.1 L943.4,1849.4 L942.1,1844.7 L940.9,1839.9 L940.0,1835.1 L939.3,1830.4 L938.8,1825.6 L938.5,1820.9 L938.4,1816.3 L938.5,1811.8 L938.9,1807.5 L939.5,1803.2 L940.3,1799.2 L941.3,1795.3 L942.5,1791.7 L943.9,1788.3 L945.5,1785.1 L947.2,1782.2 L949.2,1779.6 L951.3,1777.2 L953.6,1775.2 L956.0,1773.5 L958.6,1772.1" stroke-width="3.8" clip-path="url(#cl2)"/>
<path d="M1007.9,1902.5 L1005.0,1902.8 L1002.0,1902.7 L999.0,1902.3 L995.9,1901.5 L992.8,1900.4 L989.7,1899.0 L986.6,1897.3 L983.5,1895.2 L980.5,1892.9 L977.5,1890.2 L974.6,1887.3 L971.7,1884.2 L969.0,1880.7 L966.4,1877.1 L963.9,1873.2 L961.5,1869.2 L959.3,1865.0 L957.2,1860.6 L955.3,1856.1 L953.6,1851.5 L952.0,1846.8 L950.7,1842.1 L949.5,1837.3 L948.6,1832.5 L947.9,1827.7 L947.4,1823.0 L947.1,1818.3 L947.0,1813.7 L947.1,1809.2 L947.5,1804.8 L948.1,1800.6 L948.9,1796.6 L949.9,1792.7 L951.1,1789.1 L952.5,1785.7 L954.1,1782.5 L955.9,1779.6 L957.8,1776.9 L959.9,1774.6 L962.2,1772.6 L964.6,1770.8 L967.2,1769.4" stroke-width="3.8" clip-path="url(#cl2)"/>
<path d="M1016.5,1899.9 L1013.6,1900.1 L1010.6,1900.1 L1007.6,1899.6 L1004.5,1898.9 L1001.4,1897.8 L998.3,1896.4 L995.2,1894.6 L992.1,1892.6 L989.1,1890.2 L986.1,1887.6 L983.2,1884.7 L980.4,1881.5 L977.6,1878.1 L975.0,1874.5 L972.5,1870.6 L970.1,1866.6 L967.9,1862.3 L965.8,1858.0 L963.9,1853.5 L962.2,1848.9 L960.6,1844.2 L959.3,1839.4 L958.1,1834.7 L957.2,1829.9 L956.5,1825.1 L956.0,1820.3 L955.7,1815.7 L955.6,1811.1 L955.7,1806.6 L956.1,1802.2 L956.7,1798.0 L957.5,1793.9 L958.5,1790.1 L959.7,1786.4 L961.1,1783.0 L962.7,1779.9 L964.5,1776.9 L966.4,1774.3 L968.5,1772.0 L970.8,1769.9 L973.2,1768.2 L975.8,1766.8" stroke-width="3.8" clip-path="url(#cl2)"/>
<path d="M1025.1,1897.2 L1022.2,1897.5 L1019.2,1897.4 L1016.2,1897.0 L1013.1,1896.2 L1010.0,1895.2 L1006.9,1893.7 L1003.8,1892.0 L1000.7,1890.0 L997.7,1887.6 L994.7,1885.0 L991.8,1882.1 L989.0,1878.9 L986.2,1875.5 L983.6,1871.8 L981.1,1868.0 L978.7,1863.9 L976.5,1859.7 L974.4,1855.3 L972.5,1850.8 L970.8,1846.2 L969.2,1841.6 L967.9,1836.8 L966.7,1832.0 L965.8,1827.2 L965.1,1822.5 L964.6,1817.7 L964.3,1813.0 L964.2,1808.4 L964.3,1803.9 L964.7,1799.6 L965.3,1795.3 L966.1,1791.3 L967.1,1787.4 L968.3,1783.8 L969.7,1780.4 L971.3,1777.2 L973.1,1774.3 L975.0,1771.7 L977.1,1769.3 L979.4,1767.3 L981.8,1765.6 L984.4,1764.2" stroke-width="3.8" clip-path="url(#cl2)"/>
<path d="M899.8,1859.2 L989.8,1832.4" stroke-width="3" />
<path d="M1041.7,1815.4 L1060.0,1810.3 L1066.4,1808.9" stroke-width="3" />
<path d="M978.9,1710.6 L970.0,1757.1" stroke-width="3" />
<path d="M683.0,1780.6 L759.0,1758.8" stroke-width="4" />
<path d="M688.0,1804.0 L762.8,1782.4" stroke-width="4" />
<ellipse cx="679.9" cy="1792.5" rx="7" ry="11.5" transform="rotate(-17 679.9 1792.5)" stroke-width="4"/>
<path d="M675.4,1787.5 L684.2,1797.6" stroke-width="3" />
<path d="M693.1,1775.2 C693.9,1776.9 697.2,1782.0 697.7,1785.8 C698.2,1789.6 696.4,1795.9 696.1,1798.0" stroke-width="3.5" />
<path d="M702.0,1772.6 C702.7,1774.4 706.0,1779.4 706.5,1783.2 C707.1,1787.0 705.3,1793.4 705.0,1795.4" stroke-width="3.5" />
<path d="M710.9,1770.0 C711.6,1771.8 714.9,1776.9 715.4,1780.7 C715.9,1784.5 714.1,1790.8 713.9,1792.8" stroke-width="3.5" />
<path d="M719.7,1767.4 C720.5,1769.2 723.8,1774.3 724.3,1778.1 C724.8,1781.9 723.0,1788.2 722.8,1790.3" stroke-width="3.5" />
<path d="M751.4,1757.8 C753.1,1756.6 758.7,1749.6 761.6,1750.7 C764.4,1751.9 767.5,1759.6 768.7,1764.7 C769.8,1769.7 769.6,1777.5 768.7,1781.1 C767.7,1784.8 763.8,1785.8 762.8,1786.7" stroke-width="4" />
<path d="M761.6,1750.7 C762.8,1750.1 766.2,1746.9 769.2,1746.9 C772.1,1746.9 776.6,1747.5 779.3,1750.7 C782.1,1753.9 785.0,1761.3 785.7,1765.9 C786.3,1770.6 785.9,1775.6 783.1,1778.6 C780.4,1781.6 771.5,1783.3 769.2,1784.2" stroke-width="4.5" />
<path d="M769.2,1748.2 C770.1,1750.7 774.1,1757.8 774.7,1763.4 C775.4,1769.0 773.3,1778.6 773.0,1781.6" stroke-width="3" />
<path d="M748.4,1720.3 L737.5,1760.9" stroke-width="3" />
<path d="M650.0,1804.0 L669.0,1798.9" stroke-width="2" />
<path d="M1200.6,1747.4 L1202.4,1754.0 L1204.0,1760.6 L1205.2,1767.3 L1206.2,1773.9 L1206.8,1780.5 L1207.1,1787.0 L1207.0,1793.5 L1206.7,1799.7 L1206.0,1805.9 L1205.0,1811.8 L1203.7,1817.5 L1202.1,1822.9 L1200.2,1828.1 L1198.1,1833.0 L1195.6,1837.5 L1192.9,1841.7 L1189.9,1845.5 L1186.7,1848.9 L1183.2,1851.9 L1179.6,1854.5 L1175.7,1856.7 L1171.7,1858.4 L1167.6,1859.7 L1163.3,1860.5 L1158.9,1860.9 L1154.4,1860.7 L1149.9,1860.2 L1145.3,1859.1 L1140.7,1857.6 L1136.1,1855.7 L1131.5,1853.3 L1127.0,1850.5 L1122.5,1847.3 L1118.1,1843.7 L1113.9,1839.7 L1109.7,1835.3 L1105.8,1830.6 L1102.0,1825.6 L1098.3,1820.3 L1094.9,1814.7 L1091.8,1808.9 L1088.8,1802.9 L1086.1,1796.7 L1083.7,1790.3 L1081.6,1783.8 L1079.7,1777.3 L1078.2,1770.6 L1076.9,1764.0 L1076.0,1757.3 L1075.4,1750.8 L1075.1,1744.2 L1075.1,1737.8 L1075.5,1731.5 L1076.1,1725.4 L1077.1,1719.5 L1078.4,1713.8 L1080.0,1708.3 L1081.9,1703.2 L1084.1,1698.3 L1086.6,1693.8 L1089.3,1689.6 L1092.3,1685.8 L1095.5,1682.3 L1099.0,1679.3 L1102.6,1676.7 L1106.4,1674.6 L1110.4,1672.8 L1114.6,1671.6 L1118.9,1670.8 L1123.3,1670.4 L1127.7,1670.5 L1132.3,1671.1 L1136.9,1672.1 L1141.5,1673.6 L1146.1,1675.6 L1150.7,1678.0 L1155.2,1680.8 L1159.7,1684.0 L1164.0,1687.6 L1168.3,1691.6 L1172.4,1696.0 L1176.4,1700.7 L1180.2,1705.7 L1183.8,1711.0 L1187.2,1716.6 L1190.4,1722.4 L1193.3,1728.4 L1196.0,1734.6 L1198.5,1741.0 L1200.6,1747.4Z" stroke-width="4" />
<path d="M1114.5,1671.6 L1118.8,1670.6 L1123.2,1670.0 L1127.7,1669.9 L1132.2,1670.3 L1136.9,1671.1 L1141.5,1672.4 L1146.2,1674.2 L1150.8,1676.4 L1155.4,1679.1 L1160.0,1682.2 L1164.4,1685.7 L1168.8,1689.6 L1173.0,1693.9 L1177.1,1698.6 L1181.0,1703.5 L1184.7,1708.8 L1188.2,1714.4 L1191.5,1720.2 L1194.6,1726.2 L1197.4,1732.5 L1199.9,1738.9 L1202.1,1745.4 L1204.0,1752.0 L1205.7,1758.7 L1207.0,1765.4 L1208.0,1772.1 L1208.7,1778.8 L1209.0,1785.4 L1209.1,1792.0 L1208.8,1798.3 L1208.1,1804.6 L1207.2,1810.6 L1205.9,1816.4 L1204.3,1821.9 L1202.4,1827.2 L1200.2,1832.1 L1197.7,1836.7 L1195.0,1841.0 L1192.0,1844.9 L1188.7,1848.3 L1185.3,1851.4 L1181.6,1854.0" stroke-width="3" />
<path d="M1178.6,1755.3 L1179.9,1760.0 L1181.0,1764.6 L1181.9,1769.3 L1182.6,1774.0 L1183.0,1778.6 L1183.3,1783.2 L1183.3,1787.7 L1183.1,1792.2 L1182.6,1796.5 L1182.0,1800.6 L1181.1,1804.6 L1180.1,1808.5 L1178.8,1812.1 L1177.3,1815.5 L1175.7,1818.7 L1173.8,1821.6 L1171.8,1824.3 L1169.6,1826.6 L1167.3,1828.8 L1164.8,1830.6 L1162.1,1832.1 L1159.4,1833.3 L1156.6,1834.1 L1153.6,1834.7 L1150.6,1834.9 L1147.5,1834.8 L1144.4,1834.3 L1141.3,1833.6 L1138.1,1832.5 L1134.9,1831.1 L1131.8,1829.4 L1128.6,1827.4 L1125.6,1825.1 L1122.5,1822.6 L1119.6,1819.7 L1116.7,1816.6 L1114.0,1813.3 L1111.3,1809.7 L1108.8,1806.0 L1106.4,1802.0 L1104.2,1797.9 L1102.2,1793.7 L1100.3,1789.3 L1098.6,1784.8 L1097.1,1780.2 L1095.8,1775.6 L1094.7,1771.0 L1093.8,1766.3 L1093.1,1761.6 L1092.7,1756.9 L1092.4,1752.4 L1092.4,1747.8 L1092.6,1743.4 L1093.0,1739.1 L1093.7,1735.0 L1094.5,1731.0 L1095.6,1727.1 L1096.9,1723.5 L1098.3,1720.1 L1100.0,1716.9 L1101.9,1714.0 L1103.9,1711.3 L1106.1,1708.9 L1108.4,1706.8 L1110.9,1705.0 L1113.5,1703.5 L1116.3,1702.3 L1119.1,1701.5 L1122.0,1700.9 L1125.1,1700.7 L1128.1,1700.8 L1131.3,1701.2 L1134.4,1702.0 L1137.6,1703.1 L1140.7,1704.5 L1143.9,1706.2 L1147.0,1708.2 L1150.1,1710.5 L1153.1,1713.0 L1156.1,1715.9 L1158.9,1719.0 L1161.7,1722.3 L1164.3,1725.8 L1166.9,1729.6 L1169.2,1733.5 L1171.4,1737.6 L1173.5,1741.9 L1175.4,1746.3 L1177.1,1750.8 L1178.6,1755.3Z" stroke-width="3.5" />
<path d="M1137.6,1828.2 L1134.6,1826.5 L1131.7,1824.6 L1128.8,1822.4 L1126.0,1819.9 L1123.2,1817.2 L1120.5,1814.2 L1117.9,1811.0 L1115.4,1807.6 L1113.1,1804.0 L1110.8,1800.2 L1108.7,1796.3 L1106.8,1792.2 L1105.0,1788.0 L1103.4,1783.7 L1102.0,1779.4 L1100.7,1774.9 L1099.6,1770.5 L1098.8,1766.0 L1098.1,1761.5 L1097.7,1757.1 L1097.4,1752.7 L1097.3,1748.4 L1097.5,1744.2 L1097.9,1740.1 L1098.4,1736.1 L1099.2,1732.3 L1100.2,1728.7 L1101.3,1725.2 L1102.7,1722.0 L1104.2,1719.0 L1105.9,1716.2 L1107.8,1713.7 L1109.8,1711.4 L1112.0,1709.4 L1114.3,1707.7 L1116.7,1706.3 L1119.2,1705.2 L1121.9,1704.4 L1124.6,1703.9 L1127.4,1703.7 L1130.3,1703.8 L1133.2,1704.2 L1136.1,1705.0 L1139.1,1706.0 L1142.1,1707.4" stroke-width="2" />
<path d="M1131.3,1673.4 L1131.3,1700.7" stroke-width="5" />
<path d="M1140.0,1830.6 L1140.0,1858.7" stroke-width="5" />
<circle cx="1115.3" cy="1687.7" r="3.2" stroke-width="2.5" fill="none"/>
<circle cx="1150.0" cy="1696.4" r="3.2" stroke-width="2.5" fill="none"/>
<circle cx="1171.6" cy="1723.6" r="3.2" stroke-width="2.5" fill="none"/>
<circle cx="1188.9" cy="1758.3" r="3.2" stroke-width="2.5" fill="none"/>
<circle cx="1191.1" cy="1798.1" r="3.2" stroke-width="2.5" fill="none"/>
<circle cx="1183.3" cy="1834.9" r="3.2" stroke-width="2.5" fill="none"/>
<circle cx="1155.2" cy="1849.2" r="3.2" stroke-width="2.5" fill="none"/>
<circle cx="1120.5" cy="1832.7" r="3.2" stroke-width="2.5" fill="none"/>
<circle cx="1101.0" cy="1806.8" r="3.2" stroke-width="2.5" fill="none"/>
<circle cx="1090.2" cy="1771.3" r="3.2" stroke-width="2.5" fill="none"/>
<circle cx="1085.0" cy="1732.3" r="3.2" stroke-width="2.5" fill="none"/>
<circle cx="1093.7" cy="1702.0" r="3.2" stroke-width="2.5" fill="none"/>
<path d="M1096.7,1629.3 L1102.3,1674.7" stroke-width="1.5" />
<path d="M1167.3,1624.1 L1157.3,1681.2" stroke-width="1.5" />
<path d="M1105.4,1788.6 L1176.8,1767.8" stroke-width="1.5" />
<path d="M1215.8,1755.7 L1298.0,1732.3" stroke-width="1.5" />
<path d="M1306.7,1728.8 L1339.1,1721.0" stroke-width="1.5" />
<path d="M888.1,2026.7 L882.4,2053.5" stroke-width="2.8" />
<path d="M880.3,2062.2 L875.9,2079.5 L731.3,2123.6" stroke-width="2.8" />
<path d="M108.6,1768.4 L108.6,1927.9" stroke-width="3.3" />
<path d="M108.6,1944.5 L108.6,1965.2" stroke-width="3.3" />
<path d="M108.6,1981.8 L107.4,2104.0 L160.4,2089.5" stroke-width="3.3" />
<path d="M170.8,2085.3 L297.2,2048.1" stroke-width="2.5" />
<circle cx="315.8" cy="2041.8" r="1.5" stroke-width="2" fill="#000"/>
<path d="M332.4,2036.5 L355.2,2029.4" stroke-width="2.5" />
<path d="M365.5,2026.1 L454.6,1997.5" stroke-width="2.5" />
<path d="M305.6,2044.1 L307.7,2051.3 L309.5,2058.6 L310.9,2065.9 L312.1,2073.2 L313.0,2080.4 L313.5,2087.5 L313.7,2094.5 L313.7,2101.4 L313.2,2108.0 L312.5,2114.4 L311.5,2120.6 L310.2,2126.5 L308.5,2132.1 L306.6,2137.3 L304.4,2142.1 L301.9,2146.6 L299.1,2150.6 L296.1,2154.2 L292.9,2157.4 L289.5,2160.1 L285.8,2162.3 L282.0,2164.0 L278.0,2165.2 L273.9,2165.9 L269.6,2166.1 L265.3,2165.8 L260.8,2165.0 L256.3,2163.7 L251.8,2161.9 L247.2,2159.6 L242.7,2156.8 L238.2,2153.6 L233.7,2149.9 L229.3,2145.7 L225.0,2141.2 L220.8,2136.3 L216.7,2131.0 L212.8,2125.4 L209.1,2119.4 L205.6,2113.2 L202.3,2106.7 L199.2,2100.1 L196.3,2093.2 L193.7,2086.1 L191.4,2079.0 L189.3,2071.7 L187.5,2064.5 L186.0,2057.2 L184.9,2049.9 L184.0,2042.7 L183.5,2035.5 L183.2,2028.5 L183.3,2021.7 L183.7,2015.0 L184.4,2008.6 L185.5,2002.4 L186.8,1996.5 L188.5,1991.0 L190.4,1985.8 L192.6,1980.9 L195.1,1976.5 L197.8,1972.4 L200.8,1968.8 L204.1,1965.7 L207.5,1963.0 L211.2,1960.8 L215.0,1959.0 L219.0,1957.8 L223.1,1957.1 L227.4,1956.9 L231.7,1957.2 L236.1,1958.0 L240.6,1959.3 L245.2,1961.1 L249.7,1963.5 L254.3,1966.2 L258.8,1969.5 L263.3,1973.2 L267.7,1977.3 L272.0,1981.8 L276.2,1986.8 L280.2,1992.0 L284.1,1997.7 L287.9,2003.6 L291.4,2009.8 L294.7,2016.3 L297.8,2023.0 L300.7,2029.9 L303.3,2036.9 L305.6,2044.1Z" stroke-width="4" />
<path d="M324.9,2154.3 L320.7,2155.3 L316.5,2155.7 L312.1,2155.7 L307.6,2155.1 L303.1,2154.1 L298.5,2152.5 L293.8,2150.4 L289.2,2147.9 L284.6,2144.8 L280.0,2141.3 L275.5,2137.4 L271.1,2133.0 L266.8,2128.3 L262.6,2123.1 L258.6,2117.6 L254.7,2111.8 L251.0,2105.6 L247.6,2099.2 L244.3,2092.6 L241.3,2085.7 L238.5,2078.7 L236.0,2071.5 L233.8,2064.3 L231.9,2056.9 L230.2,2049.5 L228.9,2042.2 L227.9,2034.8 L227.2,2027.6 L226.8,2020.4 L226.8,2013.4 L227.0,2006.6 L227.6,2000.0 L228.5,1993.6 L229.7,1987.6 L231.3,1981.8 L233.1,1976.3 L235.2,1971.2 L237.6,1966.5 L240.3,1962.2 L243.2,1958.3 L246.4,1954.9 L249.8,1951.9 L253.4,1949.5 L257.2,1947.5 L261.2,1946.0" stroke-width="4.5" />
<path d="M261.2,1946.0 L265.3,1945.0 L269.6,1944.5 L274.0,1944.6 L278.4,1945.1 L283.0,1946.2 L287.6,1947.7 L292.2,1949.8 L296.8,1952.4 L301.4,1955.4 L306.0,1958.9 L310.5,1962.9 L314.9,1967.2 L319.2,1972.0 L323.4,1977.1 L327.5,1982.7 L331.3,1988.5 L335.0,1994.6 L338.5,2001.0 L341.7,2007.7 L344.8,2014.5 L347.5,2021.6 L350.0,2028.7 L352.3,2036.0 L354.2,2043.3 L355.8,2050.7 L357.2,2058.1 L358.2,2065.4 L358.9,2072.7 L359.3,2079.8 L359.3,2086.8 L359.0,2093.6 L358.5,2100.2 L357.5,2106.6 L356.3,2112.7 L354.8,2118.5 L353.0,2123.9 L350.8,2129.0 L348.4,2133.7 L345.8,2138.0 L342.8,2141.9 L339.7,2145.3 L336.3,2148.3 L332.7,2150.8 L328.9,2152.8 L324.9,2154.3" stroke-width="2.5" />
<path d="M260.2,1948.0 L264.0,1945.7 L267.9,1944.0 L272.0,1942.7 L276.3,1942.0 L280.7,1941.8 L285.2,1942.2 L289.8,1943.1 L294.5,1944.5 L299.2,1946.4 L303.9,1948.8 L308.5,1951.7 L313.2,1955.1 L317.8,1959.0 L322.3,1963.3 L326.7,1968.1 L331.0,1973.2 L335.1,1978.7 L339.1,1984.6 L342.9,1990.7 L346.5,1997.2 L349.8,2003.9 L352.9,2010.8 L355.8,2017.9 L358.3,2025.2 L360.6,2032.6 L362.6,2040.0 L364.3,2047.5 L365.7,2055.0 L366.7,2062.4 L367.5,2069.8 L367.9,2077.1 L367.9,2084.2 L367.6,2091.1 L367.0,2097.8 L366.1,2104.3 L364.8,2110.4 L363.3,2116.3 L361.4,2121.8 L359.2,2126.9 L356.7,2131.7 L354.0,2136.0 L351.0,2139.8 L347.7,2143.3 L344.2,2146.2 L340.5,2148.6 L336.6,2150.5 L332.5,2151.9 L328.3,2152.8" stroke-width="5.5" />
<path d="M260.5,1946.6 L264.5,1945.0 L268.6,1943.9 L272.9,1943.3 L277.3,1943.2 L281.7,1943.6 L286.3,1944.6 L290.9,1946.1 L295.6,1948.0 L300.2,1950.5 L304.9,1953.5 L309.5,1956.9 L314.0,1960.8 L318.5,1965.1 L322.8,1969.8 L327.0,1974.9 L331.1,1980.4 L335.0,1986.2 L338.8,1992.4 L342.3,1998.8 L345.6,2005.4 L348.7,2012.3 L351.5,2019.3 L354.0,2026.5 L356.3,2033.8 L358.3,2041.2 L360.0,2048.6 L361.3,2056.0 L362.4,2063.4 L363.1,2070.7 L363.5,2077.9 L363.6,2084.9 L363.4,2091.8 L362.8,2098.5 L361.9,2104.9 L360.7,2111.0 L359.2,2116.9 L357.4,2122.4 L355.2,2127.5 L352.8,2132.3 L350.2,2136.6 L347.2,2140.5 L344.0,2144.0 L340.6,2146.9 L337.0,2149.4 L333.2,2151.5 L329.2,2153.0" stroke-width="2.5" />
<path d="M315.4,2149.9 L311.3,2149.6 L307.2,2148.8 L302.9,2147.5 L298.7,2145.7 L294.4,2143.5 L290.1,2140.8 L285.9,2137.7 L281.7,2134.2 L277.5,2130.2 L273.5,2125.9 L269.5,2121.2 L265.7,2116.1 L262.0,2110.7 L258.5,2105.1 L255.2,2099.1 L252.0,2092.9 L249.1,2086.5 L246.4,2080.0 L243.9,2073.3 L241.7,2066.4 L239.7,2059.5 L238.0,2052.6 L236.6,2045.6 L235.4,2038.7 L234.6,2031.8 L234.0,2025.0 L233.8,2018.3 L233.8,2011.8 L234.2,2005.5 L234.8,1999.4 L235.7,1993.5 L237.0,1987.9 L238.5,1982.6 L240.2,1977.7 L242.3,1973.1 L244.6,1968.8 L247.1,1965.0 L249.9,1961.6 L252.9,1958.6 L256.1,1956.0" stroke-width="3.5" />
<path d="M308.3,2144.2 L304.3,2142.7 L300.3,2140.8 L296.3,2138.4 L292.3,2135.6 L288.3,2132.3 L284.4,2128.7 L280.6,2124.7 L276.8,2120.3 L273.1,2115.6 L269.6,2110.5 L266.2,2105.2 L262.9,2099.6 L259.9,2093.8 L257.0,2087.7 L254.3,2081.5 L251.8,2075.1 L249.5,2068.6 L247.5,2062.0 L245.7,2055.3 L244.2,2048.6 L243.0,2041.9 L242.0,2035.3 L241.3,2028.7 L240.8,2022.3 L240.7,2015.9 L240.8,2009.8 L241.2,2003.8 L241.9,1998.1 L242.8,1992.6 L244.0,1987.4 L245.5,1982.5 L247.3,1977.9 L249.2,1973.7 L251.5,1969.9 L253.9,1966.4" stroke-width="3" />
<path d="M351.9,2051.8 L353.2,2058.7 L354.2,2065.6 L355.0,2072.5 L355.4,2079.2 L355.5,2085.7 L355.4,2092.1 L354.9,2098.2 L354.2,2104.1 L353.2,2109.7 L351.8,2115.1 L350.3,2120.0 L348.4,2124.7 L346.3,2128.9 L343.9,2132.7 L341.3,2136.1 L338.4,2139.1 L335.4,2141.6" stroke-width="4.5" />
<path d="M233.8,1912.6 L221.8,1957.7" stroke-width="1.5" />
<path d="M327.0,1903.0 L313.7,1948.6" stroke-width="1.5" />
<path d="M436.8,1898.0 C433.1,1899.1 420.8,1901.0 414.5,1904.7 C408.2,1908.4 403.2,1912.8 398.9,1920.3 C394.7,1927.7 390.8,1939.2 388.9,1949.2 C387.1,1959.2 386.9,1969.6 387.8,1980.4 C388.7,1991.1 391.2,2003.0 394.5,2013.8 C397.8,2024.5 402.3,2035.3 407.8,2044.9 C413.4,2054.6 420.8,2064.2 427.9,2071.7 C434.9,2079.1 442.7,2085.6 450.1,2089.5 C457.6,2093.4 465.7,2094.8 472.4,2095.0 C479.1,2095.2 485.4,2092.2 490.2,2090.6 C495.0,2088.9 499.5,2085.9 501.4,2085.0" stroke-width="4.5" />
<path d="M436.8,1898.0 C440.5,1899.9 452.0,1903.9 459.1,1909.1 C466.1,1914.3 473.2,1921.7 479.1,1929.2 C485.0,1936.6 491.2,1948.5 494.7,1953.7 C498.2,1958.8 499.3,1959.2 500.2,1960.3" stroke-width="2.5" />
<path d="M508.0,1984.8 C509.1,1989.6 513.4,2004.1 514.7,2013.8 C516.0,2023.4 516.6,2033.8 515.8,2042.7 C515.1,2051.6 512.7,2060.1 510.3,2067.2 C507.8,2074.2 502.8,2082.0 501.4,2085.0" stroke-width="2.5" />
<path d="M436.8,1932.5 C431.2,1932.5 427.1,1934.2 423.4,1938.1 C419.7,1942.0 416.2,1948.8 414.5,1955.9 C412.9,1962.9 412.9,1972.2 413.4,1980.4 C414.0,1988.5 415.5,1996.7 417.9,2004.9 C420.3,2013.0 424.0,2021.9 427.9,2029.4 C431.8,2036.8 436.4,2043.8 441.2,2049.4 C446.1,2055.0 451.6,2060.1 456.8,2062.7 C462.0,2065.3 467.6,2066.5 472.4,2065.0 C477.2,2063.5 482.2,2059.0 485.8,2053.8 C489.3,2048.6 492.1,2041.2 493.6,2033.8 C495.0,2026.4 495.6,2018.2 494.7,2009.3 C493.7,2000.4 491.3,1989.3 488.0,1980.4 C484.7,1971.5 479.8,1962.9 474.6,1955.9 C469.4,1948.8 463.1,1942.0 456.8,1938.1 C450.5,1934.2 442.4,1932.5 436.8,1932.5Z" stroke-width="4.5" />
<path d="M410.1,2002.6 C409.7,1998.2 407.3,1984.8 407.8,1975.9 C408.4,1967.0 410.8,1955.5 413.4,1949.2 C416.0,1942.9 421.8,1939.9 423.4,1938.1" stroke-width="2.5" />
<path d="M434.6,2046.0 L454.6,2062.7" stroke-width="2.5" />
<path d="M427.9,1899.1 L456.8,1890.2 L463.5,1880.2 L485.8,1871.3" stroke-width="4" />
<path d="M463.5,1884.6 C468.0,1885.0 481.3,1883.5 490.2,1886.9 C499.1,1890.2 508.8,1896.9 516.9,1904.7 C525.1,1912.5 532.9,1922.9 539.2,1933.6 C545.5,1944.4 550.9,1957.7 554.8,1969.2 C558.7,1980.7 561.1,1992.6 562.6,2002.6 C564.1,2012.7 564.6,2020.8 563.7,2029.4 C562.8,2037.9 559.6,2047.5 557.0,2053.8 C554.4,2060.1 549.6,2065.0 548.1,2067.2" stroke-width="4" />
<path d="M496.9,1872.4 C501.0,1874.1 514.0,1877.0 521.4,1882.4 C528.8,1887.8 535.5,1897.6 541.4,1904.7 C547.4,1911.7 554.4,1921.4 557.0,1924.7" stroke-width="2.5" />
<path d="M574.8,1973.7 C575.8,1978.5 579.6,1993.0 580.4,2002.6 C581.1,2012.3 580.9,2021.9 579.3,2031.6 C577.6,2041.2 573.3,2053.1 570.4,2060.5 C567.4,2067.9 562.9,2073.5 561.5,2076.1" stroke-width="2" stroke-dasharray="14 3 2 3"/>
<path d="M485.8,1871.3 L503.6,1863.5 L552.6,1852.4" stroke-width="4" />
<path d="M491.3,1866.8 C493.4,1862.7 497.8,1849.0 503.6,1842.3 C509.3,1835.7 517.7,1830.5 525.8,1826.8 C534.0,1823.0 543.3,1822.9 552.6,1820.1 C561.8,1817.3 576.7,1811.7 581.5,1810.1" stroke-width="4" />
<path d="M552.6,1852.4 C555.5,1853.1 563.7,1852.9 570.4,1856.8 C577.1,1860.7 586.0,1868.1 592.6,1875.7 C599.3,1883.3 604.9,1892.4 610.4,1902.4 C616.0,1912.5 621.8,1924.3 626.0,1935.8 C630.3,1947.3 633.8,1960.3 636.0,1971.5 C638.3,1982.6 639.2,1993.0 639.4,2002.6 C639.6,2012.3 639.0,2021.2 637.2,2029.4 C635.3,2037.5 632.3,2045.7 628.3,2051.6 C624.2,2057.6 619.4,2061.6 612.7,2065.0 C606.0,2068.3 596.7,2069.4 588.2,2071.7 C579.6,2073.9 565.9,2077.2 561.5,2078.3" stroke-width="3.5" />
<path d="M581.5,1810.1 C585.6,1810.2 597.5,1808.8 606.0,1811.2 C614.5,1813.6 623.8,1817.8 632.7,1824.5 C641.6,1831.2 651.3,1841.2 659.4,1851.2 C667.6,1861.3 675.4,1872.8 681.7,1884.6 C688.0,1896.5 693.0,1909.5 697.3,1922.5 C701.5,1935.5 705.3,1949.9 707.3,1962.6 C709.3,1975.2 710.4,1986.3 709.5,1998.2 C708.6,2010.1 705.6,2023.0 701.7,2033.8 C697.8,2044.6 692.4,2055.0 686.1,2062.7 C679.8,2070.5 672.0,2076.3 663.9,2080.6 C655.7,2084.8 641.6,2087.1 637.2,2088.3" stroke-width="4.5" />
<path d="M552.6,1824.5 C556.3,1825.8 566.7,1827.5 574.8,1832.3 C583.0,1837.1 593.4,1845.5 601.5,1853.5 C609.7,1861.4 617.3,1871.3 623.8,1880.2 C630.3,1889.1 637.7,1902.4 640.5,1906.9" stroke-width="2.5" />
<path d="M658.3,1962.6 C659.2,1967.4 663.3,1981.1 663.9,1991.5 C664.4,2001.9 663.5,2013.8 661.7,2024.9 C659.8,2036.0 656.8,2048.3 652.7,2058.3 C648.7,2068.3 639.8,2080.6 637.2,2085.0" stroke-width="2" stroke-dasharray="14 3 2 3"/>
<path d="M501.4,2085.0 L525.8,2080.6 L554.8,2079.4 L563.7,2078.3" stroke-width="4" />
<path d="M561.5,2078.3 C563.7,2080.6 568.9,2088.3 574.8,2091.7 C580.8,2095.0 589.7,2097.6 597.1,2098.4 C604.5,2099.1 612.7,2097.8 619.4,2096.1 C626.0,2094.5 634.2,2089.6 637.2,2088.3" stroke-width="4" />
<path d="M508.5,1844.1 C509.4,1843.9 512.8,1842.0 514.3,1842.8 C515.8,1843.6 517.2,1846.9 517.4,1849.0 C517.6,1851.2 516.4,1854.5 515.6,1855.7 C514.8,1856.9 513.0,1856.1 512.5,1856.1" stroke-width="4" />
<path d="M536.3,1834.1 C537.3,1833.9 540.6,1831.9 542.1,1832.8 C543.6,1833.6 545.0,1836.8 545.2,1839.0 C545.4,1841.2 544.2,1844.5 543.4,1845.7 C542.6,1846.9 540.8,1846.0 540.3,1846.1" stroke-width="4" />
<path d="M565.3,1840.8 C566.2,1840.6 569.6,1838.6 571.0,1839.4 C572.5,1840.3 573.9,1843.5 574.2,1845.7 C574.4,1847.8 573.2,1851.2 572.4,1852.4 C571.6,1853.5 569.8,1852.7 569.3,1852.8" stroke-width="4" />
<path d="M595.3,1863.0 C596.3,1862.8 599.6,1860.9 601.1,1861.7 C602.6,1862.5 604.0,1865.8 604.2,1867.9 C604.4,1870.1 603.2,1873.4 602.4,1874.6 C601.6,1875.8 599.8,1875.0 599.3,1875.1" stroke-width="4" />
<path d="M618.7,1895.3 C619.6,1895.1 623.0,1893.2 624.5,1894.0 C626.0,1894.8 627.4,1898.1 627.6,1900.2 C627.8,1902.4 626.6,1905.7 625.8,1906.9 C625.0,1908.1 623.2,1907.3 622.7,1907.3" stroke-width="4" />
<path d="M634.3,1930.9 C635.2,1930.7 638.6,1928.8 640.1,1929.6 C641.5,1930.4 642.9,1933.7 643.2,1935.8 C643.4,1938.0 642.2,1941.3 641.4,1942.5 C640.6,1943.7 638.8,1942.9 638.3,1943.0" stroke-width="4" />
<path d="M644.3,1971.0 C645.3,1970.8 648.6,1968.9 650.1,1969.7 C651.6,1970.5 653.0,1973.8 653.2,1975.9 C653.4,1978.1 652.2,1981.4 651.4,1982.6 C650.6,1983.8 648.8,1983.0 648.3,1983.0" stroke-width="4" />
<path d="M644.3,2010.0 C645.3,2009.8 648.6,2007.8 650.1,2008.6 C651.6,2009.5 653.0,2012.7 653.2,2014.9 C653.4,2017.0 652.2,2020.4 651.4,2021.6 C650.6,2022.7 648.8,2021.9 648.3,2022.0" stroke-width="4" />
<path d="M635.4,2040.0 C636.3,2039.8 639.7,2037.9 641.2,2038.7 C642.7,2039.5 644.1,2042.8 644.3,2044.9 C644.5,2047.1 643.3,2050.4 642.5,2051.6 C641.7,2052.8 639.9,2052.0 639.4,2052.1" stroke-width="4" />
<path d="M619.8,2066.8 C620.8,2066.5 624.1,2064.6 625.6,2065.4 C627.1,2066.2 628.5,2069.5 628.7,2071.7 C628.9,2073.8 627.7,2077.1 626.9,2078.3 C626.1,2079.5 624.3,2078.7 623.8,2078.8" stroke-width="4" />
<path d="M593.1,2080.1 C594.0,2079.9 597.4,2078.0 598.9,2078.8 C600.4,2079.6 601.8,2082.9 602.0,2085.0 C602.2,2087.2 601.0,2090.5 600.2,2091.7 C599.4,2092.9 597.6,2092.1 597.1,2092.1" stroke-width="4" />
<path d="M568.6,2077.9 C569.6,2077.7 572.9,2075.7 574.4,2076.5 C575.9,2077.4 577.3,2080.6 577.5,2082.8 C577.7,2084.9 576.5,2088.3 575.7,2089.5 C574.9,2090.6 573.1,2089.8 572.6,2089.9" stroke-width="4" />
<path d="M523.6,1845.7 L539.2,1840.1" stroke-width="2" />
<path d="M547.0,2088.3 L540.3,2111.7" stroke-width="3" />
<path d="M370.0,2026.0 L453.5,1999.3" stroke-width="2.5" />
<path d="M623.8,1814.5 L668.3,1800.0" stroke-width="2" />
<ellipse cx="679.5" cy="1794.5" rx="6" ry="10" transform="rotate(-17 679.5 1794.5)" stroke-width="3.5"/>
<path d="M446.3,2166.1 L475.3,2207.6 L655.6,2151.6" stroke-width="2.6" />
<path d="M732.2,2125.9 L760.0,2118.5" stroke-width="2.6" />
<path d="M112.2,2362.9 L112.2,2448.0" stroke-width="3.3" />
<path d="M113.6,2468.4 L113.6,2488.8" stroke-width="3.3" />
<path d="M114.3,2507.1 L115.6,2730.3" stroke-width="3.3" />
<path d="M117.0,2750.7 L117.0,2771.1" stroke-width="3.3" />
<path d="M117.7,2791.5 L119.0,2842.5 L272.1,2791.5" stroke-width="3.3" />
<text x="490" y="2319" transform="rotate(-13.5 490 2319)" font-size="24" fill="#8c8c8c" stroke="none">k-part.com</text>
<path d="M1224.7,2023.6 L1382.7,1973.8 L1600.0,2077.7" stroke-width="2.6" />
<path d="M1536.3,2050.0 L1614.8,2087.4" stroke-width="2.6" />
<path d="M1678.3,2118.0 L1891.2,2220.0 L1894.9,2386.2" stroke-width="3" />
<text x="1433" y="2002" transform="rotate(22 1433 2002)" font-size="24" fill="#8c8c8c" stroke="none">k-part.com</text>
<path d="M318.6,2836.3 L316.3,2836.8 L313.8,2837.1 L311.3,2837.1 L308.8,2836.8 L306.2,2836.2 L303.5,2835.2 L300.9,2834.1 L298.3,2832.6 L295.6,2830.8 L293.0,2828.8 L290.4,2826.6 L287.9,2824.1 L285.4,2821.3 L283.1,2818.4 L280.7,2815.2 L278.5,2811.8 L276.4,2808.3 L274.4,2804.6 L272.6,2800.8 L270.8,2796.9 L269.3,2792.9 L267.8,2788.8 L266.5,2784.6 L265.4,2780.4 L264.5,2776.2 L263.7,2771.9 L263.1,2767.7 L262.7,2763.6 L262.5,2759.5 L262.5,2755.4 L262.6,2751.5 L263.0,2747.7 L263.5,2744.1 L264.2,2740.6 L265.0,2737.3 L266.1,2734.2 L267.3,2731.2 L268.6,2728.5 L270.2,2726.1 L271.8,2723.9 L273.6,2721.9 L275.6,2720.2 L277.6,2718.8 L279.8,2717.6 L282.1,2716.8" stroke-width="4.5" />
<path d="M282.1,2716.8 L284.4,2716.2 L286.9,2716.0 L289.4,2716.0 L291.9,2716.3 L294.5,2716.9 L297.2,2717.8 L299.8,2719.0 L302.4,2720.5 L305.1,2722.2 L307.7,2724.2 L310.3,2726.5 L312.8,2729.0 L315.2,2731.8 L317.6,2734.7 L319.9,2737.9 L322.2,2741.2 L324.3,2744.7 L326.3,2748.4 L328.1,2752.2 L329.9,2756.2 L331.4,2760.2 L332.9,2764.3 L334.1,2768.5 L335.3,2772.7 L336.2,2776.9 L337.0,2781.1 L337.6,2785.4 L338.0,2789.5 L338.2,2793.6 L338.2,2797.6 L338.1,2801.5 L337.7,2805.3 L337.2,2809.0 L336.5,2812.5 L335.7,2815.8 L334.6,2818.9 L333.4,2821.8 L332.1,2824.5 L330.5,2827.0 L328.9,2829.2 L327.1,2831.2 L325.1,2832.9 L323.1,2834.3 L320.9,2835.4 L318.6,2836.3" stroke-width="3" />
<path d="M309.2,2830.3 L306.9,2829.4 L304.6,2828.3 L302.3,2826.9 L300.0,2825.3 L297.7,2823.5 L295.5,2821.4 L293.3,2819.1 L291.1,2816.6 L289.0,2813.9 L287.0,2811.1 L285.1,2808.0 L283.2,2804.8 L281.4,2801.5 L279.8,2798.0 L278.2,2794.5 L276.8,2790.8 L275.5,2787.1 L274.4,2783.3 L273.4,2779.5 L272.5,2775.7" stroke-width="2.5" />
<path d="M291.6,2713.9 L294.0,2713.3 L296.5,2713.0 L299.0,2713.1 L301.6,2713.4 L304.2,2714.0 L306.9,2715.0 L309.6,2716.2 L312.2,2717.7 L314.9,2719.5 L317.5,2721.6 L320.1,2723.9 L322.7,2726.5 L325.2,2729.3 L327.6,2732.3 L329.9,2735.5 L332.1,2738.9 L334.2,2742.5 L336.2,2746.3 L338.1,2750.2 L339.8,2754.2 L341.4,2758.3 L342.8,2762.4 L344.0,2766.7 L345.1,2770.9 L346.0,2775.2 L346.7,2779.5 L347.3,2783.7 L347.6,2787.9 L347.8,2792.0 L347.8,2796.0 L347.5,2800.0 L347.1,2803.7 L346.6,2807.4 L345.8,2810.9 L344.8,2814.1 L343.7,2817.2 L342.4,2820.1 L341.0,2822.7 L339.4,2825.1 L337.6,2827.2 L335.7,2829.1 L333.7,2830.7 L331.6,2832.0 L329.3,2833.0" stroke-width="3" />
<path d="M303.1,2710.4 L305.5,2709.8 L308.0,2709.5 L310.5,2709.6 L313.1,2709.9 L315.7,2710.5 L318.4,2711.5 L321.0,2712.7 L323.7,2714.2 L326.4,2716.0 L329.0,2718.1 L331.6,2720.4 L334.2,2722.9 L336.6,2725.7 L339.1,2728.8 L341.4,2732.0 L343.6,2735.4 L345.7,2739.0 L347.7,2742.8 L349.5,2746.6 L351.3,2750.6 L352.8,2754.7 L354.2,2758.9 L355.5,2763.1 L356.6,2767.4 L357.5,2771.7 L358.2,2776.0 L358.7,2780.2 L359.1,2784.4 L359.3,2788.5 L359.2,2792.5 L359.0,2796.5 L358.6,2800.2 L358.0,2803.9 L357.3,2807.3 L356.3,2810.6 L355.2,2813.7 L353.9,2816.6 L352.5,2819.2 L350.8,2821.6 L349.1,2823.7 L347.2,2825.6 L345.2,2827.2 L343.0,2828.5 L340.8,2829.5" stroke-width="4" />
<path d="M324.2,2703.9 L326.5,2703.4 L329.0,2703.1 L331.5,2703.1 L334.1,2703.5 L336.8,2704.1 L339.4,2705.0 L342.1,2706.3 L344.8,2707.8 L347.4,2709.6 L350.1,2711.6 L352.7,2713.9 L355.2,2716.5 L357.7,2719.3 L360.1,2722.3 L362.4,2725.6 L364.6,2729.0 L366.7,2732.6 L368.7,2736.3 L370.6,2740.2 L372.3,2744.2 L373.9,2748.3 L375.3,2752.5 L376.5,2756.7 L377.6,2761.0 L378.5,2765.3 L379.2,2769.5 L379.8,2773.8 L380.1,2778.0 L380.3,2782.1 L380.3,2786.1 L380.1,2790.0 L379.7,2793.8 L379.1,2797.4 L378.3,2800.9 L377.4,2804.2 L376.2,2807.3 L374.9,2810.1 L373.5,2812.8 L371.9,2815.1 L370.1,2817.3 L368.2,2819.1 L366.2,2820.7 L364.1,2822.0 L361.8,2823.0" stroke-width="3" />
<path d="M345.2,2697.5 L347.6,2696.9 L350.0,2696.7 L352.6,2696.7 L355.2,2697.0 L357.8,2697.7 L360.5,2698.6 L363.1,2699.8 L365.8,2701.3 L368.5,2703.1 L371.1,2705.2 L373.7,2707.5 L376.2,2710.1 L378.7,2712.9 L381.1,2715.9 L383.4,2719.1 L385.7,2722.6 L387.8,2726.1 L389.8,2729.9 L391.6,2733.8 L393.3,2737.8 L394.9,2741.9 L396.3,2746.1 L397.6,2750.3 L398.6,2754.5 L399.5,2758.8 L400.3,2763.1 L400.8,2767.3 L401.2,2771.5 L401.3,2775.6 L401.3,2779.7 L401.1,2783.6 L400.7,2787.4 L400.1,2791.0 L399.3,2794.5 L398.4,2797.8 L397.3,2800.8 L396.0,2803.7 L394.5,2806.3 L392.9,2808.7 L391.2,2810.8 L389.3,2812.7 L387.3,2814.3 L385.1,2815.6 L382.9,2816.6" stroke-width="4" />
<path d="M366.2,2691.1 L368.6,2690.5 L371.1,2690.2 L373.6,2690.3 L376.2,2690.6 L378.8,2691.2 L381.5,2692.2 L384.2,2693.4 L386.8,2694.9 L389.5,2696.7 L392.1,2698.8 L394.7,2701.1 L397.3,2703.6 L399.8,2706.5 L402.2,2709.5 L404.5,2712.7 L406.7,2716.1 L408.8,2719.7 L410.8,2723.5 L412.7,2727.3 L414.4,2731.3 L415.9,2735.4 L417.4,2739.6 L418.6,2743.9 L419.7,2748.1 L420.6,2752.4 L421.3,2756.7 L421.8,2760.9 L422.2,2765.1 L422.4,2769.2 L422.3,2773.2 L422.1,2777.2 L421.7,2780.9 L421.1,2784.6 L420.4,2788.0 L419.4,2791.3 L418.3,2794.4 L417.0,2797.3 L415.6,2799.9 L414.0,2802.3 L412.2,2804.4 L410.3,2806.3 L408.3,2807.9 L406.2,2809.2 L403.9,2810.2" stroke-width="3" />
<path d="M381.5,2686.4 L383.9,2685.8 L386.4,2685.5 L388.9,2685.6 L391.5,2685.9 L394.1,2686.6 L396.8,2687.5 L399.5,2688.7 L402.1,2690.2 L404.8,2692.0 L407.4,2694.1 L410.0,2696.4 L412.6,2699.0 L415.1,2701.8 L417.5,2704.8 L419.8,2708.0 L422.0,2711.4 L424.1,2715.0 L426.1,2718.8 L428.0,2722.7 L429.7,2726.7 L431.2,2730.8 L432.7,2734.9 L433.9,2739.2 L435.0,2743.4 L435.9,2747.7 L436.6,2752.0 L437.1,2756.2 L437.5,2760.4 L437.7,2764.5 L437.6,2768.6 L437.4,2772.5 L437.0,2776.3 L436.4,2779.9 L435.7,2783.4 L434.7,2786.6 L433.6,2789.7 L432.3,2792.6 L430.9,2795.2 L429.3,2797.6 L427.5,2799.7 L425.6,2801.6 L423.6,2803.2 L421.5,2804.5 L419.2,2805.5" stroke-width="4" />
<path d="M300.3,2711.5 L302.9,2711.3 L305.5,2711.4 L308.1,2711.8 L310.8,2712.6 L313.5,2713.6 L316.3,2715.0 L319.0,2716.6 L321.7,2718.6 L324.4,2720.8 L327.0,2723.2 L329.6,2726.0 L332.1,2729.0 L334.5,2732.1 L336.8,2735.5 L339.0,2739.1 L341.1,2742.9 L343.1,2746.8 L344.9,2750.8 L346.5,2755.0 L348.0,2759.2 L349.4,2763.5 L350.5,2767.9 L351.5,2772.2" stroke-width="2.5" />
<path d="M316.6,2706.5 L319.1,2706.3 L321.7,2706.4 L324.4,2706.8 L327.1,2707.6 L329.8,2708.6 L332.5,2710.0 L335.3,2711.6 L338.0,2713.6 L340.6,2715.8 L343.3,2718.3 L345.8,2721.0 L348.3,2724.0 L350.8,2727.2 L353.1,2730.6 L355.3,2734.2 L357.4,2737.9 L359.3,2741.8 L361.1,2745.9 L362.8,2750.0 L364.3,2754.3 L365.6,2758.6 L366.8,2762.9 L367.8,2767.3" stroke-width="2.5" />
<path d="M337.6,2700.0 L340.2,2699.9 L342.8,2700.0 L345.4,2700.4 L348.1,2701.1 L350.8,2702.2 L353.6,2703.6 L356.3,2705.2 L359.0,2707.1 L361.7,2709.4 L364.3,2711.8 L366.9,2714.6 L369.4,2717.5 L371.8,2720.7 L374.1,2724.1 L376.3,2727.7 L378.4,2731.5 L380.4,2735.4 L382.2,2739.4 L383.8,2743.6 L385.3,2747.8 L386.7,2752.1 L387.8,2756.5 L388.8,2760.8" stroke-width="2.5" />
<path d="M358.7,2693.6 L361.2,2693.4 L363.8,2693.5 L366.5,2694.0 L369.2,2694.7 L371.9,2695.8 L374.6,2697.1 L377.3,2698.8 L380.0,2700.7 L382.7,2702.9 L385.4,2705.4 L387.9,2708.1 L390.4,2711.1 L392.8,2714.3 L395.2,2717.7 L397.4,2721.3 L399.5,2725.1 L401.4,2729.0 L403.2,2733.0 L404.9,2737.2 L406.4,2741.4 L407.7,2745.7 L408.9,2750.0 L409.8,2754.4" stroke-width="2.5" />
<path d="M286.3,2715.9 L379.4,2687.8 L459.4,2661.8" stroke-width="4" />
<path d="M459.4,2661.8 L470.3,2648.0 L498.4,2640.2" stroke-width="5" />
<path d="M498.4,2640.2 L855.5,2531.1" stroke-width="4.5" />
<path d="M316.6,2838.4 L424.8,2804.7 L509.2,2780.9" stroke-width="4.5" />
<path d="M509.2,2780.9 L515.7,2787.4 L550.3,2778.7" stroke-width="4.5" />
<path d="M550.3,2778.7 L890.2,2672.6" stroke-width="4.5" />
<path d="M472.4,2648.8 C478.2,2652.4 497.7,2659.7 507.1,2670.5 C516.4,2681.3 524.4,2699.3 528.7,2713.8 C533.0,2728.2 535.2,2745.2 533.0,2757.1 C530.9,2769.0 518.6,2780.5 515.7,2785.2" stroke-width="4.5" />
<path d="M485.4,2644.5 C491.2,2648.1 510.3,2655.3 520.0,2666.1 C529.8,2677.0 538.8,2695.0 543.9,2709.4 C548.9,2723.9 550.7,2741.0 550.3,2752.7 C550.0,2764.4 543.1,2775.1 541.7,2779.6" stroke-width="4.5" />
<path d="M499.3,2641.0 C504.9,2644.5 523.8,2651.1 533.0,2661.8 C542.3,2672.5 550.3,2692.1 554.7,2705.1 C559.0,2718.1 558.3,2734.0 559.0,2739.7" stroke-width="2.5" />
<path d="M478.9,2653.2 C483.6,2658.2 499.8,2671.9 507.1,2683.5 C514.3,2695.0 519.3,2710.2 522.2,2722.4 C525.1,2734.7 524.0,2751.3 524.4,2757.1" stroke-width="2.5" />
<path d="M427.0,2741.9 C427.7,2748.0 432.0,2768.6 431.3,2778.7 C430.6,2788.8 424.1,2798.5 422.6,2802.5" stroke-width="2.5" />
<path d="M430.0,2675.7 L470.3,2664.4" stroke-width="3" />
<path d="M433.5,2687.8 L473.3,2675.7" stroke-width="3" />
<path d="M430.0,2675.7 C428.8,2676.6 423.4,2679.1 422.6,2681.3 C421.9,2683.5 423.9,2687.6 425.7,2688.7 C427.5,2689.7 432.2,2687.9 433.5,2687.8" stroke-width="3" />
<path d="M470.3,2664.4 C471.5,2664.6 476.2,2663.9 477.6,2665.3 C479.1,2666.7 479.6,2670.9 478.9,2672.6 C478.2,2674.4 474.2,2675.2 473.3,2675.7" stroke-width="3" />
<path d="M414.0,2586.5 C424.0,2583.0 459.8,2572.1 470.3,2569.6 C480.7,2567.2 475.2,2570.1 476.8,2571.8 C478.3,2573.4 479.6,2576.8 479.8,2579.6 C479.9,2582.3 478.7,2586.2 477.6,2588.2 C476.5,2590.2 483.4,2588.3 473.3,2591.7 C463.2,2595.1 427.3,2606.0 417.0,2608.6 C406.8,2611.1 413.2,2608.4 411.8,2606.8 C410.4,2605.3 409.1,2601.8 408.8,2599.0 C408.5,2596.3 409.2,2592.5 410.1,2590.4 C411.0,2588.3 404.0,2590.0 414.0,2586.5Z" stroke-width="4" />
<path d="M420.5,2596.9 L437.8,2591.7" stroke-width="2.5" />
<path d="M455.1,2584.8 L470.3,2580.4" stroke-width="2.5" />
<path d="M483.2,2508.1 L470.3,2568.7" stroke-width="2" />
<path d="M443.4,2605.5 L448.6,2681.3" stroke-width="2" />
<path d="M855.5,2531.1 C858.8,2532.7 870.0,2534.7 875.0,2540.6 C880.1,2546.5 883.8,2557.9 885.8,2566.6 C887.9,2575.2 888.2,2586.4 887.1,2592.6 C886.1,2598.7 882.8,2600.9 879.4,2603.4 C875.9,2605.9 868.5,2607.0 866.4,2607.7" stroke-width="4.5" />
<path d="M866.4,2607.7 C862.0,2611.0 858.4,2620.3 857.7,2627.2 C857.0,2634.0 858.8,2642.3 862.0,2648.8 C865.3,2655.3 872.5,2662.5 877.2,2666.1 C881.9,2669.8 886.6,2672.6 890.2,2670.5 C893.8,2668.3 897.7,2660.4 898.8,2653.2 C899.9,2645.9 899.2,2634.8 896.7,2627.2 C894.1,2619.6 888.7,2611.0 883.7,2607.7 C878.6,2604.5 870.7,2604.5 866.4,2607.7Z" stroke-width="3.5" />
<path d="M272.0,2791.5 L301.4,2777.8" stroke-width="2.5" />
<path d="M888.0,2596.9 L905.3,2591.7" stroke-width="2.5" />
<path d="M918.3,2588.2 L927.0,2586.1" stroke-width="2.5" />
<path d="M959.4,2502.3 L1246.3,2413.3" stroke-width="4.5" />
<path d="M998.9,2638.4 L1281.0,2549.3" stroke-width="4.5" />
<path d="M959.4,2502.3 C953.8,2503.1 950.8,2510.6 948.5,2517.2 C946.2,2523.8 944.5,2533.7 945.5,2541.9 C946.5,2550.1 949.6,2560.9 954.4,2566.6 C959.2,2572.4 968.6,2576.5 974.2,2576.5 C979.8,2576.5 985.2,2572.4 988.1,2566.6 C991.0,2560.9 992.6,2551.0 991.5,2541.9 C990.5,2532.8 987.0,2518.8 981.6,2512.2 C976.3,2505.6 964.9,2501.5 959.4,2502.3Z" stroke-width="4" />
<path d="M974.2,2576.5 C974.0,2581.5 972.0,2598.0 973.2,2606.2 C974.5,2614.5 977.3,2620.6 981.6,2626.0 C985.9,2631.4 996.1,2636.3 998.9,2638.4" stroke-width="4.5" />
<path d="M900.0,2592.4 L924.7,2585.4" stroke-width="2.5" />
<path d="M934.6,2582.5 L964.3,2574.1" stroke-width="2.5" />
<path d="M1246.3,2413.3 C1249.6,2411.6 1258.7,2403.8 1266.1,2403.4 C1273.5,2403.0 1283.4,2405.8 1290.8,2410.8 C1298.3,2415.7 1305.3,2426.0 1310.6,2433.1 C1316.0,2440.1 1320.9,2449.5 1323.0,2452.8" stroke-width="4.5" />
<path d="M1246.3,2413.3 C1251.3,2416.6 1267.8,2423.2 1276.0,2433.1 C1284.3,2442.9 1291.3,2459.4 1295.8,2472.6 C1300.3,2485.8 1303.2,2500.7 1303.2,2512.2 C1303.2,2523.8 1299.5,2535.7 1295.8,2541.9 C1292.1,2548.1 1283.4,2548.1 1281.0,2549.3" stroke-width="4.5" />
<path d="M1256.2,2405.8 C1262.0,2409.6 1281.8,2417.8 1290.8,2428.1 C1299.9,2438.4 1306.1,2453.7 1310.6,2467.7 C1315.2,2481.7 1318.1,2499.8 1318.1,2512.2 C1318.1,2524.6 1315.2,2534.9 1310.6,2541.9 C1306.1,2548.9 1294.1,2552.2 1290.8,2554.3" stroke-width="3" />
<path d="M1270.1,2404.4 C1274.4,2407.5 1289.0,2415.9 1295.8,2423.2 C1302.6,2430.4 1308.2,2443.8 1310.6,2447.9" stroke-width="2.5" />
<path d="M1246.3,2356.4 L1246.3,2408.3" stroke-width="4.5" />
<path d="M1246.3,2356.4 L1325.5,2395.9 L1362.6,2356.4" stroke-width="2.5" />
<path d="M1325.5,2395.9 L1326.5,2450.4 L1362.6,2442.9" stroke-width="3" />
<path d="M1362.6,2356.4 L1362.6,2442.9" stroke-width="4.5" />
<path d="M1362.6,2442.9 C1364.2,2447.1 1370.4,2458.6 1372.5,2467.7 C1374.5,2476.8 1376.6,2486.7 1375.0,2497.4 C1373.3,2508.1 1364.6,2526.2 1362.6,2532.0" stroke-width="4.5" />
<path d="M1362.6,2532.0 L1310.6,2546.8" stroke-width="4.5" />
<path d="M1362.6,2532.0 L1362.6,2601.3" stroke-width="4.5" />
<path d="M1326.5,2546.8 L1326.5,2591.4" stroke-width="3" />
<path d="M1256.2,2559.2 C1262.8,2562.5 1284.3,2573.6 1295.8,2579.0 C1307.3,2584.4 1313.9,2587.7 1325.5,2591.4 C1337.0,2595.1 1351.9,2599.0 1365.1,2601.3 C1378.3,2603.6 1391.4,2605.4 1404.6,2605.2 C1417.8,2605.1 1431.0,2602.6 1444.2,2600.3 C1457.4,2598.0 1470.6,2594.9 1483.8,2591.4 C1497.0,2587.8 1511.0,2584.8 1523.4,2579.0 C1535.7,2573.2 1546.5,2566.2 1558.0,2556.7 C1569.6,2547.3 1581.6,2533.1 1592.6,2522.1 C1603.7,2511.1 1615.8,2501.9 1624.1,2490.8 C1632.5,2479.6 1636.6,2469.0 1642.8,2455.3 C1649.0,2441.6 1657.1,2423.2 1661.5,2408.6 C1665.8,2394.0 1668.6,2381.2 1668.9,2367.5 C1669.3,2353.8 1666.5,2339.5 1663.3,2326.4 C1660.2,2313.3 1655.6,2299.6 1650.3,2289.1 C1645.0,2278.5 1638.4,2269.8 1631.6,2262.9 C1624.7,2256.1 1612.9,2250.5 1609.2,2248.0" stroke-width="4.8" />
<path d="M1609.2,2248.0 L1530.7,2206.9" stroke-width="4.8" />
<path d="M1530.7,2206.9 C1526.4,2206.3 1513.9,2202.8 1504.6,2203.1 C1495.3,2203.5 1484.4,2205.3 1474.7,2208.8 C1465.1,2212.2 1451.4,2221.2 1446.7,2223.7" stroke-width="4.8" />
<path d="M1246.3,2356.4 C1253.7,2350.2 1276.0,2332.9 1290.8,2319.3 C1305.7,2305.7 1327.6,2282.9 1335.4,2274.7 C1343.1,2266.6 1330.4,2274.7 1337.2,2270.3 C1344.0,2266.0 1359.6,2255.9 1376.2,2248.7 C1392.8,2241.5 1426.7,2230.7 1436.8,2227.1" stroke-width="4.8" />
<path d="M1447.6,2222.7 L1475.8,2209.7 L1446.7,2223.7" stroke-width="4.8" />
<path d="M1340.3,2274.7 L1409.6,2309.4" stroke-width="2.5" />
<path d="M1290.8,2319.3 L1362.6,2356.4 L1409.6,2311.8" stroke-width="2.5" />
<path d="M1417.0,2311.8 L1582.7,2254.9" stroke-width="3" />
<path d="M1416.8,2311.5 C1442.0,2301.8 1538.5,2263.8 1568.1,2253.6 C1597.7,2243.3 1585.5,2249.5 1594.2,2249.8 C1603.0,2250.2 1612.3,2252.0 1620.4,2255.4 C1628.5,2258.9 1639.1,2267.9 1642.8,2270.4" stroke-width="2.5" />
<path d="M1548.1,2341.5 C1542.3,2344.0 1523.4,2347.7 1513.5,2356.4 C1503.6,2365.0 1494.9,2379.9 1488.7,2393.5 C1482.6,2407.1 1477.6,2424.8 1476.4,2438.0 C1475.1,2451.2 1477.6,2463.2 1481.3,2472.6 C1485.0,2482.1 1492.5,2490.8 1498.6,2494.9 C1504.8,2499.0 1511.0,2499.4 1518.4,2497.4 C1525.9,2495.3 1536.6,2487.9 1543.2,2482.5 C1549.8,2477.2 1555.5,2468.1 1558.0,2465.2" stroke-width="4.5" />
<path d="M1548.1,2341.5 C1551.4,2342.8 1562.1,2342.8 1567.9,2348.9 C1573.7,2355.1 1579.9,2368.7 1582.7,2378.6 C1585.6,2388.5 1585.4,2400.1 1585.2,2408.3 C1585.1,2416.6 1582.3,2424.8 1581.8,2428.1" stroke-width="2.5" />
<path d="M1513.5,2363.8 C1511.4,2369.6 1506.1,2386.5 1501.1,2398.4 C1496.2,2410.4 1486.7,2429.3 1483.8,2435.5" stroke-width="4.5" />
<path d="M1498.6,2398.4 L1661.9,2475.1" stroke-width="3" />
<path d="M1483.8,2598.8 L1483.8,2700.2" stroke-width="1.5" />
<path d="M1425.6,2123.4 C1425.6,2121.8 1424.9,2116.2 1425.6,2113.9 C1426.4,2111.7 1428.2,2110.9 1430.1,2110.0 C1431.9,2109.2 1434.5,2108.9 1436.8,2108.9 C1439.0,2108.9 1441.8,2109.1 1443.5,2110.0 C1445.1,2111.0 1446.1,2112.3 1446.8,2114.5 C1447.4,2116.7 1447.3,2121.9 1447.3,2123.4" stroke-width="4.5" />
<path d="M1430.1,2116.2 C1431.0,2116.5 1433.8,2118.4 1435.7,2118.4 C1437.5,2118.4 1440.3,2116.5 1441.2,2116.2" stroke-width="3.5" />
<path d="M1427.9,2124.5 C1429.2,2125.2 1432.9,2128.3 1435.7,2128.4 C1438.4,2128.5 1443.1,2125.6 1444.6,2125.1" stroke-width="3.5" />
<path d="M1424.0,2125.1 L1416.7,2130.1 L1412.8,2136.8 L1413.4,2151.2 L1421.2,2157.9" stroke-width="4.5" />
<path d="M1447.3,2123.4 L1455.7,2129.0 L1459.6,2134.5 L1460.1,2147.9 L1452.4,2156.8" stroke-width="4.5" />
<path d="M1417.8,2137.9 L1425.6,2145.7 L1446.8,2145.7 L1455.7,2136.8" stroke-width="4" />
<path d="M1425.6,2145.7 L1426.8,2156.8" stroke-width="4" />
<path d="M1446.8,2145.7 L1449.0,2155.7" stroke-width="4" />
<path d="M1429.0,2130.1 C1428.6,2131.7 1425.6,2137.9 1426.8,2140.1 C1427.9,2142.3 1432.7,2143.4 1435.7,2143.4 C1438.6,2143.4 1442.7,2141.2 1444.6,2140.1 C1446.4,2139.0 1446.6,2138.4 1446.8,2136.8 C1447.0,2135.1 1445.9,2131.2 1445.7,2130.1" stroke-width="3.5" />
<path d="M1421.7,2157.9 C1421.8,2161.1 1421.5,2172.7 1422.3,2176.8 C1423.1,2180.9 1424.3,2181.1 1426.8,2182.4 C1429.2,2183.7 1433.4,2184.6 1436.8,2184.6 C1440.1,2184.6 1444.3,2183.7 1446.8,2182.4 C1449.3,2181.1 1450.9,2180.9 1451.8,2176.8 C1452.7,2172.7 1452.3,2161.1 1452.4,2157.9" stroke-width="4.5" />
<path d="M1424.0,2159.6 C1426.1,2160.3 1432.4,2164.0 1436.8,2164.0 C1441.1,2164.0 1447.9,2160.3 1450.1,2159.6" stroke-width="8" />
<path d="M1425.6,2166.8 C1427.5,2167.6 1432.9,2171.8 1436.8,2171.8 C1440.7,2171.8 1447.0,2167.6 1449.0,2166.8" stroke-width="4" />
<path d="M1425.6,2174.6 C1427.5,2175.3 1432.9,2179.1 1436.8,2179.1 C1440.7,2179.1 1447.0,2175.3 1449.0,2174.6" stroke-width="4" />
<path d="M1438.4,2185.2 L1438.4,2264.8" stroke-width="2.5" />
<path d="M1431.2,2245.8 C1429.7,2246.6 1424.5,2248.4 1422.3,2250.3 C1420.1,2252.2 1418.0,2254.7 1417.8,2257.0 C1417.7,2259.2 1419.3,2261.8 1421.2,2263.7 C1423.0,2265.5 1426.2,2267.2 1429.0,2268.1 C1431.8,2269.0 1434.9,2269.3 1437.9,2269.2 C1440.9,2269.1 1444.0,2268.7 1446.8,2267.6 C1449.6,2266.4 1452.6,2264.5 1454.6,2262.5 C1456.5,2260.6 1458.5,2258.1 1458.5,2255.9 C1458.5,2253.6 1456.7,2250.9 1454.6,2249.2 C1452.4,2247.4 1447.2,2245.9 1445.7,2245.3" stroke-width="4.5" />
<path d="M1426.8,2264.2 C1428.6,2264.7 1434.2,2267.0 1437.9,2267.0 C1441.6,2267.0 1447.2,2264.7 1449.0,2264.2" stroke-width="4" />
<path d="M1460.7,2140.6 L1530.3,2120.1" stroke-width="3" />
<g transform="translate(956.0,1738.0)">
<path d="M115.2,361.4 C123.5,361.7 135.8,365.9 143.4,370.0 C151.0,374.2 156.7,378.5 160.7,386.3 C164.7,394.0 167.6,405.8 167.6,416.6 C167.6,427.4 164.4,440.4 160.7,451.2 C157.0,462.0 152.0,471.8 145.5,481.5 C139.0,491.3 131.1,502.7 121.7,509.7 C112.4,516.6 99.0,521.6 89.3,523.1 C79.5,524.5 70.1,521.6 63.3,518.3 C56.4,515.0 52.1,510.0 48.1,503.2 C44.2,496.3 40.7,486.6 39.5,477.2 C38.2,467.8 38.4,457.7 40.6,446.9 C42.7,436.1 46.9,423.1 52.5,412.3 C58.1,401.4 67.3,389.3 74.1,381.9 C81.0,374.6 86.7,371.3 93.6,367.9 C100.4,364.5 106.9,361.0 115.2,361.4Z" stroke-width="4.8" />
<path d="M79.5,407.9 C82.6,404.1 90.9,391.3 97.9,385.2 C105.0,379.1 114.5,372.9 121.7,371.1 C128.9,369.3 135.6,371.1 141.2,374.4 C146.8,377.6 151.9,384.3 155.3,390.6 C158.7,396.9 160.7,408.6 161.8,412.3" stroke-width="2.5" />
<path d="M63.3,442.6 C62.7,447.2 59.5,461.3 60.0,470.7 C60.6,480.1 62.7,491.6 66.5,498.8 C70.3,506.0 80.1,511.5 82.8,514.0" stroke-width="2.5" />
<path d="M84.9,509.7 C88.5,509.1 99.7,508.8 106.6,506.4 C113.4,504.1 122.8,497.4 126.1,495.6" stroke-width="2.5" />
<path d="M123.9,384.1 C130.0,383.8 134.1,387.4 136.9,392.8 C139.7,398.2 141.1,407.4 140.6,416.6 C140.0,425.8 137.5,437.5 133.6,448.0 C129.8,458.4 123.4,471.1 117.4,479.4 C111.5,487.6 103.7,494.0 97.9,497.7 C92.2,501.5 86.9,502.6 82.8,502.1 C78.6,501.5 75.4,498.7 73.0,494.5 C70.7,490.4 69.3,483.7 68.7,477.2 C68.1,470.7 67.7,464.6 69.4,455.5 C71.0,446.5 73.3,433.2 78.4,423.1 C83.6,413.0 92.5,401.4 100.1,394.9 C107.7,388.4 117.8,384.5 123.9,384.1Z" stroke-width="4.8" />
<path d="M132.6,387.4 C135.4,389.7 146.1,395.1 149.9,401.4 C153.7,407.7 155.3,416.4 155.3,425.2 C155.3,434.1 150.8,449.6 149.9,454.5" stroke-width="3" />
<path d="M94.7,440.4 L169.4,473.9" stroke-width="3" />
</g>
<g transform="translate(944.9,1739.0)">
<path d="M305.7,448.0 C294.5,442.7 252.7,421.8 238.6,416.6 C224.5,411.3 227.8,414.4 221.3,416.6 C214.8,418.7 206.5,422.7 199.7,429.6 C192.8,436.4 185.9,446.9 180.2,457.7 C174.4,468.5 168.3,483.3 165.0,494.5 C161.8,505.7 160.3,515.4 160.7,524.8 C161.1,534.2 163.9,544.3 167.2,550.8 C170.4,557.3 166.5,556.0 180.2,563.8 C193.9,571.5 237.9,591.7 249.4,597.3" stroke-width="4.8" />
<path d="M305.7,448.0 C310.0,449.6 325.6,451.4 331.7,457.7 C337.8,464.0 341.1,474.7 342.5,485.8 C344.0,497.0 343.6,511.5 340.3,524.8 C337.1,538.2 330.6,554.6 323.0,565.9 C315.5,577.3 304.6,587.2 294.9,593.0 C285.2,598.8 272.2,599.8 264.6,600.6 C257.0,601.3 252.0,597.9 249.4,597.3" stroke-width="4.8" />
<path d="M253.8,491.3 C257.0,487.5 265.7,474.8 273.2,468.5 C280.8,462.2 291.6,456.1 299.2,453.4 C306.8,450.7 315.5,452.5 318.7,452.3" stroke-width="2.5" />
<path d="M239.7,522.6 C239.2,526.6 236.3,538.5 236.5,546.5 C236.6,554.4 238.6,563.0 240.8,570.3 C242.9,577.5 248.0,586.5 249.4,589.7" stroke-width="2.5" />
<path d="M301.4,459.9 C307.5,459.5 315.8,459.9 320.9,464.2 C325.9,468.5 329.9,477.5 331.7,485.8 C333.5,494.1 333.1,504.2 331.7,514.0 C330.2,523.7 327.4,535.3 323.0,544.3 C318.7,553.3 312.6,561.8 305.7,568.1 C298.9,574.4 289.5,579.8 281.9,582.2 C274.3,584.5 266.0,584.9 260.3,582.2 C254.5,579.5 250.0,573.3 247.3,565.9 C244.6,558.5 243.3,547.5 244.0,537.8 C244.7,528.1 247.8,516.9 251.6,507.5 C255.4,498.1 261.3,488.4 266.8,481.5 C272.2,474.7 278.3,470.0 284.1,466.4 C289.8,462.8 295.3,460.2 301.4,459.9Z" stroke-width="3.2" />
<path d="M266.8,490.2 C264.2,494.5 255.0,508.2 251.6,516.1 C248.2,524.1 247.1,534.2 246.2,537.8" stroke-width="4.8" />
<path d="M325.2,533.5 C326.6,528.4 332.8,512.2 333.9,503.2 C334.9,494.1 333.5,485.8 331.7,479.4 C329.9,472.9 324.5,466.7 323.0,464.2" stroke-width="2.5" />
<path d="M281.9,523.7 L340.3,548.6" stroke-width="3" />
</g>
<g transform="translate(1047.0,1790.3)">
<path d="M678.7,632.5 C686.7,632.9 696.5,635.3 703.9,638.8 C711.3,642.3 718.2,646.2 722.8,653.5 C727.5,660.9 731.0,672.8 731.7,683.0 C732.4,693.1 729.9,704.0 727.0,714.5 C724.2,725.0 720.0,736.2 714.4,746.1 C708.8,755.9 700.8,766.0 693.4,773.4 C686.0,780.8 677.6,786.6 670.3,790.2 C662.9,793.8 656.2,795.5 649.2,794.8 C642.2,794.1 634.5,790.3 628.2,786.0 C621.9,781.7 615.4,776.5 611.4,769.2 C607.4,761.8 605.1,751.7 604.0,741.9 C603.0,732.0 603.2,721.2 605.1,710.3 C607.0,699.5 610.7,686.5 615.6,676.7 C620.5,666.9 627.9,658.1 634.5,651.4 C641.2,644.8 648.2,639.9 655.5,636.7 C662.9,633.6 670.6,632.2 678.7,632.5Z" stroke-width="4.8" />
<path d="M648.2,670.4 C650.5,667.9 656.1,659.9 661.9,655.6 C667.6,651.4 675.9,646.9 682.9,645.1 C689.9,643.4 698.0,643.0 703.9,645.1 C709.9,647.2 716.2,655.6 718.6,657.7" stroke-width="3" />
<path d="M629.3,705.1 C628.2,709.1 623.8,721.0 623.0,729.2 C622.1,737.5 622.8,747.1 624.0,754.5 C625.2,761.8 629.3,770.2 630.3,773.4" stroke-width="3" />
<path d="M647.1,776.5 C651.0,776.0 663.6,775.5 670.3,773.4 C676.9,771.3 682.5,767.1 687.1,763.9 C691.6,760.8 695.8,756.0 697.6,754.5" stroke-width="3" />
<path d="M691.3,654.6 C696.5,654.8 699.0,657.2 701.8,662.0 C704.6,666.7 707.8,674.6 708.1,683.0 C708.5,691.4 706.7,703.7 703.9,712.4 C701.1,721.2 696.2,728.2 691.3,735.5 C686.4,742.9 680.1,751.2 674.5,756.6 C668.9,761.9 662.6,765.6 657.6,767.5 C652.7,769.4 648.5,769.6 645.0,768.1 C641.5,766.7 638.7,763.1 636.6,758.7 C634.6,754.3 633.4,748.2 632.8,741.9 C632.3,735.5 632.3,728.2 633.5,720.8 C634.6,713.5 636.6,705.2 639.8,697.7 C642.9,690.2 647.3,681.8 652.4,675.6 C657.5,669.5 663.8,664.4 670.3,660.9 C676.7,657.4 686.0,654.4 691.3,654.6Z" stroke-width="4.8" />
<path d="M701.8,657.7 C704.3,659.9 713.2,664.1 716.5,670.4 C719.9,676.7 722.1,686.1 721.8,695.6 C721.4,705.1 715.6,721.9 714.4,727.1" stroke-width="3" />
<path d="M659.8,710.3 L767.0,765.0" stroke-width="3" />
</g>
<path d="M1116.5,2116.7 L1166.2,2092.9" stroke-width="3" />
<path d="M1235.5,2175.1 L1291.8,2132.7" stroke-width="3" />
<path d="M1753.0,2431.0 L1802.7,2358.5" stroke-width="3" />
<path d="M1483.3,2597.2 L1483.3,2649.9" stroke-width="1.5" />
</svg></body></html>
